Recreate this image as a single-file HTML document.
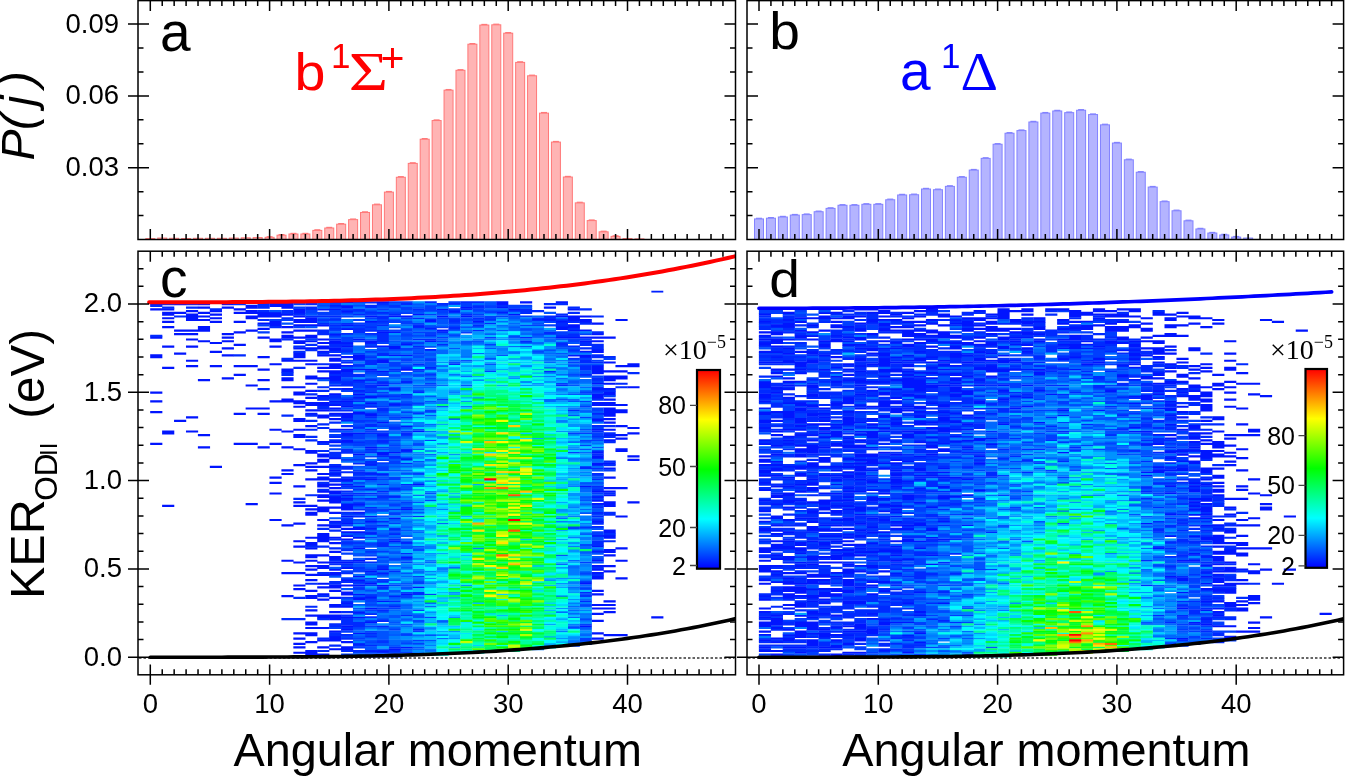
<!DOCTYPE html><html><head><meta charset="utf-8"><style>html,body{margin:0;padding:0;background:#fff;overflow:hidden}svg{display:block}text{font-family:"Liberation Sans",Arial,sans-serif}</style></head><body>
<svg width="1345" height="776" viewBox="0 0 1345 776">
<rect width="1345" height="776" fill="#fff"/>
<g fill="#ffb4b4" stroke="#ff7878" stroke-width="1">
<rect x="145.8" y="238.54" width="9" height="0.96"/>
<rect x="157.73" y="238.06" width="9" height="1.44"/>
<rect x="169.66" y="238.3" width="9" height="1.2"/>
<rect x="181.59" y="238.54" width="9" height="0.96"/>
<rect x="193.52" y="238.3" width="9" height="1.2"/>
<rect x="205.45" y="238.3" width="9" height="1.2"/>
<rect x="217.38" y="238.3" width="9" height="1.2"/>
<rect x="229.31" y="238.06" width="9" height="1.44"/>
<rect x="241.24" y="237.82" width="9" height="1.68"/>
<rect x="253.17" y="237.59" width="9" height="1.91"/>
<rect x="265.1" y="237.35" width="9" height="2.15"/>
<rect x="277.03" y="235.19" width="9" height="4.31"/>
<rect x="288.96" y="234" width="9" height="5.5"/>
<rect x="300.89" y="234" width="9" height="5.5"/>
<rect x="312.82" y="230.41" width="9" height="9.09"/>
<rect x="324.75" y="228.01" width="9" height="11.49"/>
<rect x="336.68" y="224.18" width="9" height="15.32"/>
<rect x="348.61" y="219.64" width="9" height="19.86"/>
<rect x="360.54" y="212.46" width="9" height="27.04"/>
<rect x="372.47" y="204.8" width="9" height="34.7"/>
<rect x="384.4" y="192.11" width="9" height="47.39"/>
<rect x="396.33" y="177.27" width="9" height="62.23"/>
<rect x="408.26" y="163.39" width="9" height="76.11"/>
<rect x="420.19" y="139.22" width="9" height="100.28"/>
<rect x="432.12" y="120.55" width="9" height="118.95"/>
<rect x="444.05" y="90.16" width="9" height="149.34"/>
<rect x="455.98" y="70.29" width="9" height="169.21"/>
<rect x="467.91" y="44.21" width="9" height="195.29"/>
<rect x="479.84" y="25.06" width="9" height="214.44"/>
<rect x="491.77" y="24.82" width="9" height="214.68"/>
<rect x="503.7" y="33.2" width="9" height="206.3"/>
<rect x="515.63" y="62.4" width="9" height="177.1"/>
<rect x="527.56" y="75.8" width="9" height="163.7"/>
<rect x="539.49" y="113.13" width="9" height="126.37"/>
<rect x="551.42" y="142.09" width="9" height="97.41"/>
<rect x="563.35" y="177.03" width="9" height="62.47"/>
<rect x="575.28" y="202.88" width="9" height="36.62"/>
<rect x="587.21" y="220.59" width="9" height="18.91"/>
<rect x="599.14" y="231.84" width="9" height="7.66"/>
<rect x="611.07" y="236.39" width="9" height="3.11"/>
<rect x="623" y="238.54" width="9" height="0.96"/>
<rect x="634.93" y="238.9" width="9" height="0.6"/>
</g>
<g stroke="#ff7878" stroke-width="1.2">
<line x1="266.6" x2="272.6" y1="236.75" y2="236.75"/>
<line x1="278.53" x2="284.53" y1="234.59" y2="234.59"/>
<line x1="290.46" x2="296.46" y1="233.4" y2="233.4"/>
<line x1="302.39" x2="308.39" y1="233.4" y2="233.4"/>
<line x1="314.32" x2="320.32" y1="229.81" y2="229.81"/>
<line x1="326.25" x2="332.25" y1="227.41" y2="227.41"/>
<line x1="338.18" x2="344.18" y1="223.58" y2="223.58"/>
<line x1="350.11" x2="356.11" y1="219.04" y2="219.04"/>
<line x1="362.04" x2="368.04" y1="211.86" y2="211.86"/>
<line x1="373.97" x2="379.97" y1="204.2" y2="204.2"/>
<line x1="385.9" x2="391.9" y1="191.51" y2="191.51"/>
<line x1="397.83" x2="403.83" y1="176.67" y2="176.67"/>
<line x1="409.76" x2="415.76" y1="162.79" y2="162.79"/>
<line x1="421.69" x2="427.69" y1="138.62" y2="138.62"/>
<line x1="433.62" x2="439.62" y1="119.95" y2="119.95"/>
<line x1="445.55" x2="451.55" y1="89.56" y2="89.56"/>
<line x1="457.48" x2="463.48" y1="69.69" y2="69.69"/>
<line x1="469.41" x2="475.41" y1="43.61" y2="43.61"/>
<line x1="481.34" x2="487.34" y1="24.46" y2="24.46"/>
<line x1="493.27" x2="499.27" y1="24.22" y2="24.22"/>
<line x1="505.2" x2="511.2" y1="32.6" y2="32.6"/>
<line x1="517.13" x2="523.13" y1="61.8" y2="61.8"/>
<line x1="529.06" x2="535.06" y1="75.2" y2="75.2"/>
<line x1="540.99" x2="546.99" y1="112.53" y2="112.53"/>
<line x1="552.92" x2="558.92" y1="141.49" y2="141.49"/>
<line x1="564.85" x2="570.85" y1="176.43" y2="176.43"/>
<line x1="576.78" x2="582.78" y1="202.28" y2="202.28"/>
<line x1="588.71" x2="594.71" y1="219.99" y2="219.99"/>
<line x1="600.64" x2="606.64" y1="231.24" y2="231.24"/>
<line x1="612.57" x2="618.57" y1="235.79" y2="235.79"/>
</g>
<g fill="#b4b4ff" stroke="#8282ff" stroke-width="1">
<rect x="754.5" y="218.92" width="9" height="20.58"/>
<rect x="766.43" y="218.2" width="9" height="21.3"/>
<rect x="778.36" y="217" width="9" height="22.5"/>
<rect x="790.29" y="215.09" width="9" height="24.41"/>
<rect x="802.22" y="214.61" width="9" height="24.89"/>
<rect x="814.15" y="211.74" width="9" height="27.76"/>
<rect x="826.08" y="208.39" width="9" height="31.11"/>
<rect x="838.01" y="205.28" width="9" height="34.22"/>
<rect x="849.94" y="205.28" width="9" height="34.22"/>
<rect x="861.87" y="204.32" width="9" height="35.18"/>
<rect x="873.8" y="204.32" width="9" height="35.18"/>
<rect x="885.73" y="199.77" width="9" height="39.73"/>
<rect x="897.66" y="194.98" width="9" height="44.52"/>
<rect x="909.59" y="194.75" width="9" height="44.75"/>
<rect x="921.52" y="189" width="9" height="50.5"/>
<rect x="933.45" y="189.72" width="9" height="49.78"/>
<rect x="945.38" y="186.37" width="9" height="53.13"/>
<rect x="957.31" y="177.27" width="9" height="62.23"/>
<rect x="969.24" y="170.09" width="9" height="69.41"/>
<rect x="981.17" y="158.37" width="9" height="81.13"/>
<rect x="993.1" y="144.25" width="9" height="95.25"/>
<rect x="1005.03" y="133.24" width="9" height="106.26"/>
<rect x="1016.96" y="130.6" width="9" height="108.9"/>
<rect x="1028.89" y="121.99" width="9" height="117.51"/>
<rect x="1040.82" y="113.13" width="9" height="126.37"/>
<rect x="1052.75" y="110.98" width="9" height="128.52"/>
<rect x="1064.68" y="112.66" width="9" height="126.84"/>
<rect x="1076.61" y="110.26" width="9" height="129.24"/>
<rect x="1088.54" y="114.57" width="9" height="124.93"/>
<rect x="1100.47" y="124.86" width="9" height="114.64"/>
<rect x="1112.4" y="143.05" width="9" height="96.45"/>
<rect x="1124.33" y="159.8" width="9" height="79.7"/>
<rect x="1136.26" y="172.25" width="9" height="67.25"/>
<rect x="1148.19" y="187.09" width="9" height="52.41"/>
<rect x="1160.12" y="201.69" width="9" height="37.81"/>
<rect x="1172.05" y="210.78" width="9" height="28.72"/>
<rect x="1183.98" y="220.83" width="9" height="18.67"/>
<rect x="1195.91" y="228.97" width="9" height="10.53"/>
<rect x="1207.84" y="233.04" width="9" height="6.46"/>
<rect x="1219.77" y="234.95" width="9" height="4.55"/>
<rect x="1231.7" y="237.11" width="9" height="2.39"/>
<rect x="1243.63" y="238.06" width="9" height="1.44"/>
</g>
<g stroke="#8282ff" stroke-width="1.2">
<line x1="756" x2="762" y1="218.32" y2="218.32"/>
<line x1="767.93" x2="773.93" y1="217.6" y2="217.6"/>
<line x1="779.86" x2="785.86" y1="216.4" y2="216.4"/>
<line x1="791.79" x2="797.79" y1="214.49" y2="214.49"/>
<line x1="803.72" x2="809.72" y1="214.01" y2="214.01"/>
<line x1="815.65" x2="821.65" y1="211.14" y2="211.14"/>
<line x1="827.58" x2="833.58" y1="207.79" y2="207.79"/>
<line x1="839.51" x2="845.51" y1="204.68" y2="204.68"/>
<line x1="851.44" x2="857.44" y1="204.68" y2="204.68"/>
<line x1="863.37" x2="869.37" y1="203.72" y2="203.72"/>
<line x1="875.3" x2="881.3" y1="203.72" y2="203.72"/>
<line x1="887.23" x2="893.23" y1="199.17" y2="199.17"/>
<line x1="899.16" x2="905.16" y1="194.38" y2="194.38"/>
<line x1="911.09" x2="917.09" y1="194.15" y2="194.15"/>
<line x1="923.02" x2="929.02" y1="188.4" y2="188.4"/>
<line x1="934.95" x2="940.95" y1="189.12" y2="189.12"/>
<line x1="946.88" x2="952.88" y1="185.77" y2="185.77"/>
<line x1="958.81" x2="964.81" y1="176.67" y2="176.67"/>
<line x1="970.74" x2="976.74" y1="169.49" y2="169.49"/>
<line x1="982.67" x2="988.67" y1="157.77" y2="157.77"/>
<line x1="994.6" x2="1000.6" y1="143.65" y2="143.65"/>
<line x1="1006.53" x2="1012.53" y1="132.64" y2="132.64"/>
<line x1="1018.46" x2="1024.46" y1="130" y2="130"/>
<line x1="1030.39" x2="1036.39" y1="121.39" y2="121.39"/>
<line x1="1042.32" x2="1048.32" y1="112.53" y2="112.53"/>
<line x1="1054.25" x2="1060.25" y1="110.38" y2="110.38"/>
<line x1="1066.18" x2="1072.18" y1="112.06" y2="112.06"/>
<line x1="1078.11" x2="1084.11" y1="109.66" y2="109.66"/>
<line x1="1090.04" x2="1096.04" y1="113.97" y2="113.97"/>
<line x1="1101.97" x2="1107.97" y1="124.26" y2="124.26"/>
<line x1="1113.9" x2="1119.9" y1="142.45" y2="142.45"/>
<line x1="1125.83" x2="1131.83" y1="159.2" y2="159.2"/>
<line x1="1137.76" x2="1143.76" y1="171.65" y2="171.65"/>
<line x1="1149.69" x2="1155.69" y1="186.49" y2="186.49"/>
<line x1="1161.62" x2="1167.62" y1="201.09" y2="201.09"/>
<line x1="1173.55" x2="1179.55" y1="210.18" y2="210.18"/>
<line x1="1185.48" x2="1191.48" y1="220.23" y2="220.23"/>
<line x1="1197.41" x2="1203.41" y1="228.37" y2="228.37"/>
<line x1="1209.34" x2="1215.34" y1="232.44" y2="232.44"/>
<line x1="1221.27" x2="1227.27" y1="234.35" y2="234.35"/>
<line x1="1233.2" x2="1239.2" y1="236.51" y2="236.51"/>
</g>
<g transform="translate(150.3,657.2) scale(11.93,-1.77)" fill="none" stroke-width="1.02">
<path stroke="#0015ff" d="M0.5 119.88v1.24M0.5 137.88v1.24M0.5 143.88v1.24M0.5 148.88v1.24M0.5 168.88v2.24M0.5 179.88v1.24M0.5 195.88v1.24M0.5 198.88v1.24M1.5 84.88v1.24M1.5 125.88v2.24M1.5 162.88v1.24M1.5 174.88v1.24M1.5 185.88v1.24M1.5 188.88v1.24M1.5 190.88v1.24M1.5 192.88v2.24M1.5 195.88v1.24M2.5 132.88v1.24M2.5 170.88v1.24M2.5 181.88v1.24M2.5 183.88v1.24M2.5 193.88v1.24M2.5 198.88v1.24M3.5 126.88v1.24M3.5 134.88v1.24M3.5 163.88v1.24M3.5 166.88v1.24M3.5 174.88v1.24M3.5 178.88v1.24M3.5 181.88v1.24M3.5 183.88v1.24M3.5 189.88v4.24M3.5 194.88v1.24M4.5 117.88v1.24M4.5 124.88v1.24M4.5 155.88v1.24M4.5 177.88v1.24M4.5 183.88v3.24M4.5 189.88v1.24M4.5 191.88v1.24M4.5 193.88v1.24M4.5 196.88v1.24M4.5 198.88v1.24M5.5 106.88v1.24M5.5 163.88v1.24M5.5 171.88v1.24M5.5 176.88v1.24M5.5 188.88v1.24M5.5 190.88v1.24M5.5 192.88v1.24M5.5 194.88v1.24M6.5 156.88v1.24M6.5 169.88v1.24M6.5 173.88v1.24M6.5 177.88v1.24M6.5 179.88v1.24M6.5 181.88v1.24M6.5 196.88v1.24M6.5 198.88v1.24M7.5 119.88v1.24M7.5 136.88v1.24M7.5 158.88v1.24M7.5 163.88v1.24M7.5 175.88v1.24M7.5 182.88v1.24M7.5 188.88v1.24M7.5 193.88v1.24M7.5 195.88v1.24M8.5 85.88v1.24M8.5 119.88v1.24M8.5 139.88v1.24M8.5 152.88v1.24M8.5 163.88v1.24M8.5 183.88v1.24M8.5 190.88v2.24M8.5 193.88v2.24M8.5 196.88v2.24M9.5 117.88v1.24M9.5 136.88v1.24M9.5 139.88v1.24M9.5 155.88v1.24M9.5 161.88v1.24M9.5 168.88v1.24M9.5 179.88v1.24M9.5 184.88v1.24M9.5 187.88v1.24M9.5 191.88v3.24M10.5 76.88v1.24M10.5 91.88v1.24M10.5 97.88v1.24M10.5 100.88v1.24M10.5 119.88v1.24M10.5 127.88v1.24M10.5 143.88v1.24M10.5 164.88v1.24M10.5 174.88v1.24M10.5 177.88v2.24M10.5 186.88v3.24M10.5 191.88v3.24M10.5 197.88v2.24M11.5 33.88v1.24M11.5 46.88v1.24M11.5 53.88v1.24M11.5 73.88v1.24M11.5 102.88v1.24M11.5 104.88v1.24M11.5 117.88v1.24M11.5 126.88v1.24M11.5 143.88v2.24M11.5 151.88v1.24M11.5 155.88v2.24M11.5 160.88v2.24M11.5 166.88v1.24M11.5 179.88v2.24M11.5 182.88v1.24M11.5 185.88v1.24M11.5 192.88v1.24M11.5 196.88v3.24M12.5 1.88v1.24M12.5 4.88v1.24M12.5 6.88v1.24M12.5 9.88v1.24M12.5 12.88v1.24M12.5 37.88v1.24M12.5 39.88v1.24M12.5 46.88v1.24M12.5 52.88v1.24M12.5 61.88v1.24M12.5 64.88v1.24M12.5 74.88v1.24M12.5 84.88v1.24M12.5 86.88v1.24M12.5 95.88v1.24M12.5 107.88v1.24M12.5 116.88v1.24M12.5 123.88v2.24M12.5 127.88v1.24M12.5 132.88v2.24M12.5 140.88v1.24M12.5 142.88v2.24M12.5 147.88v2.24M12.5 151.88v1.24M12.5 166.88v1.24M12.5 168.88v3.24M12.5 173.88v1.24M12.5 176.88v2.24M12.5 179.88v1.24M12.5 183.88v1.24M12.5 186.88v1.24M12.5 188.88v2.24M12.5 191.88v1.24M12.5 193.88v3.24M13.5 0.88v3.24M13.5 7.88v1.24M13.5 11.88v2.24M13.5 15.88v1.24M13.5 17.88v2.24M13.5 22.88v1.24M13.5 25.88v1.24M13.5 32.88v2.24M13.5 36.88v1.24M13.5 42.88v1.24M13.5 45.88v1.24M13.5 48.88v1.24M13.5 50.88v1.24M13.5 53.88v1.24M13.5 55.88v2.24M13.5 60.88v1.24M13.5 62.88v2.24M13.5 66.88v1.24M13.5 79.88v2.24M13.5 82.88v1.24M13.5 84.88v1.24M13.5 99.88v1.24M13.5 104.88v1.24M13.5 106.88v1.24M13.5 108.88v1.24M13.5 114.88v2.24M13.5 129.88v1.24M13.5 136.88v1.24M13.5 138.88v1.24M13.5 141.88v2.24M13.5 145.88v1.24M13.5 149.88v1.24M13.5 153.88v1.24M13.5 156.88v2.24M13.5 164.88v1.24M13.5 166.88v1.24M13.5 173.88v1.24M13.5 177.88v1.24M13.5 179.88v2.24M13.5 183.88v1.24M13.5 186.88v1.24M13.5 188.88v3.24M14.5 -0.12v2.24M14.5 4.88v1.24M14.5 8.88v1.24M14.5 15.88v1.24M14.5 21.88v2.24M14.5 31.88v1.24M14.5 34.88v1.24M14.5 38.88v1.24M14.5 40.88v1.24M14.5 45.88v1.24M14.5 49.88v2.24M14.5 52.88v1.24M14.5 56.88v1.24M14.5 64.88v5.24M14.5 73.88v1.24M14.5 76.88v1.24M14.5 81.88v3.24M14.5 87.88v1.24M14.5 89.88v2.24M14.5 92.88v1.24M14.5 95.88v2.24M14.5 99.88v2.24M14.5 102.88v1.24M14.5 106.88v1.24M14.5 109.88v2.24M14.5 112.88v2.24M14.5 120.88v1.24M14.5 134.88v2.24M14.5 138.88v1.24M14.5 141.88v2.24M14.5 146.88v1.24M14.5 156.88v1.24M14.5 160.88v1.24M14.5 162.88v1.24M14.5 169.88v1.24M14.5 171.88v1.24M14.5 173.88v2.24M14.5 176.88v1.24M14.5 178.88v1.24M14.5 186.88v1.24M14.5 195.88v1.24M15.5 -0.12v1.24M15.5 3.88v1.24M15.5 8.88v3.24M15.5 13.88v1.24M15.5 20.88v3.24M15.5 24.88v1.24M15.5 27.88v2.24M15.5 32.88v1.24M15.5 36.88v1.24M15.5 38.88v2.24M15.5 45.88v2.24M15.5 48.88v1.24M15.5 52.88v1.24M15.5 54.88v2.24M15.5 58.88v1.24M15.5 63.88v1.24M15.5 66.88v1.24M15.5 72.88v2.24M15.5 75.88v1.24M15.5 80.88v1.24M15.5 83.88v1.24M15.5 86.88v4.24M15.5 91.88v2.24M15.5 94.88v1.24M15.5 96.88v1.24M15.5 99.88v1.24M15.5 102.88v1.24M15.5 104.88v1.24M15.5 106.88v1.24M15.5 111.88v1.24M15.5 120.88v1.24M15.5 127.88v1.24M15.5 133.88v1.24M15.5 136.88v1.24M15.5 139.88v1.24M15.5 141.88v1.24M15.5 143.88v1.24M15.5 147.88v1.24M15.5 155.88v3.24M15.5 159.88v2.24M15.5 162.88v3.24M15.5 166.88v2.24M15.5 169.88v1.24M15.5 172.88v2.24M15.5 176.88v2.24M15.5 181.88v1.24M15.5 195.88v1.24M15.5 197.88v1.24M15.5 199.88v1.24M16.5 3.88v2.24M16.5 7.88v1.24M16.5 14.88v1.24M16.5 16.88v1.24M16.5 21.88v1.24M16.5 27.88v1.24M16.5 29.88v1.24M16.5 34.88v2.24M16.5 39.88v1.24M16.5 42.88v1.24M16.5 49.88v1.24M16.5 52.88v1.24M16.5 65.88v1.24M16.5 67.88v1.24M16.5 69.88v1.24M16.5 71.88v1.24M16.5 74.88v1.24M16.5 78.88v1.24M16.5 82.88v4.24M16.5 88.88v1.24M16.5 90.88v1.24M16.5 96.88v1.24M16.5 98.88v2.24M16.5 120.88v2.24M16.5 124.88v2.24M16.5 127.88v1.24M16.5 132.88v1.24M16.5 134.88v3.24M16.5 140.88v1.24M16.5 143.88v1.24M16.5 150.88v1.24M16.5 160.88v2.24M16.5 163.88v1.24M16.5 168.88v1.24M16.5 174.88v1.24M16.5 176.88v1.24M16.5 184.88v1.24M16.5 186.88v1.24M16.5 194.88v1.24M16.5 196.88v2.24M16.5 199.88v1.24M17.5 6.88v1.24M17.5 12.88v1.24M17.5 21.88v1.24M17.5 24.88v1.24M17.5 31.88v2.24M17.5 34.88v1.24M17.5 39.88v1.24M17.5 42.88v1.24M17.5 44.88v1.24M17.5 53.88v1.24M17.5 60.88v1.24M17.5 66.88v1.24M17.5 69.88v1.24M17.5 71.88v2.24M17.5 80.88v1.24M17.5 85.88v1.24M17.5 95.88v1.24M17.5 113.88v1.24M17.5 125.88v1.24M17.5 136.88v2.24M17.5 145.88v1.24M17.5 147.88v1.24M17.5 149.88v1.24M17.5 155.88v1.24M17.5 161.88v1.24M17.5 167.88v3.24M17.5 178.88v1.24M18.5 -0.12v1.24M18.5 2.88v1.24M18.5 18.88v1.24M18.5 26.88v1.24M18.5 32.88v1.24M18.5 40.88v1.24M18.5 47.88v1.24M18.5 68.88v1.24M18.5 71.88v1.24M18.5 75.88v1.24M18.5 78.88v1.24M18.5 93.88v1.24M18.5 99.88v1.24M18.5 102.88v1.24M18.5 107.88v1.24M18.5 117.88v1.24M18.5 135.88v2.24M18.5 142.88v1.24M18.5 145.88v2.24M18.5 155.88v1.24M18.5 161.88v1.24M18.5 176.88v2.24M18.5 188.88v1.24M18.5 191.88v1.24M19.5 2.88v1.24M19.5 30.88v1.24M19.5 39.88v1.24M19.5 46.88v1.24M19.5 48.88v1.24M19.5 102.88v1.24M19.5 113.88v2.24M19.5 124.88v1.24M19.5 131.88v1.24M19.5 146.88v1.24M19.5 152.88v1.24M19.5 160.88v1.24M19.5 165.88v2.24M19.5 174.88v1.24M19.5 182.88v1.24M19.5 193.88v1.24M19.5 199.88v1.24M20.5 0.88v1.24M20.5 3.88v1.24M20.5 33.88v1.24M20.5 64.88v1.24M20.5 68.88v1.24M20.5 71.88v1.24M20.5 77.88v1.24M20.5 89.88v1.24M20.5 114.88v1.24M20.5 141.88v1.24M20.5 150.88v1.24M20.5 169.88v1.24M20.5 173.88v2.24M20.5 182.88v1.24M20.5 191.88v1.24M21.5 4.88v1.24M21.5 34.88v1.24M21.5 55.88v1.24M21.5 63.88v1.24M21.5 82.88v1.24M21.5 110.88v1.24M21.5 115.88v1.24M21.5 129.88v1.24M21.5 154.88v1.24M21.5 161.88v1.24M21.5 169.88v1.24M21.5 175.88v1.24M21.5 191.88v1.24M21.5 198.88v1.24M22.5 38.88v1.24M22.5 96.88v1.24M22.5 126.88v1.24M22.5 185.88v1.24M22.5 192.88v1.24M23.5 162.88v1.24M23.5 172.88v1.24M23.5 177.88v1.24M23.5 184.88v1.24M23.5 188.88v2.24M24.5 183.88v1.24M24.5 191.88v1.24M24.5 195.88v1.24M25.5 194.88v1.24M25.5 198.88v1.24M26.5 191.88v1.24M26.5 196.88v1.24M27.5 188.88v1.24M29.5 193.88v1.24M29.5 196.88v1.24M29.5 198.88v2.24M30.5 192.88v1.24M30.5 195.88v1.24M31.5 199.88v1.24M32.5 189.88v1.24M33.5 189.88v1.24M33.5 196.88v1.24M34.5 179.88v1.24M34.5 184.88v2.24M34.5 188.88v1.24M34.5 191.88v1.24M34.5 199.88v1.24M35.5 169.88v1.24M35.5 179.88v1.24M35.5 183.88v1.24M35.5 185.88v2.24M35.5 189.88v3.24M35.5 195.88v1.24M36.5 16.88v1.24M36.5 33.88v1.24M36.5 40.88v1.24M36.5 95.88v1.24M36.5 158.88v1.24M36.5 168.88v2.24M36.5 171.88v1.24M36.5 177.88v1.24M36.5 179.88v1.24M36.5 183.88v1.24M36.5 188.88v2.24M36.5 191.88v1.24M37.5 9.88v1.24M37.5 12.88v1.24M37.5 19.88v1.24M37.5 23.88v1.24M37.5 26.88v1.24M37.5 28.88v1.24M37.5 34.88v1.24M37.5 36.88v1.24M37.5 43.88v2.24M37.5 46.88v1.24M37.5 48.88v1.24M37.5 50.88v1.24M37.5 53.88v1.24M37.5 58.88v1.24M37.5 61.88v1.24M37.5 67.88v1.24M37.5 75.88v1.24M37.5 80.88v1.24M37.5 85.88v1.24M37.5 87.88v1.24M37.5 89.88v1.24M37.5 92.88v1.24M37.5 107.88v2.24M37.5 111.88v2.24M37.5 114.88v1.24M37.5 127.88v1.24M37.5 132.88v2.24M37.5 136.88v1.24M37.5 141.88v2.24M37.5 145.88v3.24M37.5 150.88v1.24M37.5 153.88v1.24M37.5 159.88v5.24M37.5 171.88v2.24M37.5 177.88v1.24M37.5 179.88v1.24M37.5 181.88v1.24M37.5 187.88v1.24M38.5 11.88v1.24M38.5 24.88v1.24M38.5 26.88v1.24M38.5 28.88v1.24M38.5 30.88v1.24M38.5 47.88v1.24M38.5 50.88v1.24M38.5 56.88v1.24M38.5 58.88v2.24M38.5 66.88v2.24M38.5 69.88v2.24M38.5 84.88v3.24M38.5 90.88v1.24M38.5 92.88v1.24M38.5 94.88v1.24M38.5 100.88v1.24M38.5 105.88v1.24M38.5 108.88v1.24M38.5 121.88v1.24M38.5 124.88v1.24M38.5 127.88v1.24M38.5 131.88v1.24M38.5 133.88v1.24M38.5 135.88v5.24M38.5 141.88v2.24M38.5 144.88v1.24M38.5 147.88v2.24M38.5 150.88v1.24M38.5 153.88v1.24M38.5 155.88v3.24M38.5 160.88v1.24M38.5 165.88v1.24M38.5 179.88v1.24M39.5 11.88v1.24M39.5 43.88v1.24M39.5 53.88v1.24M39.5 60.88v1.24M39.5 78.88v1.24M39.5 94.88v1.24M39.5 115.88v2.24M39.5 122.88v1.24M39.5 124.88v1.24M39.5 129.88v1.24M39.5 137.88v2.24M39.5 141.88v1.24M39.5 156.88v2.24M39.5 160.88v1.24M39.5 163.88v1.24M39.5 189.88v1.24M40.5 86.88v1.24M40.5 110.88v1.24M40.5 112.88v1.24M40.5 125.88v1.24M40.5 128.88v1.24M40.5 151.88v1.24M40.5 163.88v2.24M42.5 21.88v1.24"/>
<path stroke="#002aff" d="M0.5 180.88v1.24M0.5 197.88v1.24M1.5 196.88v1.24M1.5 198.88v1.24M2.5 191.88v1.24M3.5 196.88v1.24M3.5 198.88v1.24M5.5 195.88v1.24M7.5 169.88v1.24M7.5 198.88v1.24M9.5 150.88v1.24M9.5 189.88v1.24M9.5 194.88v1.24M9.5 196.88v3.24M10.5 185.88v1.24M11.5 20.88v1.24M11.5 135.88v1.24M11.5 158.88v2.24M11.5 167.88v1.24M11.5 178.88v1.24M11.5 190.88v1.24M11.5 193.88v2.24M12.5 20.88v1.24M12.5 32.88v1.24M12.5 88.88v1.24M12.5 162.88v1.24M12.5 171.88v1.24M12.5 174.88v1.24M12.5 192.88v1.24M13.5 27.88v1.24M13.5 40.88v1.24M13.5 61.88v1.24M13.5 90.88v1.24M13.5 121.88v1.24M13.5 123.88v1.24M13.5 127.88v1.24M13.5 132.88v1.24M13.5 135.88v1.24M13.5 147.88v1.24M13.5 172.88v1.24M13.5 175.88v1.24M13.5 191.88v1.24M13.5 195.88v2.24M13.5 198.88v1.24M14.5 2.88v1.24M14.5 9.88v1.24M14.5 20.88v1.24M14.5 33.88v1.24M14.5 46.88v1.24M14.5 61.88v1.24M14.5 71.88v1.24M14.5 93.88v1.24M14.5 97.88v1.24M14.5 115.88v1.24M14.5 119.88v1.24M14.5 128.88v1.24M14.5 130.88v1.24M14.5 139.88v2.24M14.5 144.88v2.24M14.5 149.88v1.24M14.5 151.88v1.24M14.5 164.88v1.24M14.5 170.88v1.24M14.5 181.88v3.24M14.5 187.88v1.24M14.5 189.88v1.24M14.5 191.88v1.24M15.5 5.88v1.24M15.5 11.88v2.24M15.5 16.88v2.24M15.5 40.88v2.24M15.5 51.88v1.24M15.5 53.88v1.24M15.5 60.88v1.24M15.5 65.88v1.24M15.5 70.88v1.24M15.5 74.88v1.24M15.5 98.88v1.24M15.5 101.88v1.24M15.5 103.88v1.24M15.5 107.88v1.24M15.5 112.88v3.24M15.5 121.88v1.24M15.5 123.88v1.24M15.5 131.88v1.24M15.5 135.88v1.24M15.5 138.88v1.24M15.5 142.88v1.24M15.5 145.88v2.24M15.5 150.88v1.24M15.5 152.88v1.24M15.5 154.88v1.24M15.5 158.88v1.24M15.5 171.88v1.24M15.5 174.88v2.24M15.5 178.88v1.24M15.5 180.88v1.24M15.5 184.88v1.24M15.5 186.88v1.24M15.5 189.88v1.24M15.5 191.88v1.24M16.5 2.88v1.24M16.5 9.88v1.24M16.5 11.88v1.24M16.5 15.88v1.24M16.5 17.88v4.24M16.5 22.88v1.24M16.5 24.88v1.24M16.5 28.88v1.24M16.5 30.88v1.24M16.5 32.88v1.24M16.5 41.88v1.24M16.5 46.88v1.24M16.5 51.88v1.24M16.5 53.88v1.24M16.5 59.88v1.24M16.5 63.88v1.24M16.5 75.88v2.24M16.5 80.88v1.24M16.5 87.88v1.24M16.5 92.88v1.24M16.5 95.88v1.24M16.5 100.88v1.24M16.5 103.88v1.24M16.5 105.88v2.24M16.5 110.88v1.24M16.5 114.88v3.24M16.5 123.88v1.24M16.5 129.88v1.24M16.5 133.88v1.24M16.5 138.88v1.24M16.5 141.88v2.24M16.5 144.88v1.24M16.5 152.88v3.24M16.5 157.88v3.24M16.5 165.88v1.24M16.5 171.88v2.24M16.5 175.88v1.24M16.5 181.88v1.24M16.5 187.88v1.24M16.5 193.88v1.24M17.5 2.88v1.24M17.5 5.88v1.24M17.5 16.88v3.24M17.5 23.88v1.24M17.5 37.88v1.24M17.5 41.88v1.24M17.5 49.88v1.24M17.5 52.88v1.24M17.5 63.88v1.24M17.5 78.88v1.24M17.5 82.88v1.24M17.5 84.88v1.24M17.5 91.88v1.24M17.5 93.88v1.24M17.5 97.88v1.24M17.5 99.88v2.24M17.5 102.88v2.24M17.5 108.88v1.24M17.5 110.88v1.24M17.5 120.88v1.24M17.5 128.88v1.24M17.5 132.88v1.24M17.5 141.88v1.24M17.5 143.88v1.24M17.5 154.88v1.24M17.5 157.88v2.24M17.5 163.88v1.24M17.5 182.88v3.24M17.5 186.88v1.24M17.5 192.88v1.24M17.5 194.88v2.24M18.5 5.88v1.24M18.5 10.88v1.24M18.5 12.88v1.24M18.5 19.88v1.24M18.5 21.88v1.24M18.5 23.88v1.24M18.5 33.88v1.24M18.5 45.88v1.24M18.5 52.88v1.24M18.5 54.88v1.24M18.5 58.88v1.24M18.5 69.88v1.24M18.5 83.88v1.24M18.5 88.88v1.24M18.5 91.88v1.24M18.5 100.88v1.24M18.5 108.88v2.24M18.5 114.88v1.24M18.5 116.88v1.24M18.5 125.88v1.24M18.5 127.88v1.24M18.5 129.88v2.24M18.5 132.88v1.24M18.5 134.88v1.24M18.5 140.88v1.24M18.5 148.88v1.24M18.5 151.88v2.24M18.5 160.88v1.24M18.5 164.88v3.24M18.5 168.88v1.24M18.5 171.88v1.24M18.5 174.88v1.24M18.5 181.88v1.24M18.5 183.88v1.24M18.5 185.88v1.24M18.5 193.88v1.24M18.5 196.88v2.24M18.5 199.88v1.24M19.5 1.88v1.24M19.5 7.88v1.24M19.5 16.88v1.24M19.5 19.88v1.24M19.5 25.88v1.24M19.5 37.88v2.24M19.5 41.88v1.24M19.5 49.88v2.24M19.5 55.88v1.24M19.5 58.88v1.24M19.5 61.88v3.24M19.5 73.88v1.24M19.5 75.88v1.24M19.5 89.88v1.24M19.5 92.88v1.24M19.5 96.88v1.24M19.5 112.88v1.24M19.5 120.88v2.24M19.5 123.88v1.24M19.5 125.88v1.24M19.5 138.88v2.24M19.5 150.88v1.24M19.5 153.88v2.24M19.5 167.88v1.24M19.5 169.88v2.24M19.5 177.88v5.24M19.5 183.88v1.24M19.5 186.88v1.24M19.5 188.88v1.24M19.5 190.88v2.24M19.5 198.88v1.24M20.5 -0.12v1.24M20.5 2.88v1.24M20.5 4.88v1.24M20.5 27.88v1.24M20.5 30.88v1.24M20.5 47.88v1.24M20.5 65.88v1.24M20.5 82.88v1.24M20.5 93.88v2.24M20.5 111.88v2.24M20.5 128.88v1.24M20.5 142.88v1.24M20.5 146.88v1.24M20.5 161.88v1.24M20.5 192.88v1.24M20.5 197.88v1.24M21.5 11.88v1.24M21.5 22.88v1.24M21.5 54.88v1.24M21.5 57.88v1.24M21.5 83.88v1.24M21.5 96.88v1.24M21.5 108.88v1.24M21.5 111.88v1.24M21.5 116.88v1.24M21.5 124.88v2.24M21.5 134.88v1.24M21.5 137.88v1.24M21.5 141.88v1.24M21.5 147.88v1.24M21.5 162.88v1.24M21.5 176.88v1.24M22.5 6.88v1.24M22.5 14.88v1.24M22.5 19.88v1.24M22.5 34.88v2.24M22.5 59.88v1.24M22.5 78.88v1.24M22.5 102.88v1.24M22.5 136.88v1.24M22.5 148.88v1.24M22.5 161.88v1.24M22.5 164.88v1.24M22.5 174.88v1.24M22.5 176.88v1.24M22.5 178.88v1.24M22.5 186.88v1.24M22.5 190.88v1.24M22.5 195.88v1.24M23.5 11.88v1.24M23.5 158.88v1.24M23.5 178.88v1.24M23.5 180.88v1.24M23.5 199.88v1.24M24.5 175.88v1.24M24.5 182.88v1.24M24.5 198.88v1.24M25.5 164.88v1.24M25.5 184.88v2.24M25.5 188.88v2.24M25.5 193.88v1.24M26.5 192.88v1.24M26.5 195.88v1.24M26.5 199.88v1.24M27.5 183.88v1.24M27.5 186.88v1.24M27.5 190.88v1.24M27.5 196.88v2.24M27.5 199.88v1.24M28.5 187.88v1.24M28.5 189.88v1.24M29.5 197.88v1.24M30.5 194.88v1.24M31.5 177.88v1.24M31.5 179.88v1.24M31.5 193.88v3.24M32.5 190.88v1.24M32.5 194.88v1.24M33.5 160.88v1.24M33.5 181.88v2.24M33.5 190.88v2.24M33.5 198.88v1.24M34.5 152.88v1.24M34.5 175.88v2.24M34.5 180.88v1.24M34.5 186.88v2.24M34.5 189.88v1.24M34.5 192.88v1.24M34.5 198.88v1.24M35.5 138.88v1.24M35.5 167.88v1.24M35.5 172.88v1.24M35.5 174.88v1.24M35.5 180.88v2.24M35.5 184.88v1.24M35.5 188.88v1.24M35.5 193.88v1.24M35.5 196.88v1.24M36.5 30.88v1.24M36.5 35.88v1.24M36.5 37.88v1.24M36.5 41.88v1.24M36.5 62.88v1.24M36.5 72.88v1.24M36.5 105.88v2.24M36.5 161.88v3.24M36.5 165.88v2.24M36.5 173.88v1.24M36.5 175.88v2.24M36.5 187.88v1.24M36.5 195.88v1.24M37.5 45.88v1.24M37.5 49.88v1.24M37.5 62.88v3.24M37.5 72.88v1.24M37.5 74.88v1.24M37.5 76.88v1.24M37.5 78.88v1.24M37.5 83.88v1.24M37.5 93.88v1.24M37.5 95.88v1.24M37.5 99.88v1.24M37.5 102.88v1.24M37.5 105.88v1.24M37.5 113.88v1.24M37.5 115.88v1.24M37.5 123.88v1.24M37.5 126.88v1.24M37.5 129.88v1.24M37.5 144.88v1.24M37.5 149.88v1.24M37.5 151.88v1.24M37.5 155.88v2.24M37.5 165.88v1.24M37.5 168.88v2.24M37.5 173.88v3.24M37.5 182.88v1.24M37.5 191.88v1.24M38.5 64.88v1.24M38.5 68.88v1.24M38.5 79.88v2.24M38.5 91.88v1.24M38.5 107.88v1.24M38.5 109.88v1.24M38.5 120.88v1.24M38.5 123.88v1.24M38.5 125.88v1.24M38.5 129.88v1.24M38.5 149.88v1.24M38.5 168.88v1.24M39.5 151.88v1.24M39.5 153.88v1.24M40.5 159.88v1.24"/>
<path stroke="#003eff" d="M9.5 182.88v1.24M9.5 186.88v1.24M10.5 189.88v1.24M11.5 189.88v1.24M12.5 185.88v1.24M12.5 196.88v1.24M12.5 198.88v1.24M13.5 178.88v1.24M13.5 193.88v2.24M14.5 192.88v2.24M14.5 197.88v1.24M15.5 15.88v1.24M15.5 90.88v1.24M15.5 105.88v1.24M15.5 116.88v1.24M15.5 118.88v1.24M15.5 124.88v1.24M15.5 126.88v1.24M15.5 144.88v1.24M15.5 153.88v1.24M15.5 183.88v1.24M15.5 185.88v1.24M15.5 187.88v1.24M15.5 190.88v1.24M15.5 192.88v3.24M15.5 196.88v1.24M15.5 198.88v1.24M16.5 0.88v1.24M16.5 10.88v1.24M16.5 13.88v1.24M16.5 43.88v1.24M16.5 47.88v1.24M16.5 50.88v1.24M16.5 57.88v1.24M16.5 60.88v1.24M16.5 62.88v1.24M16.5 64.88v1.24M16.5 73.88v1.24M16.5 77.88v1.24M16.5 79.88v1.24M16.5 89.88v1.24M16.5 91.88v1.24M16.5 94.88v1.24M16.5 119.88v1.24M16.5 122.88v1.24M16.5 145.88v1.24M16.5 149.88v1.24M16.5 155.88v1.24M16.5 166.88v1.24M16.5 173.88v1.24M16.5 177.88v3.24M16.5 191.88v1.24M16.5 195.88v1.24M17.5 1.88v1.24M17.5 4.88v1.24M17.5 9.88v1.24M17.5 15.88v1.24M17.5 38.88v1.24M17.5 40.88v1.24M17.5 47.88v2.24M17.5 61.88v1.24M17.5 68.88v1.24M17.5 74.88v1.24M17.5 79.88v1.24M17.5 86.88v1.24M17.5 88.88v1.24M17.5 90.88v1.24M17.5 101.88v1.24M17.5 104.88v1.24M17.5 114.88v1.24M17.5 118.88v2.24M17.5 122.88v3.24M17.5 129.88v1.24M17.5 131.88v1.24M17.5 139.88v2.24M17.5 144.88v1.24M17.5 146.88v1.24M17.5 148.88v1.24M17.5 151.88v3.24M17.5 164.88v1.24M17.5 166.88v1.24M17.5 170.88v1.24M17.5 177.88v1.24M17.5 185.88v1.24M17.5 187.88v1.24M17.5 189.88v1.24M17.5 197.88v1.24M17.5 199.88v1.24M18.5 1.88v1.24M18.5 7.88v1.24M18.5 11.88v1.24M18.5 13.88v1.24M18.5 16.88v1.24M18.5 25.88v1.24M18.5 28.88v1.24M18.5 30.88v2.24M18.5 34.88v1.24M18.5 36.88v1.24M18.5 39.88v1.24M18.5 41.88v1.24M18.5 43.88v1.24M18.5 46.88v1.24M18.5 48.88v1.24M18.5 56.88v1.24M18.5 62.88v2.24M18.5 66.88v1.24M18.5 72.88v2.24M18.5 76.88v1.24M18.5 81.88v2.24M18.5 103.88v1.24M18.5 112.88v1.24M18.5 115.88v1.24M18.5 119.88v3.24M18.5 126.88v1.24M18.5 141.88v1.24M18.5 149.88v2.24M18.5 153.88v1.24M18.5 159.88v1.24M18.5 175.88v1.24M18.5 184.88v1.24M18.5 186.88v2.24M18.5 190.88v1.24M18.5 192.88v1.24M18.5 194.88v1.24M19.5 -0.12v1.24M19.5 8.88v1.24M19.5 20.88v1.24M19.5 24.88v1.24M19.5 26.88v1.24M19.5 28.88v1.24M19.5 42.88v1.24M19.5 45.88v1.24M19.5 67.88v1.24M19.5 81.88v2.24M19.5 88.88v1.24M19.5 90.88v1.24M19.5 99.88v1.24M19.5 101.88v1.24M19.5 104.88v3.24M19.5 108.88v1.24M19.5 110.88v1.24M19.5 117.88v1.24M19.5 119.88v1.24M19.5 122.88v1.24M19.5 126.88v1.24M19.5 129.88v1.24M19.5 135.88v1.24M19.5 137.88v1.24M19.5 140.88v1.24M19.5 148.88v1.24M19.5 158.88v2.24M19.5 172.88v1.24M19.5 176.88v1.24M19.5 187.88v1.24M19.5 189.88v1.24M19.5 195.88v1.24M19.5 197.88v1.24M20.5 1.88v1.24M20.5 14.88v1.24M20.5 26.88v1.24M20.5 28.88v1.24M20.5 36.88v1.24M20.5 39.88v1.24M20.5 54.88v1.24M20.5 61.88v1.24M20.5 70.88v1.24M20.5 74.88v1.24M20.5 79.88v2.24M20.5 84.88v2.24M20.5 99.88v2.24M20.5 108.88v2.24M20.5 118.88v1.24M20.5 121.88v1.24M20.5 123.88v1.24M20.5 127.88v1.24M20.5 129.88v1.24M20.5 134.88v1.24M20.5 144.88v1.24M20.5 149.88v1.24M20.5 151.88v1.24M20.5 153.88v1.24M20.5 158.88v1.24M20.5 160.88v1.24M20.5 163.88v3.24M20.5 167.88v1.24M20.5 172.88v1.24M20.5 183.88v1.24M20.5 188.88v2.24M20.5 193.88v1.24M20.5 196.88v1.24M20.5 199.88v1.24M21.5 1.88v1.24M21.5 6.88v1.24M21.5 32.88v2.24M21.5 35.88v1.24M21.5 46.88v1.24M21.5 52.88v1.24M21.5 86.88v1.24M21.5 93.88v1.24M21.5 102.88v1.24M21.5 126.88v1.24M21.5 142.88v1.24M21.5 145.88v2.24M21.5 163.88v1.24M21.5 166.88v2.24M21.5 172.88v2.24M21.5 180.88v2.24M21.5 183.88v2.24M21.5 187.88v2.24M21.5 190.88v1.24M21.5 193.88v1.24M21.5 195.88v2.24M21.5 199.88v1.24M22.5 8.88v1.24M22.5 13.88v1.24M22.5 25.88v1.24M22.5 40.88v2.24M22.5 44.88v1.24M22.5 80.88v1.24M22.5 119.88v1.24M22.5 142.88v1.24M22.5 149.88v1.24M22.5 158.88v1.24M22.5 160.88v1.24M22.5 168.88v1.24M22.5 170.88v1.24M22.5 173.88v1.24M22.5 180.88v1.24M22.5 182.88v1.24M22.5 187.88v1.24M22.5 194.88v1.24M23.5 21.88v1.24M23.5 34.88v1.24M23.5 87.88v1.24M23.5 110.88v1.24M23.5 121.88v1.24M23.5 137.88v2.24M23.5 146.88v1.24M23.5 153.88v1.24M23.5 156.88v1.24M23.5 166.88v2.24M23.5 181.88v2.24M23.5 185.88v1.24M23.5 192.88v1.24M23.5 194.88v4.24M24.5 19.88v1.24M24.5 144.88v1.24M24.5 177.88v1.24M24.5 179.88v1.24M24.5 185.88v1.24M24.5 190.88v1.24M24.5 193.88v2.24M24.5 197.88v1.24M25.5 133.88v1.24M25.5 180.88v1.24M25.5 187.88v1.24M25.5 190.88v1.24M25.5 195.88v1.24M25.5 199.88v1.24M26.5 182.88v1.24M26.5 185.88v1.24M26.5 189.88v1.24M26.5 197.88v2.24M27.5 185.88v1.24M27.5 189.88v1.24M27.5 192.88v1.24M27.5 194.88v2.24M28.5 160.88v1.24M28.5 167.88v1.24M28.5 175.88v1.24M28.5 179.88v1.24M28.5 181.88v1.24M28.5 190.88v2.24M28.5 193.88v2.24M28.5 196.88v2.24M29.5 191.88v1.24M29.5 194.88v1.24M30.5 180.88v1.24M30.5 196.88v2.24M31.5 176.88v1.24M31.5 184.88v1.24M31.5 186.88v1.24M31.5 191.88v1.24M31.5 197.88v1.24M32.5 171.88v1.24M32.5 181.88v1.24M32.5 186.88v1.24M33.5 172.88v1.24M33.5 186.88v1.24M33.5 188.88v1.24M34.5 24.88v1.24M34.5 153.88v1.24M34.5 174.88v1.24M34.5 181.88v2.24M35.5 5.88v1.24M35.5 15.88v1.24M35.5 71.88v2.24M35.5 114.88v1.24M35.5 120.88v1.24M35.5 125.88v1.24M35.5 158.88v1.24M35.5 163.88v1.24M35.5 165.88v1.24M35.5 171.88v1.24M35.5 177.88v2.24M36.5 6.88v1.24M36.5 8.88v2.24M36.5 17.88v1.24M36.5 20.88v1.24M36.5 28.88v1.24M36.5 46.88v1.24M36.5 52.88v1.24M36.5 68.88v1.24M36.5 97.88v1.24M36.5 118.88v1.24M36.5 121.88v1.24M36.5 125.88v1.24M36.5 134.88v1.24M36.5 140.88v1.24M36.5 143.88v1.24M36.5 148.88v1.24M36.5 167.88v1.24M36.5 178.88v1.24M36.5 181.88v1.24M37.5 54.88v1.24M37.5 59.88v1.24M37.5 68.88v2.24M37.5 79.88v1.24M37.5 84.88v1.24M37.5 88.88v1.24M37.5 91.88v1.24M37.5 94.88v1.24M37.5 97.88v1.24M37.5 101.88v1.24M37.5 121.88v1.24M37.5 124.88v2.24M37.5 128.88v1.24M37.5 138.88v2.24M37.5 148.88v1.24M37.5 154.88v1.24M37.5 157.88v1.24M37.5 166.88v1.24M38.5 104.88v1.24M38.5 146.88v1.24M38.5 167.88v1.24"/>
<path stroke="#0053ff" d="M10.5 194.88v1.24M11.5 187.88v1.24M13.5 185.88v1.24M13.5 192.88v1.24M14.5 155.88v1.24M14.5 188.88v1.24M14.5 190.88v1.24M14.5 198.88v1.24M15.5 44.88v1.24M15.5 49.88v1.24M15.5 77.88v1.24M15.5 179.88v1.24M16.5 31.88v1.24M16.5 37.88v1.24M16.5 68.88v1.24M16.5 118.88v1.24M16.5 126.88v1.24M16.5 139.88v1.24M16.5 156.88v1.24M16.5 162.88v1.24M16.5 170.88v1.24M16.5 185.88v1.24M16.5 192.88v1.24M17.5 8.88v1.24M17.5 10.88v1.24M17.5 14.88v1.24M17.5 20.88v1.24M17.5 26.88v1.24M17.5 28.88v1.24M17.5 33.88v1.24M17.5 50.88v2.24M17.5 54.88v1.24M17.5 56.88v2.24M17.5 62.88v1.24M17.5 64.88v1.24M17.5 67.88v1.24M17.5 76.88v1.24M17.5 94.88v1.24M17.5 106.88v1.24M17.5 111.88v2.24M17.5 115.88v1.24M17.5 121.88v1.24M17.5 130.88v1.24M17.5 133.88v3.24M17.5 150.88v1.24M17.5 179.88v1.24M17.5 181.88v1.24M17.5 193.88v1.24M18.5 0.88v1.24M18.5 3.88v2.24M18.5 6.88v1.24M18.5 8.88v1.24M18.5 29.88v1.24M18.5 49.88v1.24M18.5 57.88v1.24M18.5 59.88v1.24M18.5 61.88v1.24M18.5 70.88v1.24M18.5 74.88v1.24M18.5 80.88v1.24M18.5 85.88v1.24M18.5 87.88v1.24M18.5 90.88v1.24M18.5 94.88v1.24M18.5 98.88v1.24M18.5 101.88v1.24M18.5 105.88v1.24M18.5 118.88v1.24M18.5 123.88v2.24M18.5 131.88v1.24M18.5 133.88v1.24M18.5 137.88v1.24M18.5 143.88v1.24M18.5 156.88v1.24M18.5 158.88v1.24M18.5 167.88v1.24M18.5 169.88v1.24M18.5 178.88v1.24M18.5 180.88v1.24M19.5 3.88v1.24M19.5 5.88v2.24M19.5 9.88v5.24M19.5 15.88v1.24M19.5 27.88v1.24M19.5 33.88v3.24M19.5 52.88v2.24M19.5 64.88v2.24M19.5 68.88v1.24M19.5 72.88v1.24M19.5 78.88v1.24M19.5 85.88v1.24M19.5 87.88v1.24M19.5 91.88v1.24M19.5 94.88v1.24M19.5 100.88v1.24M19.5 107.88v1.24M19.5 116.88v1.24M19.5 130.88v1.24M19.5 132.88v1.24M19.5 136.88v1.24M19.5 141.88v3.24M19.5 145.88v1.24M19.5 147.88v1.24M19.5 162.88v1.24M19.5 171.88v1.24M19.5 173.88v1.24M19.5 192.88v1.24M19.5 196.88v1.24M20.5 5.88v1.24M20.5 11.88v1.24M20.5 15.88v1.24M20.5 18.88v1.24M20.5 21.88v2.24M20.5 32.88v1.24M20.5 42.88v1.24M20.5 53.88v1.24M20.5 57.88v2.24M20.5 63.88v1.24M20.5 66.88v1.24M20.5 69.88v1.24M20.5 76.88v1.24M20.5 87.88v1.24M20.5 90.88v1.24M20.5 104.88v1.24M20.5 106.88v1.24M20.5 110.88v1.24M20.5 115.88v3.24M20.5 119.88v1.24M20.5 122.88v1.24M20.5 130.88v1.24M20.5 133.88v1.24M20.5 135.88v1.24M20.5 140.88v1.24M20.5 145.88v1.24M20.5 147.88v1.24M20.5 157.88v1.24M20.5 170.88v1.24M20.5 175.88v1.24M20.5 177.88v1.24M20.5 180.88v1.24M20.5 185.88v1.24M20.5 194.88v1.24M20.5 198.88v1.24M21.5 3.88v1.24M21.5 7.88v1.24M21.5 12.88v1.24M21.5 17.88v1.24M21.5 20.88v1.24M21.5 28.88v1.24M21.5 37.88v2.24M21.5 40.88v1.24M21.5 49.88v1.24M21.5 60.88v2.24M21.5 64.88v1.24M21.5 67.88v1.24M21.5 70.88v1.24M21.5 72.88v1.24M21.5 78.88v1.24M21.5 80.88v1.24M21.5 85.88v1.24M21.5 94.88v2.24M21.5 106.88v1.24M21.5 114.88v1.24M21.5 123.88v1.24M21.5 128.88v1.24M21.5 143.88v1.24M21.5 153.88v1.24M21.5 155.88v2.24M21.5 158.88v2.24M21.5 165.88v1.24M21.5 178.88v2.24M21.5 182.88v1.24M21.5 194.88v1.24M22.5 0.88v1.24M22.5 4.88v1.24M22.5 11.88v1.24M22.5 21.88v2.24M22.5 32.88v1.24M22.5 61.88v1.24M22.5 82.88v1.24M22.5 86.88v1.24M22.5 97.88v1.24M22.5 109.88v1.24M22.5 116.88v1.24M22.5 118.88v1.24M22.5 127.88v1.24M22.5 137.88v1.24M22.5 141.88v1.24M22.5 152.88v1.24M22.5 157.88v1.24M22.5 163.88v1.24M22.5 166.88v1.24M22.5 169.88v1.24M22.5 171.88v2.24M22.5 184.88v1.24M22.5 193.88v1.24M22.5 196.88v1.24M22.5 198.88v1.24M23.5 8.88v1.24M23.5 91.88v1.24M23.5 135.88v1.24M23.5 143.88v1.24M23.5 152.88v1.24M23.5 155.88v1.24M23.5 159.88v1.24M23.5 161.88v1.24M23.5 163.88v3.24M23.5 169.88v2.24M23.5 174.88v1.24M23.5 186.88v1.24M24.5 11.88v1.24M24.5 140.88v1.24M24.5 163.88v1.24M24.5 181.88v1.24M24.5 187.88v3.24M24.5 192.88v1.24M25.5 49.88v1.24M25.5 158.88v1.24M25.5 165.88v1.24M25.5 173.88v1.24M25.5 181.88v1.24M25.5 183.88v1.24M25.5 186.88v1.24M26.5 152.88v1.24M26.5 166.88v1.24M26.5 176.88v2.24M26.5 187.88v1.24M26.5 190.88v1.24M26.5 193.88v1.24M27.5 177.88v1.24M27.5 187.88v1.24M27.5 191.88v1.24M28.5 164.88v1.24M28.5 173.88v1.24M28.5 184.88v1.24M28.5 198.88v2.24M29.5 169.88v1.24M29.5 183.88v1.24M30.5 179.88v1.24M30.5 185.88v1.24M30.5 190.88v2.24M31.5 174.88v1.24M31.5 181.88v1.24M31.5 183.88v1.24M31.5 188.88v2.24M31.5 196.88v1.24M32.5 176.88v1.24M32.5 180.88v1.24M32.5 184.88v1.24M32.5 187.88v1.24M33.5 162.88v1.24M33.5 179.88v1.24M33.5 193.88v1.24M34.5 56.88v1.24M34.5 111.88v1.24M34.5 144.88v1.24M34.5 158.88v1.24M34.5 168.88v1.24M34.5 170.88v1.24M34.5 173.88v1.24M34.5 178.88v1.24M35.5 23.88v1.24M35.5 135.88v1.24M35.5 143.88v1.24M35.5 147.88v1.24M35.5 152.88v1.24M35.5 154.88v1.24M35.5 173.88v1.24M35.5 176.88v1.24M35.5 182.88v1.24M36.5 7.88v1.24M36.5 11.88v1.24M36.5 15.88v1.24M36.5 27.88v1.24M36.5 34.88v1.24M36.5 38.88v1.24M36.5 45.88v1.24M36.5 58.88v1.24M36.5 71.88v1.24M36.5 80.88v1.24M36.5 85.88v1.24M36.5 87.88v1.24M36.5 89.88v1.24M36.5 94.88v1.24M36.5 116.88v1.24M36.5 120.88v1.24M36.5 127.88v1.24M36.5 137.88v1.24M36.5 147.88v1.24M36.5 149.88v1.24M36.5 157.88v1.24M36.5 159.88v2.24M36.5 164.88v1.24M37.5 52.88v1.24M37.5 55.88v1.24M37.5 57.88v1.24M37.5 65.88v2.24M37.5 71.88v1.24M37.5 77.88v1.24M37.5 81.88v2.24M37.5 90.88v1.24M37.5 100.88v1.24M37.5 104.88v1.24M37.5 117.88v1.24M37.5 122.88v1.24M37.5 134.88v2.24M37.5 137.88v1.24M37.5 164.88v1.24"/>
<path stroke="#0068ff" d="M14.5 196.88v1.24M15.5 182.88v1.24M15.5 188.88v1.24M16.5 61.88v1.24M16.5 86.88v1.24M16.5 97.88v1.24M16.5 109.88v1.24M16.5 111.88v1.24M16.5 146.88v1.24M16.5 180.88v1.24M17.5 0.88v1.24M17.5 11.88v1.24M17.5 13.88v1.24M17.5 19.88v1.24M17.5 25.88v1.24M17.5 36.88v1.24M17.5 43.88v1.24M17.5 45.88v1.24M17.5 59.88v1.24M17.5 75.88v1.24M17.5 83.88v1.24M17.5 87.88v1.24M17.5 96.88v1.24M17.5 105.88v1.24M17.5 109.88v1.24M17.5 117.88v1.24M17.5 126.88v2.24M17.5 162.88v1.24M17.5 172.88v3.24M17.5 180.88v1.24M17.5 191.88v1.24M17.5 198.88v1.24M18.5 9.88v1.24M18.5 15.88v1.24M18.5 17.88v1.24M18.5 24.88v1.24M18.5 27.88v1.24M18.5 37.88v1.24M18.5 42.88v1.24M18.5 50.88v2.24M18.5 77.88v1.24M18.5 97.88v1.24M18.5 106.88v1.24M18.5 110.88v1.24M18.5 122.88v1.24M18.5 154.88v1.24M18.5 157.88v1.24M18.5 170.88v1.24M18.5 172.88v1.24M18.5 189.88v1.24M18.5 195.88v1.24M19.5 0.88v1.24M19.5 21.88v2.24M19.5 31.88v1.24M19.5 44.88v1.24M19.5 47.88v1.24M19.5 51.88v1.24M19.5 54.88v1.24M19.5 59.88v1.24M19.5 66.88v1.24M19.5 69.88v2.24M19.5 77.88v1.24M19.5 83.88v1.24M19.5 86.88v1.24M19.5 93.88v1.24M19.5 97.88v2.24M19.5 111.88v1.24M19.5 128.88v1.24M19.5 134.88v1.24M19.5 151.88v1.24M19.5 155.88v2.24M19.5 163.88v2.24M19.5 184.88v2.24M19.5 194.88v1.24M20.5 6.88v3.24M20.5 12.88v2.24M20.5 17.88v1.24M20.5 19.88v1.24M20.5 25.88v1.24M20.5 31.88v1.24M20.5 35.88v1.24M20.5 40.88v1.24M20.5 46.88v1.24M20.5 48.88v1.24M20.5 50.88v1.24M20.5 55.88v1.24M20.5 60.88v1.24M20.5 67.88v1.24M20.5 75.88v1.24M20.5 86.88v1.24M20.5 92.88v1.24M20.5 95.88v2.24M20.5 107.88v1.24M20.5 113.88v1.24M20.5 120.88v1.24M20.5 125.88v2.24M20.5 131.88v1.24M20.5 136.88v1.24M20.5 138.88v2.24M20.5 154.88v1.24M20.5 156.88v1.24M20.5 162.88v1.24M20.5 171.88v1.24M20.5 176.88v1.24M20.5 178.88v2.24M20.5 195.88v1.24M21.5 2.88v1.24M21.5 8.88v1.24M21.5 16.88v1.24M21.5 19.88v1.24M21.5 23.88v2.24M21.5 26.88v2.24M21.5 39.88v1.24M21.5 44.88v1.24M21.5 53.88v1.24M21.5 62.88v1.24M21.5 65.88v1.24M21.5 75.88v1.24M21.5 81.88v1.24M21.5 84.88v1.24M21.5 87.88v1.24M21.5 89.88v1.24M21.5 100.88v1.24M21.5 104.88v1.24M21.5 118.88v1.24M21.5 122.88v1.24M21.5 131.88v1.24M21.5 133.88v1.24M21.5 135.88v1.24M21.5 139.88v2.24M21.5 144.88v1.24M21.5 164.88v1.24M21.5 170.88v1.24M21.5 177.88v1.24M21.5 186.88v1.24M21.5 189.88v1.24M21.5 197.88v1.24M22.5 3.88v1.24M22.5 15.88v1.24M22.5 18.88v1.24M22.5 23.88v1.24M22.5 42.88v1.24M22.5 46.88v2.24M22.5 54.88v1.24M22.5 60.88v1.24M22.5 69.88v1.24M22.5 90.88v1.24M22.5 95.88v1.24M22.5 106.88v2.24M22.5 129.88v1.24M22.5 145.88v2.24M22.5 151.88v1.24M22.5 155.88v1.24M22.5 165.88v1.24M22.5 167.88v1.24M22.5 175.88v1.24M22.5 179.88v1.24M22.5 181.88v1.24M22.5 183.88v1.24M22.5 197.88v1.24M23.5 2.88v1.24M23.5 27.88v1.24M23.5 29.88v1.24M23.5 52.88v1.24M23.5 89.88v1.24M23.5 98.88v1.24M23.5 107.88v1.24M23.5 113.88v1.24M23.5 115.88v1.24M23.5 126.88v1.24M23.5 130.88v1.24M23.5 151.88v1.24M23.5 157.88v1.24M23.5 168.88v1.24M23.5 171.88v1.24M23.5 179.88v1.24M23.5 183.88v1.24M23.5 190.88v1.24M24.5 9.88v1.24M24.5 74.88v1.24M24.5 119.88v1.24M24.5 152.88v1.24M24.5 155.88v1.24M24.5 170.88v3.24M24.5 178.88v1.24M24.5 186.88v1.24M25.5 176.88v1.24M26.5 157.88v1.24M26.5 168.88v1.24M26.5 175.88v1.24M26.5 183.88v1.24M26.5 188.88v1.24M27.5 155.88v1.24M27.5 170.88v1.24M27.5 176.88v1.24M27.5 193.88v1.24M27.5 198.88v1.24M28.5 195.88v1.24M29.5 186.88v1.24M29.5 188.88v1.24M29.5 192.88v1.24M29.5 195.88v1.24M30.5 171.88v1.24M30.5 174.88v1.24M30.5 183.88v2.24M30.5 187.88v1.24M30.5 189.88v1.24M31.5 154.88v1.24M31.5 163.88v1.24M32.5 170.88v1.24M32.5 172.88v1.24M32.5 179.88v1.24M32.5 182.88v2.24M32.5 188.88v1.24M32.5 191.88v1.24M33.5 143.88v2.24M33.5 159.88v1.24M33.5 165.88v1.24M33.5 167.88v1.24M33.5 170.88v1.24M33.5 177.88v2.24M33.5 183.88v1.24M34.5 33.88v1.24M34.5 51.88v1.24M34.5 77.88v1.24M34.5 132.88v1.24M34.5 150.88v1.24M34.5 156.88v1.24M34.5 162.88v1.24M34.5 190.88v1.24M35.5 7.88v1.24M35.5 16.88v1.24M35.5 21.88v1.24M35.5 25.88v1.24M35.5 27.88v1.24M35.5 38.88v1.24M35.5 49.88v2.24M35.5 53.88v1.24M35.5 144.88v1.24M35.5 153.88v1.24M35.5 155.88v1.24M35.5 157.88v1.24M35.5 159.88v1.24M35.5 164.88v1.24M35.5 166.88v1.24M36.5 14.88v1.24M36.5 19.88v1.24M36.5 23.88v1.24M36.5 31.88v1.24M36.5 39.88v1.24M36.5 42.88v1.24M36.5 47.88v1.24M36.5 57.88v1.24M36.5 60.88v2.24M36.5 76.88v1.24M36.5 82.88v1.24M36.5 88.88v1.24M36.5 92.88v2.24M36.5 96.88v1.24M36.5 110.88v1.24M36.5 114.88v1.24M36.5 123.88v1.24M36.5 138.88v1.24M36.5 141.88v1.24M36.5 151.88v1.24M36.5 154.88v2.24M37.5 96.88v1.24M37.5 106.88v1.24M37.5 109.88v2.24M37.5 119.88v1.24M37.5 131.88v1.24M37.5 152.88v1.24"/>
<path stroke="#007dff" d="M16.5 117.88v1.24M16.5 188.88v2.24M16.5 198.88v1.24M17.5 7.88v1.24M17.5 30.88v1.24M17.5 35.88v1.24M17.5 58.88v1.24M17.5 89.88v1.24M17.5 92.88v1.24M17.5 116.88v1.24M17.5 160.88v1.24M17.5 165.88v1.24M17.5 171.88v1.24M17.5 196.88v1.24M18.5 20.88v1.24M18.5 35.88v1.24M18.5 65.88v1.24M18.5 86.88v1.24M18.5 96.88v1.24M18.5 138.88v1.24M18.5 147.88v1.24M18.5 162.88v1.24M18.5 179.88v1.24M19.5 14.88v1.24M19.5 23.88v1.24M19.5 56.88v1.24M19.5 60.88v1.24M19.5 74.88v1.24M19.5 76.88v1.24M19.5 115.88v1.24M19.5 133.88v1.24M19.5 161.88v1.24M20.5 9.88v2.24M20.5 16.88v1.24M20.5 20.88v1.24M20.5 23.88v2.24M20.5 29.88v1.24M20.5 34.88v1.24M20.5 43.88v1.24M20.5 45.88v1.24M20.5 52.88v1.24M20.5 56.88v1.24M20.5 59.88v1.24M20.5 72.88v1.24M20.5 81.88v1.24M20.5 83.88v1.24M20.5 88.88v1.24M20.5 97.88v1.24M20.5 102.88v1.24M20.5 105.88v1.24M20.5 166.88v1.24M21.5 0.88v1.24M21.5 25.88v1.24M21.5 41.88v1.24M21.5 50.88v1.24M21.5 56.88v1.24M21.5 68.88v2.24M21.5 71.88v1.24M21.5 73.88v2.24M21.5 76.88v1.24M21.5 91.88v1.24M21.5 103.88v1.24M21.5 107.88v1.24M21.5 112.88v1.24M21.5 117.88v1.24M21.5 121.88v1.24M21.5 127.88v1.24M21.5 136.88v1.24M21.5 151.88v1.24M21.5 157.88v1.24M21.5 168.88v1.24M21.5 171.88v1.24M22.5 1.88v1.24M22.5 7.88v1.24M22.5 43.88v1.24M22.5 48.88v1.24M22.5 51.88v1.24M22.5 65.88v2.24M22.5 70.88v1.24M22.5 73.88v1.24M22.5 76.88v1.24M22.5 84.88v1.24M22.5 103.88v1.24M22.5 108.88v1.24M22.5 111.88v1.24M22.5 113.88v1.24M22.5 120.88v2.24M22.5 130.88v2.24M22.5 134.88v1.24M22.5 143.88v2.24M22.5 150.88v1.24M22.5 154.88v1.24M22.5 159.88v1.24M22.5 177.88v1.24M22.5 188.88v1.24M23.5 3.88v1.24M23.5 5.88v1.24M23.5 15.88v1.24M23.5 24.88v1.24M23.5 40.88v1.24M23.5 45.88v1.24M23.5 47.88v1.24M23.5 53.88v1.24M23.5 60.88v2.24M23.5 92.88v1.24M23.5 124.88v1.24M23.5 142.88v1.24M23.5 154.88v1.24M23.5 176.88v1.24M23.5 198.88v1.24M24.5 18.88v1.24M24.5 48.88v2.24M24.5 82.88v1.24M24.5 85.88v1.24M24.5 123.88v1.24M24.5 142.88v2.24M24.5 160.88v2.24M24.5 174.88v1.24M24.5 176.88v1.24M24.5 180.88v1.24M24.5 196.88v1.24M25.5 148.88v1.24M25.5 166.88v1.24M25.5 179.88v1.24M25.5 191.88v1.24M26.5 140.88v1.24M26.5 169.88v4.24M27.5 60.88v1.24M27.5 163.88v1.24M27.5 175.88v1.24M27.5 178.88v1.24M28.5 178.88v1.24M29.5 172.88v2.24M29.5 185.88v1.24M29.5 190.88v1.24M30.5 170.88v1.24M30.5 176.88v1.24M30.5 178.88v1.24M30.5 186.88v1.24M30.5 193.88v1.24M31.5 178.88v1.24M31.5 182.88v1.24M31.5 190.88v1.24M32.5 3.88v1.24M33.5 154.88v1.24M33.5 157.88v1.24M33.5 166.88v1.24M33.5 169.88v1.24M33.5 171.88v1.24M34.5 13.88v1.24M34.5 49.88v1.24M34.5 75.88v1.24M34.5 147.88v1.24M34.5 149.88v1.24M34.5 161.88v1.24M34.5 166.88v1.24M34.5 169.88v1.24M34.5 172.88v1.24M35.5 8.88v1.24M35.5 17.88v1.24M35.5 29.88v1.24M35.5 37.88v1.24M35.5 40.88v2.24M35.5 45.88v4.24M35.5 61.88v1.24M35.5 63.88v1.24M35.5 66.88v1.24M35.5 78.88v1.24M35.5 83.88v1.24M35.5 95.88v1.24M35.5 110.88v2.24M35.5 116.88v1.24M35.5 124.88v1.24M35.5 133.88v1.24M35.5 137.88v1.24M35.5 139.88v1.24M35.5 148.88v1.24M35.5 160.88v2.24M35.5 170.88v1.24M36.5 12.88v1.24M36.5 21.88v2.24M36.5 25.88v1.24M36.5 29.88v1.24M36.5 50.88v2.24M36.5 56.88v1.24M36.5 65.88v2.24M36.5 74.88v1.24M36.5 77.88v2.24M36.5 84.88v1.24M36.5 101.88v1.24M36.5 103.88v1.24M36.5 111.88v1.24M36.5 126.88v1.24M36.5 129.88v1.24M36.5 139.88v1.24M36.5 145.88v1.24M36.5 153.88v1.24M36.5 170.88v1.24M36.5 182.88v1.24M37.5 60.88v1.24M37.5 98.88v1.24M37.5 120.88v1.24"/>
<path stroke="#0092ff" d="M16.5 131.88v1.24M17.5 22.88v1.24M17.5 98.88v1.24M17.5 138.88v1.24M17.5 142.88v1.24M17.5 156.88v1.24M18.5 67.88v1.24M18.5 84.88v1.24M18.5 89.88v1.24M18.5 92.88v1.24M18.5 104.88v1.24M18.5 113.88v1.24M18.5 128.88v1.24M18.5 163.88v1.24M19.5 17.88v1.24M19.5 29.88v1.24M19.5 32.88v1.24M19.5 57.88v1.24M19.5 80.88v1.24M19.5 84.88v1.24M19.5 95.88v1.24M19.5 149.88v1.24M20.5 38.88v1.24M20.5 44.88v1.24M20.5 62.88v1.24M20.5 78.88v1.24M20.5 98.88v1.24M20.5 101.88v1.24M20.5 103.88v1.24M20.5 152.88v1.24M20.5 155.88v1.24M20.5 159.88v1.24M20.5 168.88v1.24M20.5 181.88v1.24M20.5 186.88v1.24M20.5 190.88v1.24M21.5 5.88v1.24M21.5 9.88v2.24M21.5 15.88v1.24M21.5 21.88v1.24M21.5 29.88v1.24M21.5 31.88v1.24M21.5 43.88v1.24M21.5 45.88v1.24M21.5 48.88v1.24M21.5 51.88v1.24M21.5 79.88v1.24M21.5 88.88v1.24M21.5 98.88v1.24M21.5 113.88v1.24M21.5 119.88v1.24M21.5 138.88v1.24M21.5 149.88v2.24M21.5 152.88v1.24M21.5 174.88v1.24M21.5 185.88v1.24M22.5 2.88v1.24M22.5 5.88v1.24M22.5 10.88v1.24M22.5 17.88v1.24M22.5 28.88v1.24M22.5 30.88v1.24M22.5 63.88v1.24M22.5 74.88v1.24M22.5 81.88v1.24M22.5 83.88v1.24M22.5 93.88v1.24M22.5 112.88v1.24M22.5 114.88v1.24M22.5 124.88v1.24M22.5 153.88v1.24M22.5 189.88v1.24M22.5 191.88v1.24M22.5 199.88v1.24M23.5 7.88v1.24M23.5 41.88v1.24M23.5 43.88v1.24M23.5 57.88v1.24M23.5 62.88v1.24M23.5 72.88v1.24M23.5 95.88v1.24M23.5 123.88v1.24M23.5 129.88v1.24M23.5 140.88v1.24M23.5 145.88v1.24M23.5 149.88v2.24M23.5 175.88v1.24M23.5 191.88v1.24M23.5 193.88v1.24M24.5 41.88v1.24M24.5 47.88v1.24M24.5 67.88v1.24M24.5 145.88v1.24M24.5 165.88v1.24M25.5 9.88v1.24M25.5 13.88v1.24M25.5 21.88v1.24M25.5 35.88v1.24M25.5 113.88v1.24M25.5 149.88v1.24M25.5 155.88v1.24M25.5 171.88v1.24M25.5 177.88v1.24M25.5 192.88v1.24M26.5 39.88v1.24M26.5 143.88v1.24M26.5 154.88v1.24M26.5 163.88v1.24M26.5 165.88v1.24M26.5 179.88v1.24M26.5 184.88v1.24M26.5 194.88v1.24M27.5 145.88v1.24M27.5 181.88v2.24M28.5 161.88v1.24M28.5 168.88v1.24M28.5 170.88v1.24M28.5 174.88v1.24M28.5 176.88v1.24M28.5 183.88v1.24M28.5 188.88v1.24M29.5 170.88v2.24M29.5 174.88v1.24M29.5 178.88v1.24M29.5 181.88v1.24M30.5 156.88v1.24M30.5 167.88v1.24M30.5 177.88v1.24M30.5 188.88v1.24M31.5 152.88v1.24M31.5 167.88v2.24M31.5 185.88v1.24M32.5 153.88v1.24M32.5 157.88v1.24M32.5 175.88v1.24M32.5 185.88v1.24M33.5 42.88v1.24M33.5 168.88v1.24M33.5 173.88v2.24M33.5 180.88v1.24M34.5 7.88v1.24M34.5 9.88v1.24M34.5 20.88v1.24M34.5 26.88v1.24M34.5 40.88v1.24M34.5 43.88v1.24M34.5 81.88v2.24M34.5 126.88v1.24M34.5 131.88v1.24M34.5 140.88v1.24M34.5 143.88v1.24M34.5 145.88v1.24M34.5 155.88v1.24M34.5 164.88v1.24M34.5 177.88v1.24M35.5 6.88v1.24M35.5 9.88v2.24M35.5 26.88v1.24M35.5 31.88v1.24M35.5 35.88v1.24M35.5 43.88v1.24M35.5 58.88v2.24M35.5 75.88v1.24M35.5 81.88v1.24M35.5 84.88v1.24M35.5 90.88v2.24M35.5 96.88v1.24M35.5 105.88v1.24M35.5 117.88v1.24M35.5 126.88v1.24M35.5 129.88v2.24M35.5 136.88v1.24M35.5 140.88v1.24M36.5 10.88v1.24M36.5 13.88v1.24M36.5 18.88v1.24M36.5 32.88v1.24M36.5 43.88v1.24M36.5 48.88v2.24M36.5 53.88v2.24M36.5 69.88v1.24M36.5 73.88v1.24M36.5 86.88v1.24M36.5 90.88v2.24M36.5 109.88v1.24M36.5 119.88v1.24M36.5 128.88v1.24M36.5 130.88v1.24M36.5 133.88v1.24M36.5 142.88v1.24"/>
<path stroke="#00a6ff" d="M17.5 -0.12v1.24M17.5 27.88v1.24M17.5 73.88v1.24M18.5 14.88v1.24M18.5 38.88v1.24M18.5 79.88v1.24M18.5 144.88v1.24M19.5 4.88v1.24M19.5 36.88v1.24M19.5 103.88v1.24M19.5 118.88v1.24M19.5 144.88v1.24M19.5 168.88v1.24M20.5 37.88v1.24M20.5 49.88v1.24M20.5 91.88v1.24M20.5 143.88v1.24M20.5 148.88v1.24M21.5 13.88v2.24M21.5 42.88v1.24M21.5 92.88v1.24M21.5 99.88v1.24M21.5 105.88v1.24M21.5 120.88v1.24M22.5 16.88v1.24M22.5 20.88v1.24M22.5 26.88v1.24M22.5 33.88v1.24M22.5 52.88v1.24M22.5 57.88v2.24M22.5 67.88v2.24M22.5 72.88v1.24M22.5 87.88v1.24M22.5 98.88v1.24M22.5 100.88v2.24M22.5 117.88v1.24M22.5 156.88v1.24M23.5 1.88v1.24M23.5 6.88v1.24M23.5 14.88v1.24M23.5 18.88v1.24M23.5 50.88v1.24M23.5 56.88v1.24M23.5 68.88v1.24M23.5 71.88v1.24M23.5 73.88v1.24M23.5 83.88v1.24M23.5 88.88v1.24M23.5 90.88v1.24M23.5 100.88v1.24M23.5 109.88v1.24M23.5 112.88v1.24M23.5 117.88v1.24M23.5 133.88v2.24M23.5 139.88v1.24M23.5 187.88v1.24M24.5 13.88v1.24M24.5 57.88v1.24M24.5 63.88v1.24M24.5 76.88v1.24M24.5 92.88v1.24M24.5 114.88v1.24M24.5 122.88v1.24M24.5 130.88v1.24M24.5 153.88v2.24M24.5 156.88v1.24M24.5 173.88v1.24M25.5 32.88v1.24M25.5 34.88v1.24M25.5 89.88v1.24M25.5 147.88v1.24M25.5 161.88v2.24M25.5 168.88v1.24M25.5 170.88v1.24M25.5 172.88v1.24M25.5 174.88v2.24M25.5 178.88v1.24M25.5 197.88v1.24M26.5 145.88v1.24M26.5 149.88v1.24M26.5 153.88v1.24M26.5 158.88v1.24M26.5 160.88v1.24M26.5 173.88v2.24M26.5 180.88v1.24M26.5 186.88v1.24M27.5 96.88v1.24M27.5 157.88v1.24M27.5 166.88v1.24M27.5 184.88v1.24M28.5 162.88v2.24M28.5 165.88v1.24M28.5 169.88v1.24M28.5 182.88v1.24M28.5 186.88v1.24M28.5 192.88v1.24M29.5 152.88v1.24M29.5 161.88v1.24M29.5 179.88v1.24M29.5 184.88v1.24M30.5 157.88v1.24M30.5 162.88v1.24M31.5 171.88v1.24M31.5 180.88v1.24M31.5 187.88v1.24M32.5 122.88v1.24M32.5 144.88v1.24M32.5 152.88v1.24M32.5 159.88v1.24M32.5 161.88v1.24M32.5 166.88v1.24M32.5 177.88v2.24M33.5 5.88v2.24M33.5 10.88v1.24M33.5 17.88v1.24M33.5 148.88v1.24M33.5 176.88v1.24M33.5 184.88v1.24M34.5 38.88v1.24M34.5 65.88v1.24M34.5 70.88v1.24M34.5 72.88v1.24M34.5 78.88v1.24M34.5 86.88v1.24M34.5 99.88v1.24M34.5 102.88v1.24M34.5 120.88v1.24M34.5 148.88v1.24M34.5 154.88v1.24M34.5 159.88v2.24M34.5 171.88v1.24M35.5 19.88v1.24M35.5 24.88v1.24M35.5 28.88v1.24M35.5 36.88v1.24M35.5 39.88v1.24M35.5 52.88v1.24M35.5 79.88v1.24M35.5 85.88v1.24M35.5 88.88v1.24M35.5 97.88v2.24M35.5 100.88v1.24M35.5 102.88v2.24M35.5 109.88v1.24M35.5 118.88v1.24M35.5 122.88v1.24M35.5 149.88v1.24M35.5 156.88v1.24M35.5 162.88v1.24M36.5 26.88v1.24M36.5 44.88v1.24M36.5 55.88v1.24M36.5 63.88v2.24M36.5 81.88v1.24M36.5 102.88v1.24M36.5 104.88v1.24M36.5 113.88v1.24M36.5 122.88v1.24M36.5 124.88v1.24M36.5 150.88v1.24M36.5 152.88v1.24M37.5 116.88v1.24"/>
<path stroke="#00d0ff" d="M18.5 44.88v1.24M20.5 41.88v1.24M21.5 36.88v1.24M21.5 47.88v1.24M21.5 101.88v1.24M21.5 130.88v1.24M22.5 45.88v1.24M22.5 62.88v1.24M22.5 79.88v1.24M22.5 85.88v1.24M22.5 110.88v1.24M22.5 128.88v1.24M22.5 133.88v1.24M22.5 135.88v1.24M22.5 138.88v1.24M23.5 12.88v2.24M23.5 22.88v1.24M23.5 28.88v1.24M23.5 31.88v1.24M23.5 54.88v1.24M23.5 59.88v1.24M23.5 67.88v1.24M23.5 70.88v1.24M23.5 80.88v2.24M23.5 96.88v1.24M23.5 103.88v2.24M23.5 108.88v1.24M23.5 128.88v1.24M23.5 141.88v1.24M24.5 6.88v1.24M24.5 16.88v1.24M24.5 31.88v1.24M24.5 38.88v1.24M24.5 42.88v1.24M24.5 44.88v1.24M24.5 65.88v1.24M24.5 78.88v1.24M24.5 83.88v1.24M24.5 97.88v1.24M24.5 104.88v1.24M24.5 117.88v1.24M24.5 132.88v1.24M24.5 139.88v1.24M24.5 150.88v1.24M24.5 157.88v2.24M24.5 166.88v2.24M25.5 16.88v1.24M25.5 22.88v1.24M25.5 40.88v1.24M25.5 55.88v1.24M25.5 74.88v1.24M25.5 85.88v1.24M25.5 125.88v1.24M25.5 152.88v1.24M25.5 154.88v1.24M25.5 157.88v1.24M25.5 159.88v1.24M26.5 114.88v1.24M26.5 139.88v1.24M26.5 148.88v1.24M26.5 155.88v1.24M26.5 161.88v2.24M26.5 167.88v1.24M27.5 5.88v1.24M27.5 76.88v1.24M27.5 142.88v1.24M27.5 159.88v1.24M27.5 162.88v1.24M28.5 23.88v1.24M28.5 156.88v1.24M28.5 177.88v1.24M29.5 13.88v1.24M29.5 34.88v1.24M29.5 164.88v1.24M29.5 166.88v1.24M29.5 182.88v1.24M29.5 187.88v1.24M30.5 160.88v1.24M31.5 125.88v1.24M31.5 162.88v1.24M31.5 165.88v1.24M31.5 175.88v1.24M32.5 36.88v1.24M32.5 164.88v1.24M32.5 169.88v1.24M33.5 23.88v1.24M33.5 27.88v1.24M33.5 29.88v1.24M33.5 61.88v1.24M33.5 95.88v1.24M33.5 123.88v1.24M33.5 151.88v2.24M33.5 155.88v2.24M33.5 158.88v1.24M33.5 164.88v1.24M34.5 10.88v2.24M34.5 28.88v1.24M34.5 39.88v1.24M34.5 42.88v1.24M34.5 46.88v1.24M34.5 54.88v2.24M34.5 63.88v1.24M34.5 95.88v2.24M34.5 98.88v1.24M34.5 112.88v1.24M34.5 116.88v1.24M34.5 119.88v1.24M34.5 133.88v1.24M34.5 139.88v1.24M34.5 163.88v1.24M35.5 11.88v1.24M35.5 30.88v1.24M35.5 33.88v1.24M35.5 44.88v1.24M35.5 55.88v2.24M35.5 62.88v1.24M35.5 74.88v1.24M35.5 80.88v1.24M35.5 87.88v1.24M35.5 106.88v1.24M35.5 113.88v1.24M35.5 115.88v1.24M35.5 123.88v1.24M35.5 127.88v1.24M35.5 132.88v1.24M35.5 142.88v1.24M35.5 145.88v1.24M36.5 70.88v1.24M36.5 75.88v1.24M36.5 98.88v2.24M36.5 117.88v1.24M36.5 131.88v1.24M36.5 136.88v1.24M36.5 144.88v1.24"/>
<path stroke="#00bbff" d="M18.5 64.88v1.24M18.5 95.88v1.24M19.5 40.88v1.24M19.5 71.88v1.24M20.5 73.88v1.24M20.5 124.88v1.24M20.5 137.88v1.24M21.5 30.88v1.24M21.5 58.88v2.24M21.5 77.88v1.24M21.5 90.88v1.24M21.5 109.88v1.24M21.5 132.88v1.24M21.5 148.88v1.24M22.5 9.88v1.24M22.5 27.88v1.24M22.5 29.88v1.24M22.5 31.88v1.24M22.5 36.88v2.24M22.5 39.88v1.24M22.5 55.88v2.24M22.5 75.88v1.24M22.5 88.88v1.24M22.5 105.88v1.24M22.5 125.88v1.24M22.5 139.88v1.24M23.5 4.88v1.24M23.5 9.88v2.24M23.5 19.88v2.24M23.5 23.88v1.24M23.5 38.88v2.24M23.5 46.88v1.24M23.5 51.88v1.24M23.5 55.88v1.24M23.5 75.88v1.24M23.5 82.88v1.24M23.5 105.88v1.24M23.5 118.88v1.24M23.5 125.88v1.24M23.5 136.88v1.24M23.5 144.88v1.24M23.5 148.88v1.24M23.5 160.88v1.24M24.5 1.88v1.24M24.5 17.88v1.24M24.5 28.88v1.24M24.5 30.88v1.24M24.5 32.88v1.24M24.5 35.88v1.24M24.5 46.88v1.24M24.5 93.88v1.24M24.5 125.88v2.24M24.5 138.88v1.24M24.5 146.88v4.24M24.5 159.88v1.24M24.5 162.88v1.24M24.5 168.88v1.24M25.5 4.88v1.24M25.5 10.88v2.24M25.5 50.88v1.24M25.5 81.88v1.24M25.5 91.88v1.24M25.5 111.88v1.24M25.5 123.88v1.24M25.5 142.88v1.24M25.5 150.88v1.24M25.5 167.88v1.24M25.5 182.88v1.24M26.5 56.88v1.24M26.5 78.88v1.24M26.5 84.88v1.24M26.5 147.88v1.24M26.5 151.88v1.24M26.5 178.88v1.24M27.5 2.88v1.24M27.5 29.88v1.24M27.5 173.88v1.24M27.5 179.88v2.24M28.5 154.88v1.24M28.5 171.88v2.24M28.5 180.88v1.24M28.5 185.88v1.24M29.5 22.88v1.24M29.5 158.88v1.24M29.5 189.88v1.24M30.5 161.88v1.24M30.5 165.88v1.24M31.5 65.88v1.24M31.5 158.88v1.24M31.5 173.88v1.24M32.5 50.88v1.24M32.5 155.88v1.24M33.5 25.88v1.24M33.5 39.88v1.24M33.5 43.88v1.24M33.5 98.88v1.24M33.5 140.88v1.24M33.5 142.88v1.24M33.5 147.88v1.24M33.5 163.88v1.24M34.5 14.88v1.24M34.5 52.88v1.24M34.5 80.88v1.24M34.5 94.88v1.24M34.5 100.88v1.24M34.5 107.88v1.24M34.5 122.88v1.24M34.5 134.88v1.24M34.5 136.88v1.24M34.5 138.88v1.24M34.5 142.88v1.24M34.5 151.88v1.24M34.5 165.88v1.24M35.5 22.88v1.24M35.5 67.88v1.24M35.5 82.88v1.24M35.5 89.88v1.24M35.5 101.88v1.24M35.5 104.88v1.24M35.5 107.88v1.24M35.5 121.88v1.24M35.5 131.88v1.24M35.5 150.88v2.24M36.5 24.88v1.24M36.5 36.88v1.24M36.5 67.88v1.24M36.5 83.88v1.24M36.5 100.88v1.24M36.5 107.88v2.24M36.5 112.88v1.24M36.5 115.88v1.24M36.5 135.88v1.24M37.5 118.88v1.24"/>
<path stroke="#00e5ff" d="M21.5 18.88v1.24M21.5 97.88v1.24M22.5 12.88v1.24M22.5 49.88v2.24M22.5 53.88v1.24M22.5 122.88v1.24M22.5 147.88v1.24M23.5 0.88v1.24M23.5 16.88v1.24M23.5 36.88v1.24M23.5 64.88v1.24M23.5 66.88v1.24M23.5 74.88v1.24M23.5 79.88v1.24M23.5 86.88v1.24M23.5 94.88v1.24M23.5 111.88v1.24M23.5 119.88v1.24M23.5 122.88v1.24M23.5 147.88v1.24M24.5 7.88v2.24M24.5 12.88v1.24M24.5 15.88v1.24M24.5 34.88v1.24M24.5 40.88v1.24M24.5 45.88v1.24M24.5 51.88v1.24M24.5 79.88v1.24M24.5 81.88v1.24M24.5 84.88v1.24M24.5 87.88v1.24M24.5 99.88v1.24M24.5 107.88v1.24M24.5 113.88v1.24M24.5 133.88v1.24M24.5 135.88v1.24M24.5 151.88v1.24M24.5 164.88v1.24M24.5 169.88v1.24M25.5 12.88v1.24M25.5 15.88v1.24M25.5 38.88v1.24M25.5 64.88v1.24M25.5 83.88v1.24M25.5 97.88v1.24M25.5 108.88v1.24M25.5 140.88v2.24M25.5 151.88v1.24M25.5 169.88v1.24M26.5 12.88v1.24M26.5 18.88v1.24M26.5 54.88v1.24M26.5 136.88v1.24M26.5 164.88v1.24M27.5 14.88v1.24M27.5 167.88v1.24M28.5 114.88v1.24M28.5 159.88v1.24M28.5 166.88v1.24M29.5 155.88v1.24M29.5 159.88v1.24M29.5 162.88v1.24M29.5 167.88v1.24M30.5 37.88v1.24M30.5 144.88v1.24M30.5 150.88v1.24M30.5 163.88v1.24M30.5 169.88v1.24M30.5 172.88v2.24M30.5 175.88v1.24M30.5 181.88v1.24M31.5 122.88v1.24M31.5 153.88v1.24M31.5 164.88v1.24M31.5 166.88v1.24M31.5 170.88v1.24M32.5 41.88v1.24M32.5 80.88v1.24M32.5 163.88v1.24M32.5 167.88v1.24M33.5 4.88v1.24M33.5 20.88v1.24M33.5 45.88v2.24M33.5 58.88v1.24M33.5 64.88v1.24M33.5 74.88v1.24M33.5 125.88v1.24M33.5 149.88v1.24M33.5 153.88v1.24M34.5 8.88v1.24M34.5 15.88v1.24M34.5 19.88v1.24M34.5 21.88v1.24M34.5 85.88v1.24M34.5 101.88v1.24M34.5 105.88v1.24M34.5 113.88v2.24M34.5 121.88v1.24M34.5 127.88v2.24M34.5 137.88v1.24M34.5 157.88v1.24M34.5 167.88v1.24M35.5 18.88v1.24M35.5 32.88v1.24M35.5 51.88v1.24M35.5 54.88v1.24M35.5 57.88v1.24M35.5 70.88v1.24M35.5 92.88v1.24M35.5 141.88v1.24M36.5 132.88v1.24M36.5 146.88v1.24"/>
<path stroke="#00ffef" d="M22.5 24.88v1.24M22.5 89.88v1.24M22.5 94.88v1.24M22.5 140.88v1.24M23.5 32.88v1.24M23.5 35.88v1.24M23.5 44.88v1.24M23.5 58.88v1.24M23.5 63.88v1.24M23.5 106.88v1.24M23.5 116.88v1.24M23.5 132.88v1.24M24.5 5.88v1.24M24.5 21.88v1.24M24.5 23.88v1.24M24.5 26.88v1.24M24.5 39.88v1.24M24.5 58.88v1.24M24.5 61.88v1.24M24.5 71.88v1.24M24.5 80.88v1.24M24.5 89.88v1.24M24.5 94.88v2.24M24.5 103.88v1.24M24.5 105.88v1.24M24.5 128.88v1.24M24.5 137.88v1.24M25.5 8.88v1.24M25.5 24.88v1.24M25.5 30.88v1.24M25.5 51.88v1.24M25.5 63.88v1.24M25.5 75.88v1.24M25.5 102.88v1.24M25.5 115.88v1.24M25.5 132.88v1.24M25.5 138.88v1.24M25.5 156.88v1.24M26.5 2.88v1.24M26.5 92.88v1.24M26.5 117.88v1.24M26.5 126.88v1.24M26.5 144.88v1.24M26.5 159.88v1.24M27.5 1.88v1.24M27.5 15.88v1.24M27.5 39.88v1.24M27.5 107.88v1.24M27.5 129.88v1.24M27.5 152.88v1.24M27.5 154.88v1.24M27.5 156.88v1.24M27.5 169.88v1.24M27.5 172.88v1.24M27.5 174.88v1.24M28.5 153.88v1.24M28.5 157.88v1.24M29.5 5.88v1.24M29.5 168.88v1.24M29.5 176.88v1.24M30.5 33.88v1.24M30.5 122.88v1.24M30.5 154.88v1.24M31.5 132.88v1.24M31.5 159.88v1.24M31.5 161.88v1.24M32.5 20.88v1.24M32.5 38.88v1.24M32.5 55.88v1.24M32.5 58.88v1.24M32.5 83.88v1.24M32.5 86.88v1.24M32.5 111.88v1.24M32.5 143.88v1.24M32.5 145.88v1.24M32.5 148.88v1.24M32.5 150.88v2.24M32.5 154.88v1.24M33.5 15.88v1.24M33.5 62.88v1.24M33.5 79.88v1.24M33.5 83.88v1.24M33.5 92.88v1.24M33.5 105.88v1.24M33.5 129.88v1.24M33.5 139.88v1.24M33.5 145.88v1.24M33.5 150.88v1.24M34.5 12.88v1.24M34.5 34.88v4.24M34.5 41.88v1.24M34.5 47.88v1.24M34.5 50.88v1.24M34.5 66.88v1.24M34.5 87.88v1.24M34.5 90.88v1.24M34.5 103.88v1.24M35.5 20.88v1.24M35.5 65.88v1.24M35.5 68.88v1.24M35.5 86.88v1.24M35.5 119.88v1.24"/>
<path stroke="#00faff" d="M22.5 64.88v1.24M22.5 71.88v1.24M22.5 99.88v1.24M22.5 104.88v1.24M22.5 123.88v1.24M22.5 132.88v1.24M22.5 162.88v1.24M23.5 25.88v1.24M23.5 37.88v1.24M23.5 42.88v1.24M23.5 48.88v2.24M23.5 76.88v2.24M23.5 93.88v1.24M23.5 97.88v1.24M23.5 102.88v1.24M23.5 120.88v1.24M23.5 131.88v1.24M24.5 2.88v2.24M24.5 10.88v1.24M24.5 14.88v1.24M24.5 20.88v1.24M24.5 22.88v1.24M24.5 36.88v1.24M24.5 50.88v1.24M24.5 55.88v1.24M24.5 60.88v1.24M24.5 109.88v2.24M24.5 115.88v1.24M24.5 120.88v2.24M24.5 136.88v1.24M25.5 7.88v1.24M25.5 23.88v1.24M25.5 27.88v1.24M25.5 41.88v2.24M25.5 101.88v1.24M25.5 118.88v2.24M25.5 127.88v1.24M25.5 129.88v1.24M25.5 131.88v1.24M25.5 135.88v2.24M25.5 139.88v1.24M25.5 145.88v1.24M25.5 153.88v1.24M25.5 163.88v1.24M26.5 57.88v1.24M26.5 64.88v1.24M26.5 156.88v1.24M27.5 19.88v1.24M27.5 80.88v1.24M27.5 150.88v1.24M27.5 153.88v1.24M27.5 164.88v2.24M27.5 171.88v1.24M28.5 98.88v1.24M29.5 157.88v1.24M29.5 163.88v1.24M29.5 177.88v1.24M29.5 180.88v1.24M30.5 123.88v1.24M30.5 149.88v1.24M30.5 151.88v1.24M30.5 166.88v1.24M30.5 182.88v1.24M31.5 147.88v1.24M31.5 151.88v1.24M31.5 156.88v1.24M31.5 169.88v1.24M31.5 172.88v1.24M32.5 9.88v1.24M32.5 14.88v1.24M32.5 45.88v1.24M32.5 118.88v1.24M32.5 141.88v1.24M32.5 168.88v1.24M32.5 173.88v2.24M33.5 7.88v2.24M33.5 18.88v1.24M33.5 21.88v1.24M33.5 52.88v2.24M33.5 57.88v1.24M33.5 71.88v1.24M33.5 84.88v1.24M33.5 136.88v1.24M33.5 141.88v1.24M33.5 146.88v1.24M34.5 5.88v2.24M34.5 23.88v1.24M34.5 25.88v1.24M34.5 29.88v1.24M34.5 48.88v1.24M34.5 58.88v3.24M34.5 68.88v1.24M34.5 88.88v1.24M34.5 104.88v1.24M34.5 106.88v1.24M34.5 118.88v1.24M34.5 141.88v1.24M34.5 146.88v1.24M35.5 12.88v1.24M35.5 14.88v1.24M35.5 69.88v1.24M35.5 76.88v1.24M35.5 112.88v1.24M35.5 128.88v1.24M35.5 146.88v1.24"/>
<path stroke="#00ffc6" d="M22.5 77.88v1.24M23.5 127.88v1.24M24.5 37.88v1.24M24.5 56.88v1.24M24.5 75.88v1.24M24.5 100.88v1.24M24.5 129.88v1.24M24.5 134.88v1.24M25.5 1.88v2.24M25.5 5.88v1.24M25.5 62.88v1.24M25.5 73.88v1.24M25.5 82.88v1.24M25.5 84.88v1.24M25.5 99.88v1.24M25.5 116.88v1.24M25.5 130.88v1.24M26.5 9.88v1.24M26.5 15.88v1.24M26.5 20.88v1.24M26.5 22.88v1.24M26.5 32.88v1.24M26.5 40.88v1.24M26.5 46.88v1.24M26.5 55.88v1.24M26.5 62.88v1.24M26.5 70.88v1.24M26.5 91.88v1.24M26.5 106.88v1.24M26.5 115.88v1.24M26.5 130.88v2.24M27.5 6.88v1.24M27.5 75.88v1.24M27.5 86.88v1.24M27.5 119.88v1.24M27.5 160.88v1.24M28.5 9.88v1.24M28.5 15.88v1.24M28.5 42.88v1.24M28.5 49.88v1.24M28.5 129.88v1.24M28.5 142.88v1.24M28.5 151.88v1.24M29.5 26.88v1.24M29.5 151.88v1.24M29.5 160.88v1.24M29.5 175.88v1.24M30.5 9.88v1.24M30.5 134.88v1.24M30.5 158.88v1.24M30.5 168.88v1.24M31.5 21.88v1.24M31.5 55.88v1.24M31.5 113.88v1.24M31.5 130.88v1.24M31.5 160.88v1.24M32.5 4.88v1.24M32.5 27.88v1.24M32.5 69.88v1.24M32.5 89.88v1.24M32.5 131.88v1.24M32.5 139.88v1.24M32.5 160.88v1.24M32.5 165.88v1.24M33.5 77.88v1.24M33.5 85.88v1.24M33.5 87.88v1.24M33.5 108.88v1.24M33.5 121.88v1.24M33.5 132.88v1.24M34.5 18.88v1.24M34.5 69.88v1.24M34.5 76.88v1.24M34.5 83.88v1.24M34.5 89.88v1.24M34.5 123.88v1.24M34.5 129.88v1.24M35.5 42.88v1.24M35.5 93.88v2.24M35.5 134.88v1.24"/>
<path stroke="#00ffdb" d="M22.5 91.88v2.24M22.5 115.88v1.24M23.5 26.88v1.24M23.5 69.88v1.24M23.5 85.88v1.24M23.5 99.88v1.24M23.5 114.88v1.24M24.5 0.88v1.24M24.5 24.88v2.24M24.5 27.88v1.24M24.5 43.88v1.24M24.5 54.88v1.24M24.5 64.88v1.24M24.5 66.88v1.24M24.5 69.88v1.24M24.5 73.88v1.24M24.5 77.88v1.24M24.5 86.88v1.24M24.5 91.88v1.24M24.5 116.88v1.24M24.5 118.88v1.24M25.5 56.88v2.24M25.5 67.88v1.24M25.5 72.88v1.24M25.5 95.88v1.24M25.5 110.88v1.24M25.5 112.88v1.24M25.5 143.88v1.24M25.5 146.88v1.24M25.5 160.88v1.24M26.5 10.88v2.24M26.5 16.88v2.24M26.5 24.88v1.24M26.5 47.88v1.24M26.5 66.88v1.24M26.5 77.88v1.24M26.5 119.88v1.24M26.5 123.88v1.24M26.5 141.88v1.24M27.5 17.88v1.24M27.5 47.88v1.24M27.5 108.88v1.24M27.5 151.88v1.24M28.5 11.88v1.24M28.5 145.88v1.24M28.5 158.88v1.24M29.5 31.88v1.24M29.5 37.88v1.24M29.5 41.88v1.24M29.5 136.88v1.24M29.5 140.88v1.24M29.5 150.88v1.24M29.5 153.88v1.24M29.5 165.88v1.24M30.5 23.88v1.24M30.5 59.88v1.24M30.5 117.88v1.24M30.5 146.88v1.24M30.5 155.88v1.24M31.5 23.88v1.24M31.5 60.88v1.24M31.5 91.88v1.24M31.5 106.88v1.24M31.5 142.88v1.24M31.5 149.88v1.24M31.5 155.88v1.24M32.5 5.88v1.24M32.5 8.88v1.24M32.5 13.88v1.24M32.5 33.88v1.24M32.5 105.88v2.24M32.5 149.88v1.24M32.5 156.88v1.24M32.5 158.88v1.24M32.5 162.88v1.24M33.5 14.88v1.24M33.5 16.88v1.24M33.5 50.88v1.24M33.5 54.88v1.24M33.5 69.88v1.24M33.5 76.88v1.24M33.5 100.88v1.24M33.5 117.88v1.24M33.5 126.88v1.24M33.5 130.88v1.24M33.5 133.88v2.24M33.5 137.88v1.24M33.5 175.88v1.24M34.5 16.88v2.24M34.5 22.88v1.24M34.5 27.88v1.24M34.5 30.88v2.24M34.5 53.88v1.24M34.5 61.88v1.24M34.5 64.88v1.24M34.5 74.88v1.24M34.5 92.88v1.24M34.5 109.88v2.24M34.5 125.88v1.24M34.5 130.88v1.24M35.5 34.88v1.24M35.5 64.88v1.24"/>
<path stroke="#00ff87" d="M23.5 17.88v1.24M23.5 65.88v1.24M23.5 78.88v1.24M24.5 33.88v1.24M24.5 59.88v1.24M24.5 68.88v1.24M24.5 98.88v1.24M24.5 106.88v1.24M24.5 108.88v1.24M24.5 112.88v1.24M24.5 141.88v1.24M25.5 39.88v1.24M25.5 48.88v1.24M25.5 54.88v1.24M25.5 117.88v1.24M25.5 144.88v1.24M26.5 3.88v1.24M26.5 14.88v1.24M26.5 43.88v1.24M26.5 51.88v1.24M26.5 68.88v1.24M26.5 112.88v1.24M26.5 128.88v1.24M26.5 132.88v1.24M26.5 146.88v1.24M27.5 4.88v1.24M27.5 27.88v1.24M27.5 36.88v1.24M27.5 141.88v1.24M27.5 168.88v1.24M28.5 2.88v1.24M28.5 7.88v1.24M28.5 44.88v1.24M28.5 47.88v1.24M28.5 61.88v1.24M28.5 63.88v1.24M28.5 66.88v1.24M28.5 69.88v1.24M28.5 73.88v1.24M28.5 103.88v1.24M28.5 134.88v2.24M28.5 147.88v3.24M29.5 8.88v1.24M29.5 15.88v1.24M29.5 20.88v1.24M29.5 52.88v1.24M29.5 114.88v1.24M29.5 137.88v1.24M29.5 142.88v1.24M29.5 148.88v2.24M30.5 8.88v1.24M30.5 11.88v1.24M30.5 19.88v1.24M30.5 34.88v1.24M30.5 47.88v1.24M30.5 130.88v1.24M30.5 142.88v1.24M31.5 37.88v1.24M31.5 39.88v1.24M31.5 46.88v1.24M31.5 81.88v1.24M31.5 143.88v1.24M32.5 11.88v1.24M32.5 16.88v1.24M32.5 44.88v1.24M32.5 68.88v1.24M32.5 71.88v1.24M32.5 77.88v1.24M32.5 81.88v1.24M32.5 84.88v1.24M32.5 113.88v1.24M32.5 134.88v2.24M32.5 140.88v1.24M32.5 146.88v1.24M33.5 12.88v1.24M33.5 31.88v1.24M33.5 40.88v1.24M33.5 47.88v1.24M33.5 114.88v1.24M33.5 119.88v1.24M33.5 135.88v1.24M34.5 91.88v1.24M34.5 97.88v1.24M34.5 117.88v1.24M35.5 13.88v1.24M35.5 60.88v1.24"/>
<path stroke="#00ff34" d="M23.5 30.88v1.24M24.5 90.88v1.24M24.5 96.88v1.24M25.5 14.88v1.24M25.5 20.88v1.24M25.5 37.88v1.24M25.5 44.88v1.24M25.5 61.88v1.24M25.5 77.88v1.24M25.5 96.88v1.24M25.5 124.88v1.24M25.5 134.88v1.24M26.5 34.88v1.24M26.5 38.88v1.24M26.5 67.88v1.24M26.5 69.88v1.24M26.5 79.88v1.24M26.5 90.88v1.24M26.5 97.88v1.24M26.5 102.88v1.24M26.5 105.88v1.24M26.5 150.88v1.24M27.5 9.88v1.24M27.5 32.88v1.24M27.5 46.88v1.24M27.5 52.88v1.24M27.5 61.88v1.24M27.5 68.88v2.24M27.5 71.88v1.24M27.5 81.88v1.24M27.5 90.88v1.24M27.5 94.88v1.24M27.5 117.88v1.24M27.5 120.88v1.24M27.5 128.88v1.24M27.5 130.88v1.24M27.5 132.88v1.24M28.5 28.88v1.24M28.5 31.88v1.24M28.5 52.88v1.24M28.5 55.88v1.24M28.5 91.88v1.24M28.5 97.88v1.24M28.5 126.88v1.24M29.5 3.88v1.24M29.5 40.88v1.24M29.5 60.88v1.24M29.5 66.88v1.24M29.5 105.88v1.24M29.5 123.88v1.24M29.5 130.88v1.24M29.5 134.88v1.24M29.5 141.88v1.24M29.5 144.88v1.24M30.5 28.88v1.24M30.5 38.88v1.24M30.5 77.88v1.24M30.5 115.88v1.24M30.5 126.88v1.24M30.5 136.88v1.24M30.5 140.88v1.24M31.5 4.88v1.24M31.5 18.88v1.24M31.5 45.88v1.24M31.5 64.88v1.24M31.5 101.88v1.24M31.5 124.88v1.24M32.5 12.88v1.24M32.5 17.88v1.24M32.5 28.88v1.24M32.5 40.88v1.24M32.5 48.88v1.24M32.5 53.88v2.24M32.5 60.88v1.24M32.5 82.88v1.24M32.5 95.88v1.24M32.5 97.88v1.24M32.5 99.88v1.24M32.5 121.88v1.24M32.5 123.88v3.24M33.5 22.88v1.24M33.5 51.88v1.24M33.5 68.88v1.24M33.5 73.88v1.24M33.5 81.88v1.24M33.5 102.88v1.24M33.5 122.88v1.24M34.5 115.88v1.24"/>
<path stroke="#00ffb1" d="M23.5 33.88v1.24M23.5 101.88v1.24M24.5 72.88v1.24M24.5 124.88v1.24M24.5 127.88v1.24M24.5 131.88v1.24M25.5 28.88v1.24M25.5 53.88v1.24M25.5 58.88v2.24M25.5 68.88v1.24M25.5 90.88v1.24M25.5 93.88v1.24M25.5 98.88v1.24M25.5 114.88v1.24M25.5 137.88v1.24M26.5 5.88v2.24M26.5 13.88v1.24M26.5 21.88v1.24M26.5 28.88v1.24M26.5 35.88v1.24M26.5 37.88v1.24M26.5 52.88v1.24M26.5 65.88v1.24M26.5 72.88v1.24M26.5 96.88v1.24M26.5 118.88v1.24M26.5 122.88v1.24M26.5 124.88v1.24M27.5 7.88v1.24M27.5 12.88v1.24M27.5 34.88v1.24M27.5 38.88v1.24M27.5 113.88v1.24M27.5 143.88v1.24M27.5 149.88v1.24M27.5 161.88v1.24M28.5 22.88v1.24M28.5 26.88v1.24M28.5 37.88v1.24M28.5 40.88v1.24M28.5 110.88v1.24M28.5 150.88v1.24M29.5 21.88v1.24M29.5 23.88v1.24M29.5 38.88v1.24M29.5 147.88v1.24M29.5 156.88v1.24M30.5 43.88v1.24M30.5 105.88v1.24M30.5 145.88v1.24M30.5 148.88v1.24M30.5 159.88v1.24M31.5 8.88v1.24M31.5 20.88v1.24M31.5 70.88v1.24M31.5 95.88v1.24M31.5 137.88v1.24M31.5 139.88v1.24M31.5 144.88v2.24M32.5 18.88v1.24M32.5 35.88v1.24M32.5 85.88v1.24M32.5 90.88v1.24M32.5 126.88v1.24M32.5 133.88v1.24M32.5 136.88v1.24M32.5 147.88v1.24M33.5 19.88v1.24M33.5 26.88v1.24M33.5 34.88v2.24M33.5 99.88v1.24M33.5 104.88v1.24M33.5 118.88v1.24M33.5 131.88v1.24M33.5 138.88v1.24M33.5 161.88v1.24M34.5 57.88v1.24M34.5 62.88v1.24M34.5 84.88v1.24M34.5 108.88v1.24M34.5 124.88v1.24"/>
<path stroke="#00ff5e" d="M23.5 84.88v1.24M24.5 52.88v1.24M25.5 3.88v1.24M25.5 17.88v2.24M25.5 26.88v1.24M25.5 33.88v1.24M25.5 66.88v1.24M25.5 70.88v1.24M25.5 86.88v1.24M25.5 94.88v1.24M26.5 49.88v2.24M26.5 58.88v1.24M26.5 89.88v1.24M26.5 133.88v1.24M26.5 135.88v1.24M27.5 8.88v1.24M27.5 26.88v1.24M27.5 31.88v1.24M27.5 33.88v1.24M27.5 35.88v1.24M27.5 58.88v2.24M27.5 77.88v1.24M27.5 115.88v1.24M27.5 118.88v1.24M27.5 158.88v1.24M28.5 3.88v2.24M28.5 13.88v1.24M28.5 25.88v1.24M28.5 32.88v1.24M28.5 45.88v1.24M28.5 57.88v1.24M28.5 71.88v1.24M28.5 93.88v1.24M28.5 121.88v1.24M28.5 136.88v1.24M28.5 152.88v1.24M29.5 11.88v1.24M29.5 72.88v1.24M29.5 96.88v1.24M29.5 121.88v1.24M29.5 126.88v2.24M29.5 145.88v1.24M30.5 15.88v1.24M30.5 42.88v1.24M30.5 55.88v1.24M30.5 62.88v1.24M30.5 89.88v1.24M30.5 96.88v1.24M30.5 98.88v1.24M30.5 110.88v1.24M30.5 152.88v1.24M31.5 32.88v1.24M31.5 49.88v1.24M31.5 63.88v1.24M31.5 75.88v1.24M31.5 110.88v1.24M31.5 128.88v1.24M31.5 140.88v2.24M31.5 148.88v1.24M31.5 150.88v1.24M32.5 15.88v1.24M32.5 46.88v1.24M32.5 72.88v1.24M32.5 74.88v2.24M32.5 91.88v1.24M32.5 120.88v1.24M32.5 132.88v1.24M32.5 137.88v1.24M33.5 9.88v1.24M33.5 33.88v1.24M33.5 49.88v1.24M33.5 55.88v1.24M33.5 66.88v1.24M33.5 86.88v1.24M33.5 101.88v1.24M33.5 103.88v1.24M33.5 120.88v1.24M34.5 32.88v1.24M35.5 73.88v1.24"/>
<path stroke="#00ff9c" d="M24.5 4.88v1.24M24.5 29.88v1.24M24.5 53.88v1.24M24.5 62.88v1.24M24.5 88.88v1.24M25.5 29.88v1.24M25.5 31.88v1.24M25.5 36.88v1.24M25.5 47.88v1.24M25.5 76.88v1.24M25.5 79.88v1.24M25.5 87.88v1.24M25.5 120.88v2.24M26.5 23.88v1.24M26.5 53.88v1.24M26.5 74.88v1.24M26.5 85.88v1.24M26.5 103.88v1.24M26.5 108.88v1.24M26.5 137.88v1.24M26.5 142.88v1.24M27.5 10.88v1.24M27.5 20.88v1.24M27.5 25.88v1.24M27.5 62.88v1.24M27.5 99.88v1.24M27.5 138.88v1.24M27.5 146.88v1.24M28.5 18.88v1.24M28.5 106.88v1.24M28.5 111.88v1.24M28.5 127.88v1.24M28.5 143.88v1.24M28.5 155.88v1.24M29.5 9.88v1.24M29.5 27.88v1.24M29.5 102.88v1.24M30.5 2.88v1.24M30.5 10.88v1.24M30.5 109.88v1.24M30.5 131.88v1.24M30.5 133.88v1.24M30.5 135.88v1.24M30.5 137.88v1.24M30.5 147.88v1.24M31.5 6.88v2.24M31.5 27.88v1.24M31.5 47.88v1.24M32.5 21.88v1.24M32.5 23.88v2.24M32.5 37.88v1.24M32.5 59.88v1.24M32.5 101.88v1.24M32.5 128.88v2.24M32.5 138.88v1.24M33.5 11.88v1.24M33.5 24.88v1.24M33.5 30.88v1.24M33.5 32.88v1.24M33.5 37.88v1.24M33.5 41.88v1.24M33.5 59.88v2.24M33.5 67.88v1.24M33.5 94.88v1.24M33.5 96.88v1.24M34.5 44.88v2.24M34.5 67.88v1.24M34.5 73.88v1.24M35.5 77.88v1.24M35.5 99.88v1.24M35.5 108.88v1.24"/>
<path stroke="#00ff73" d="M24.5 70.88v1.24M25.5 46.88v1.24M25.5 69.88v1.24M25.5 92.88v1.24M25.5 100.88v1.24M25.5 128.88v1.24M26.5 1.88v1.24M26.5 4.88v1.24M26.5 27.88v1.24M26.5 30.88v1.24M26.5 107.88v1.24M26.5 109.88v1.24M26.5 113.88v1.24M26.5 116.88v1.24M27.5 13.88v1.24M27.5 23.88v1.24M27.5 45.88v1.24M27.5 49.88v1.24M27.5 56.88v1.24M27.5 79.88v1.24M27.5 82.88v1.24M27.5 98.88v1.24M27.5 109.88v1.24M27.5 125.88v1.24M27.5 136.88v2.24M27.5 148.88v1.24M28.5 27.88v1.24M28.5 77.88v1.24M28.5 79.88v1.24M28.5 138.88v1.24M28.5 146.88v1.24M29.5 7.88v1.24M29.5 24.88v1.24M29.5 48.88v1.24M29.5 71.88v1.24M29.5 146.88v1.24M29.5 154.88v1.24M30.5 22.88v1.24M30.5 29.88v1.24M30.5 46.88v1.24M30.5 63.88v1.24M30.5 101.88v1.24M30.5 127.88v2.24M30.5 143.88v1.24M30.5 153.88v1.24M30.5 164.88v1.24M31.5 3.88v1.24M31.5 16.88v1.24M31.5 89.88v1.24M31.5 99.88v1.24M31.5 129.88v1.24M31.5 131.88v1.24M32.5 7.88v1.24M32.5 10.88v1.24M32.5 19.88v1.24M32.5 22.88v1.24M32.5 29.88v1.24M32.5 32.88v1.24M32.5 49.88v1.24M32.5 63.88v1.24M32.5 67.88v1.24M32.5 98.88v1.24M32.5 103.88v1.24M32.5 108.88v1.24M32.5 110.88v1.24M32.5 142.88v1.24M33.5 13.88v1.24M33.5 28.88v1.24M33.5 36.88v1.24M33.5 44.88v1.24M33.5 48.88v1.24M33.5 70.88v1.24M33.5 88.88v2.24M33.5 106.88v1.24M33.5 112.88v1.24M33.5 115.88v1.24M33.5 124.88v1.24M33.5 127.88v2.24M34.5 79.88v1.24M34.5 135.88v1.24M36.5 59.88v1.24"/>
<path stroke="#00ff49" d="M24.5 101.88v1.24M25.5 19.88v1.24M25.5 25.88v1.24M25.5 43.88v1.24M25.5 65.88v1.24M25.5 88.88v1.24M25.5 109.88v1.24M26.5 26.88v1.24M26.5 29.88v1.24M26.5 31.88v1.24M26.5 45.88v1.24M26.5 48.88v1.24M26.5 73.88v1.24M26.5 93.88v1.24M26.5 110.88v1.24M26.5 121.88v1.24M26.5 129.88v1.24M27.5 11.88v1.24M27.5 16.88v1.24M27.5 42.88v1.24M27.5 72.88v1.24M27.5 85.88v1.24M27.5 95.88v1.24M27.5 104.88v1.24M27.5 106.88v1.24M27.5 110.88v1.24M27.5 124.88v1.24M28.5 5.88v1.24M28.5 10.88v1.24M28.5 24.88v1.24M28.5 29.88v1.24M28.5 46.88v1.24M28.5 54.88v1.24M28.5 108.88v1.24M28.5 141.88v1.24M29.5 17.88v1.24M29.5 73.88v1.24M29.5 83.88v1.24M29.5 93.88v1.24M29.5 129.88v1.24M29.5 143.88v1.24M30.5 6.88v1.24M30.5 13.88v1.24M30.5 21.88v1.24M30.5 24.88v1.24M30.5 27.88v1.24M30.5 39.88v1.24M30.5 94.88v1.24M30.5 106.88v1.24M30.5 138.88v2.24M30.5 141.88v1.24M31.5 9.88v1.24M31.5 13.88v1.24M31.5 26.88v1.24M31.5 42.88v1.24M31.5 79.88v1.24M31.5 96.88v1.24M31.5 127.88v1.24M32.5 6.88v1.24M32.5 25.88v1.24M32.5 31.88v1.24M32.5 34.88v1.24M32.5 39.88v1.24M32.5 51.88v1.24M32.5 62.88v1.24M32.5 65.88v1.24M32.5 94.88v1.24M32.5 109.88v1.24M32.5 127.88v1.24M33.5 56.88v1.24M33.5 65.88v1.24M33.5 75.88v1.24M33.5 82.88v1.24M33.5 110.88v1.24"/>
<path stroke="#0aff00" d="M24.5 102.88v1.24M24.5 111.88v1.24M25.5 103.88v1.24M26.5 33.88v1.24M26.5 80.88v1.24M26.5 94.88v1.24M26.5 99.88v1.24M26.5 134.88v1.24M27.5 18.88v1.24M27.5 53.88v1.24M27.5 111.88v2.24M28.5 12.88v1.24M28.5 17.88v1.24M28.5 51.88v1.24M28.5 58.88v1.24M28.5 62.88v1.24M28.5 102.88v1.24M28.5 105.88v1.24M28.5 128.88v1.24M28.5 130.88v2.24M28.5 133.88v1.24M28.5 137.88v1.24M29.5 84.88v1.24M29.5 119.88v1.24M29.5 138.88v1.24M30.5 7.88v1.24M30.5 14.88v1.24M30.5 25.88v2.24M30.5 36.88v1.24M30.5 60.88v2.24M30.5 102.88v1.24M30.5 121.88v1.24M31.5 25.88v1.24M31.5 66.88v1.24M31.5 83.88v1.24M31.5 87.88v1.24M31.5 126.88v1.24M31.5 138.88v1.24M31.5 146.88v1.24M32.5 64.88v1.24M32.5 92.88v1.24M32.5 102.88v1.24M32.5 117.88v1.24M33.5 90.88v1.24M33.5 111.88v1.24M34.5 93.88v1.24"/>
<path stroke="#00ff0b" d="M25.5 6.88v1.24M25.5 45.88v1.24M25.5 52.88v1.24M25.5 104.88v1.24M25.5 106.88v1.24M26.5 36.88v1.24M26.5 61.88v1.24M26.5 81.88v3.24M26.5 88.88v1.24M26.5 98.88v1.24M26.5 104.88v1.24M26.5 127.88v1.24M27.5 21.88v1.24M27.5 41.88v1.24M27.5 48.88v1.24M27.5 88.88v1.24M27.5 91.88v1.24M27.5 101.88v1.24M27.5 133.88v1.24M28.5 21.88v1.24M28.5 64.88v1.24M28.5 67.88v1.24M28.5 88.88v2.24M28.5 95.88v1.24M28.5 101.88v1.24M28.5 123.88v1.24M28.5 144.88v1.24M29.5 4.88v1.24M29.5 10.88v1.24M29.5 25.88v1.24M29.5 44.88v1.24M29.5 51.88v1.24M29.5 53.88v1.24M29.5 57.88v1.24M29.5 76.88v2.24M29.5 90.88v1.24M29.5 108.88v1.24M29.5 128.88v1.24M29.5 131.88v1.24M29.5 133.88v1.24M30.5 20.88v1.24M30.5 32.88v1.24M30.5 41.88v1.24M30.5 49.88v1.24M30.5 78.88v1.24M30.5 84.88v1.24M30.5 104.88v1.24M31.5 31.88v1.24M31.5 36.88v1.24M31.5 44.88v1.24M31.5 69.88v1.24M31.5 71.88v1.24M31.5 77.88v1.24M31.5 93.88v1.24M31.5 109.88v1.24M31.5 112.88v1.24M31.5 115.88v1.24M31.5 135.88v1.24M32.5 112.88v1.24M32.5 130.88v1.24M33.5 63.88v1.24M33.5 78.88v1.24M33.5 80.88v1.24M34.5 71.88v1.24"/>
<path stroke="#9cff00" d="M25.5 60.88v1.24M26.5 75.88v1.24M26.5 95.88v1.24M27.5 44.88v1.24M27.5 57.88v1.24M27.5 135.88v1.24M28.5 34.88v1.24M28.5 74.88v1.24M28.5 81.88v1.24M28.5 100.88v1.24M29.5 32.88v1.24M29.5 43.88v1.24M29.5 78.88v1.24M29.5 91.88v1.24M29.5 113.88v1.24M30.5 4.88v1.24M30.5 30.88v1.24M30.5 44.88v1.24M30.5 52.88v1.24M30.5 100.88v1.24M31.5 41.88v1.24M31.5 56.88v1.24M31.5 103.88v1.24M31.5 117.88v1.24"/>
<path stroke="#00ff1f" d="M25.5 71.88v1.24M25.5 78.88v1.24M25.5 80.88v1.24M25.5 105.88v1.24M25.5 122.88v1.24M26.5 25.88v1.24M26.5 41.88v1.24M26.5 44.88v1.24M26.5 60.88v1.24M26.5 71.88v1.24M26.5 100.88v1.24M26.5 111.88v1.24M27.5 22.88v1.24M27.5 24.88v1.24M27.5 30.88v1.24M27.5 37.88v1.24M27.5 63.88v1.24M27.5 93.88v1.24M27.5 123.88v1.24M27.5 140.88v1.24M27.5 144.88v1.24M28.5 14.88v1.24M28.5 35.88v1.24M28.5 68.88v1.24M28.5 70.88v1.24M28.5 84.88v1.24M29.5 12.88v1.24M29.5 42.88v1.24M29.5 61.88v1.24M29.5 86.88v1.24M29.5 110.88v1.24M29.5 118.88v1.24M29.5 124.88v1.24M30.5 12.88v1.24M30.5 53.88v1.24M30.5 66.88v2.24M30.5 80.88v1.24M30.5 113.88v1.24M30.5 119.88v1.24M30.5 132.88v1.24M31.5 5.88v1.24M31.5 10.88v1.24M31.5 12.88v1.24M31.5 53.88v1.24M31.5 86.88v1.24M31.5 94.88v1.24M31.5 119.88v2.24M31.5 134.88v1.24M31.5 157.88v1.24M32.5 26.88v1.24M32.5 76.88v1.24M32.5 87.88v1.24M32.5 107.88v1.24M32.5 119.88v1.24M33.5 72.88v1.24M33.5 91.88v1.24M33.5 107.88v1.24M33.5 113.88v1.24M33.5 116.88v1.24"/>
<path stroke="#1fff00" d="M25.5 107.88v1.24M26.5 8.88v1.24M26.5 19.88v1.24M26.5 59.88v1.24M26.5 76.88v1.24M26.5 138.88v1.24M27.5 55.88v1.24M27.5 103.88v1.24M27.5 147.88v1.24M28.5 8.88v1.24M28.5 30.88v1.24M28.5 38.88v1.24M28.5 60.88v1.24M28.5 80.88v1.24M28.5 90.88v1.24M28.5 117.88v1.24M28.5 124.88v1.24M29.5 6.88v1.24M29.5 14.88v1.24M29.5 18.88v1.24M29.5 59.88v1.24M29.5 70.88v1.24M29.5 85.88v1.24M29.5 89.88v1.24M30.5 3.88v1.24M30.5 40.88v1.24M30.5 48.88v1.24M30.5 50.88v1.24M30.5 69.88v1.24M30.5 73.88v1.24M30.5 75.88v1.24M30.5 86.88v1.24M30.5 91.88v1.24M30.5 112.88v1.24M31.5 22.88v1.24M31.5 29.88v1.24M31.5 59.88v1.24M31.5 68.88v1.24M31.5 73.88v1.24M31.5 90.88v1.24M31.5 100.88v1.24M31.5 108.88v1.24M32.5 52.88v1.24M32.5 70.88v1.24M32.5 78.88v1.24M32.5 104.88v1.24M32.5 114.88v1.24M33.5 38.88v1.24M33.5 93.88v1.24"/>
<path stroke="#87ff00" d="M25.5 126.88v1.24M26.5 87.88v1.24M26.5 125.88v1.24M27.5 67.88v1.24M27.5 102.88v1.24M27.5 105.88v1.24M28.5 83.88v1.24M28.5 85.88v1.24M29.5 33.88v1.24M29.5 58.88v1.24M29.5 106.88v1.24M30.5 17.88v1.24M30.5 35.88v1.24M30.5 93.88v1.24M30.5 124.88v1.24M31.5 43.88v1.24M31.5 52.88v1.24M32.5 30.88v1.24M32.5 56.88v1.24M32.5 73.88v1.24M32.5 115.88v1.24"/>
<path stroke="#c5ff00" d="M26.5 7.88v1.24M27.5 51.88v1.24M29.5 68.88v2.24M29.5 107.88v1.24M29.5 109.88v1.24M29.5 112.88v1.24M30.5 5.88v1.24M30.5 65.88v1.24M30.5 74.88v1.24M30.5 85.88v1.24M30.5 116.88v1.24M31.5 17.88v1.24M31.5 62.88v1.24M31.5 111.88v1.24M31.5 136.88v1.24M32.5 42.88v1.24"/>
<path stroke="#5dff00" d="M26.5 42.88v1.24M26.5 63.88v1.24M27.5 50.88v1.24M27.5 66.88v1.24M27.5 73.88v1.24M27.5 92.88v1.24M27.5 97.88v1.24M27.5 122.88v1.24M27.5 134.88v1.24M28.5 20.88v1.24M28.5 78.88v1.24M28.5 82.88v1.24M28.5 118.88v2.24M29.5 36.88v1.24M29.5 62.88v1.24M29.5 75.88v1.24M29.5 79.88v1.24M29.5 111.88v1.24M29.5 116.88v1.24M30.5 57.88v1.24M30.5 125.88v1.24M31.5 19.88v1.24M31.5 51.88v1.24M31.5 57.88v1.24M31.5 72.88v1.24M31.5 80.88v1.24M31.5 116.88v1.24M31.5 123.88v1.24M32.5 43.88v1.24M32.5 66.88v1.24M32.5 93.88v1.24M32.5 96.88v1.24M32.5 116.88v1.24"/>
<path stroke="#34ff00" d="M26.5 86.88v1.24M27.5 28.88v1.24M27.5 40.88v1.24M27.5 83.88v1.24M27.5 89.88v1.24M27.5 100.88v1.24M27.5 121.88v1.24M27.5 139.88v1.24M28.5 16.88v1.24M28.5 39.88v1.24M28.5 43.88v1.24M28.5 65.88v1.24M28.5 72.88v1.24M28.5 86.88v1.24M28.5 104.88v1.24M28.5 109.88v1.24M28.5 125.88v1.24M28.5 132.88v1.24M28.5 140.88v1.24M29.5 16.88v1.24M29.5 28.88v2.24M29.5 39.88v1.24M29.5 47.88v1.24M29.5 50.88v1.24M29.5 74.88v1.24M29.5 80.88v1.24M29.5 88.88v1.24M29.5 117.88v1.24M29.5 135.88v1.24M30.5 16.88v1.24M30.5 18.88v1.24M30.5 58.88v1.24M30.5 71.88v2.24M30.5 82.88v1.24M30.5 92.88v1.24M31.5 24.88v1.24M31.5 28.88v1.24M31.5 30.88v1.24M31.5 33.88v1.24M31.5 35.88v1.24M31.5 48.88v1.24M31.5 54.88v1.24M31.5 67.88v1.24M31.5 98.88v1.24M31.5 114.88v1.24M32.5 57.88v1.24"/>
<path stroke="#49ff00" d="M26.5 101.88v1.24M27.5 3.88v1.24M27.5 64.88v1.24M27.5 78.88v1.24M27.5 126.88v2.24M27.5 131.88v1.24M28.5 19.88v1.24M28.5 48.88v1.24M28.5 56.88v1.24M28.5 87.88v1.24M28.5 115.88v1.24M29.5 19.88v1.24M29.5 30.88v1.24M29.5 54.88v1.24M29.5 92.88v1.24M29.5 104.88v1.24M29.5 139.88v1.24M31.5 34.88v1.24M31.5 38.88v1.24M31.5 61.88v1.24M31.5 78.88v1.24M31.5 82.88v1.24M31.5 85.88v1.24M31.5 97.88v1.24M31.5 118.88v1.24M32.5 47.88v1.24M32.5 79.88v1.24M33.5 97.88v1.24M33.5 109.88v1.24"/>
<path stroke="#daff00" d="M26.5 120.88v1.24M29.5 2.88v1.24M29.5 35.88v1.24M29.5 45.88v1.24M29.5 64.88v1.24M30.5 54.88v1.24M30.5 95.88v1.24M31.5 14.88v1.24M31.5 40.88v1.24M31.5 50.88v1.24M31.5 105.88v1.24M32.5 88.88v1.24"/>
<path stroke="#b1ff00" d="M27.5 43.88v1.24M27.5 84.88v1.24M28.5 59.88v1.24M28.5 96.88v1.24M29.5 82.88v1.24M29.5 87.88v1.24M29.5 95.88v1.24M29.5 99.88v1.24M29.5 101.88v1.24M30.5 31.88v1.24M30.5 81.88v1.24M30.5 87.88v1.24M30.5 108.88v1.24M30.5 111.88v1.24M30.5 118.88v1.24M31.5 11.88v1.24M32.5 61.88v1.24"/>
<path stroke="#ffe500" d="M27.5 54.88v1.24M27.5 70.88v1.24M28.5 107.88v1.24M29.5 63.88v1.24M29.5 125.88v1.24M30.5 56.88v1.24M30.5 99.88v1.24M30.5 114.88v1.24M31.5 84.88v1.24"/>
<path stroke="#72ff00" d="M27.5 65.88v1.24M27.5 87.88v1.24M27.5 114.88v1.24M28.5 6.88v1.24M28.5 41.88v1.24M28.5 53.88v1.24M28.5 75.88v2.24M28.5 92.88v1.24M28.5 112.88v1.24M28.5 116.88v1.24M28.5 122.88v1.24M28.5 139.88v1.24M29.5 46.88v1.24M29.5 65.88v1.24M29.5 81.88v1.24M29.5 100.88v1.24M29.5 122.88v1.24M30.5 45.88v1.24M30.5 64.88v1.24M30.5 68.88v1.24M30.5 88.88v1.24M30.5 107.88v1.24M30.5 120.88v1.24M31.5 15.88v1.24M31.5 58.88v1.24M31.5 76.88v1.24M31.5 88.88v1.24M31.5 107.88v1.24M31.5 133.88v1.24M32.5 100.88v1.24"/>
<path stroke="#ffa700" d="M27.5 74.88v1.24"/>
<path stroke="#ffd000" d="M27.5 116.88v1.24M28.5 113.88v1.24M29.5 49.88v1.24M29.5 97.88v1.24M29.5 103.88v1.24M30.5 129.88v1.24"/>
<path stroke="#fffa00" d="M28.5 33.88v1.24M28.5 50.88v1.24M29.5 67.88v1.24M29.5 115.88v1.24M29.5 120.88v1.24M30.5 79.88v1.24M30.5 83.88v1.24M30.5 97.88v1.24M31.5 74.88v1.24M31.5 102.88v1.24M31.5 121.88v1.24"/>
<path stroke="#efff00" d="M28.5 36.88v1.24M29.5 55.88v1.24M29.5 98.88v1.24M29.5 132.88v1.24M31.5 104.88v1.24"/>
<path stroke="#ff9200" d="M28.5 94.88v1.24"/>
<path stroke="#ff0000" d="M28.5 99.88v1.24M30.5 76.88v1.24"/>
<path stroke="#ffbc00" d="M28.5 120.88v1.24M30.5 51.88v1.24M30.5 103.88v1.24M31.5 92.88v1.24"/>
<path stroke="#ff6800" d="M29.5 56.88v1.24M29.5 94.88v1.24"/>
<path stroke="#ff5400" d="M30.5 70.88v1.24M30.5 90.88v1.24"/>
</g>
<g transform="translate(759,657.2) scale(11.93,-1.77)" fill="none" stroke-width="1.02">
<path stroke="#003eff" d="M0.5 0.88v1.24M0.5 9.88v1.24M0.5 44.88v1.24M0.5 63.88v1.24M0.5 65.88v1.24M0.5 67.88v1.24M0.5 69.88v1.24M0.5 72.88v1.24M0.5 79.88v1.24M0.5 88.88v1.24M0.5 106.88v1.24M0.5 114.88v2.24M0.5 133.88v3.24M0.5 142.88v1.24M0.5 150.88v1.24M0.5 162.88v1.24M0.5 167.88v1.24M0.5 170.88v1.24M0.5 186.88v1.24M0.5 190.88v1.24M0.5 193.88v2.24M1.5 16.88v1.24M1.5 21.88v1.24M1.5 43.88v1.24M1.5 57.88v1.24M1.5 74.88v1.24M1.5 83.88v2.24M1.5 92.88v2.24M1.5 100.88v1.24M1.5 102.88v1.24M1.5 106.88v1.24M1.5 108.88v1.24M1.5 112.88v1.24M1.5 115.88v1.24M1.5 117.88v1.24M1.5 122.88v1.24M1.5 130.88v1.24M1.5 136.88v1.24M1.5 145.88v1.24M1.5 147.88v1.24M1.5 160.88v1.24M1.5 170.88v1.24M1.5 179.88v1.24M1.5 183.88v1.24M1.5 187.88v1.24M1.5 193.88v2.24M2.5 0.88v1.24M2.5 10.88v1.24M2.5 15.88v1.24M2.5 19.88v1.24M2.5 24.88v1.24M2.5 44.88v1.24M2.5 48.88v1.24M2.5 53.88v1.24M2.5 58.88v2.24M2.5 66.88v1.24M2.5 70.88v1.24M2.5 74.88v2.24M2.5 85.88v1.24M2.5 97.88v2.24M2.5 126.88v1.24M2.5 128.88v1.24M2.5 131.88v2.24M2.5 138.88v3.24M2.5 153.88v1.24M2.5 164.88v1.24M2.5 169.88v1.24M2.5 176.88v1.24M2.5 183.88v1.24M2.5 192.88v1.24M3.5 19.88v2.24M3.5 39.88v1.24M3.5 44.88v1.24M3.5 64.88v1.24M3.5 70.88v1.24M3.5 76.88v1.24M3.5 93.88v1.24M3.5 95.88v1.24M3.5 103.88v1.24M3.5 119.88v1.24M3.5 122.88v1.24M3.5 128.88v1.24M3.5 130.88v1.24M3.5 134.88v3.24M3.5 140.88v1.24M3.5 162.88v1.24M3.5 167.88v1.24M3.5 169.88v1.24M3.5 174.88v2.24M3.5 178.88v1.24M3.5 182.88v1.24M3.5 191.88v2.24M3.5 194.88v1.24M4.5 0.88v2.24M4.5 3.88v1.24M4.5 11.88v1.24M4.5 20.88v1.24M4.5 25.88v1.24M4.5 34.88v3.24M4.5 47.88v1.24M4.5 53.88v1.24M4.5 56.88v1.24M4.5 58.88v1.24M4.5 63.88v1.24M4.5 84.88v2.24M4.5 92.88v1.24M4.5 104.88v1.24M4.5 112.88v1.24M4.5 119.88v1.24M4.5 122.88v1.24M4.5 129.88v1.24M4.5 139.88v1.24M4.5 149.88v1.24M4.5 156.88v1.24M4.5 160.88v1.24M4.5 162.88v3.24M4.5 187.88v1.24M5.5 19.88v1.24M5.5 21.88v1.24M5.5 27.88v1.24M5.5 49.88v1.24M5.5 57.88v1.24M5.5 64.88v1.24M5.5 66.88v1.24M5.5 75.88v2.24M5.5 90.88v1.24M5.5 95.88v1.24M5.5 98.88v3.24M5.5 114.88v1.24M5.5 116.88v1.24M5.5 119.88v1.24M5.5 122.88v1.24M5.5 126.88v1.24M5.5 137.88v1.24M5.5 155.88v1.24M5.5 160.88v1.24M5.5 164.88v2.24M5.5 167.88v2.24M5.5 171.88v1.24M5.5 173.88v1.24M5.5 178.88v3.24M5.5 189.88v1.24M6.5 17.88v1.24M6.5 20.88v2.24M6.5 24.88v1.24M6.5 30.88v1.24M6.5 41.88v2.24M6.5 49.88v1.24M6.5 58.88v1.24M6.5 66.88v1.24M6.5 75.88v1.24M6.5 77.88v1.24M6.5 86.88v1.24M6.5 90.88v1.24M6.5 94.88v1.24M6.5 102.88v1.24M6.5 107.88v2.24M6.5 115.88v1.24M6.5 120.88v1.24M6.5 136.88v1.24M6.5 146.88v1.24M6.5 151.88v1.24M6.5 155.88v2.24M6.5 163.88v1.24M6.5 166.88v1.24M6.5 171.88v1.24M7.5 5.88v1.24M7.5 7.88v2.24M7.5 24.88v1.24M7.5 33.88v1.24M7.5 37.88v2.24M7.5 54.88v2.24M7.5 58.88v1.24M7.5 60.88v1.24M7.5 78.88v2.24M7.5 83.88v1.24M7.5 88.88v1.24M7.5 93.88v1.24M7.5 96.88v3.24M7.5 102.88v1.24M7.5 105.88v1.24M7.5 113.88v1.24M7.5 116.88v1.24M7.5 129.88v1.24M7.5 138.88v1.24M7.5 151.88v2.24M7.5 168.88v1.24M7.5 174.88v1.24M7.5 180.88v1.24M7.5 186.88v3.24M8.5 0.88v1.24M8.5 3.88v2.24M8.5 10.88v1.24M8.5 20.88v1.24M8.5 28.88v1.24M8.5 36.88v1.24M8.5 43.88v1.24M8.5 48.88v1.24M8.5 57.88v1.24M8.5 65.88v1.24M8.5 68.88v1.24M8.5 71.88v1.24M8.5 73.88v1.24M8.5 76.88v1.24M8.5 84.88v1.24M8.5 86.88v1.24M8.5 95.88v1.24M8.5 98.88v1.24M8.5 107.88v1.24M8.5 109.88v1.24M8.5 111.88v1.24M8.5 116.88v1.24M8.5 125.88v1.24M8.5 134.88v3.24M8.5 143.88v1.24M8.5 145.88v1.24M8.5 149.88v1.24M8.5 157.88v1.24M8.5 169.88v1.24M8.5 172.88v1.24M8.5 192.88v1.24M9.5 1.88v1.24M9.5 16.88v1.24M9.5 28.88v1.24M9.5 44.88v1.24M9.5 47.88v1.24M9.5 51.88v2.24M9.5 55.88v1.24M9.5 57.88v1.24M9.5 59.88v1.24M9.5 61.88v2.24M9.5 67.88v2.24M9.5 71.88v1.24M9.5 75.88v1.24M9.5 79.88v1.24M9.5 85.88v1.24M9.5 91.88v1.24M9.5 100.88v1.24M9.5 116.88v1.24M9.5 122.88v1.24M9.5 129.88v1.24M9.5 139.88v1.24M9.5 144.88v1.24M9.5 155.88v1.24M9.5 157.88v2.24M9.5 166.88v2.24M9.5 175.88v1.24M9.5 179.88v2.24M9.5 184.88v3.24M10.5 -0.12v1.24M10.5 13.88v1.24M10.5 15.88v2.24M10.5 28.88v2.24M10.5 35.88v1.24M10.5 40.88v1.24M10.5 42.88v2.24M10.5 49.88v1.24M10.5 56.88v1.24M10.5 61.88v1.24M10.5 64.88v1.24M10.5 71.88v1.24M10.5 74.88v1.24M10.5 99.88v1.24M10.5 106.88v1.24M10.5 109.88v1.24M10.5 113.88v1.24M10.5 117.88v1.24M10.5 123.88v2.24M10.5 127.88v1.24M10.5 144.88v1.24M10.5 156.88v1.24M10.5 158.88v2.24M10.5 171.88v1.24M11.5 -0.12v1.24M11.5 2.88v1.24M11.5 10.88v2.24M11.5 21.88v1.24M11.5 24.88v3.24M11.5 30.88v1.24M11.5 32.88v1.24M11.5 40.88v1.24M11.5 44.88v1.24M11.5 49.88v2.24M11.5 52.88v1.24M11.5 67.88v1.24M11.5 70.88v1.24M11.5 83.88v1.24M11.5 85.88v1.24M11.5 89.88v3.24M11.5 93.88v1.24M11.5 106.88v1.24M11.5 112.88v1.24M11.5 116.88v2.24M11.5 123.88v1.24M11.5 127.88v1.24M11.5 146.88v1.24M11.5 149.88v1.24M11.5 153.88v2.24M11.5 156.88v1.24M11.5 162.88v1.24M11.5 167.88v1.24M11.5 170.88v2.24M11.5 178.88v1.24M12.5 -0.12v1.24M12.5 2.88v2.24M12.5 6.88v1.24M12.5 9.88v1.24M12.5 13.88v1.24M12.5 23.88v1.24M12.5 28.88v1.24M12.5 35.88v2.24M12.5 38.88v1.24M12.5 42.88v1.24M12.5 47.88v1.24M12.5 51.88v1.24M12.5 53.88v1.24M12.5 57.88v3.24M12.5 70.88v1.24M12.5 72.88v1.24M12.5 76.88v1.24M12.5 83.88v1.24M12.5 86.88v2.24M12.5 91.88v1.24M12.5 95.88v2.24M12.5 101.88v1.24M12.5 112.88v1.24M12.5 116.88v1.24M12.5 122.88v1.24M12.5 125.88v1.24M12.5 127.88v1.24M12.5 131.88v1.24M12.5 136.88v1.24M12.5 142.88v1.24M12.5 157.88v1.24M12.5 159.88v1.24M12.5 171.88v2.24M12.5 177.88v1.24M12.5 187.88v1.24M12.5 191.88v1.24M13.5 0.88v1.24M13.5 4.88v1.24M13.5 6.88v1.24M13.5 9.88v2.24M13.5 13.88v1.24M13.5 17.88v2.24M13.5 23.88v1.24M13.5 25.88v4.24M13.5 31.88v2.24M13.5 36.88v2.24M13.5 47.88v1.24M13.5 51.88v4.24M13.5 61.88v2.24M13.5 69.88v2.24M13.5 75.88v1.24M13.5 78.88v2.24M13.5 81.88v3.24M13.5 85.88v1.24M13.5 88.88v1.24M13.5 91.88v2.24M13.5 110.88v1.24M13.5 122.88v2.24M13.5 138.88v1.24M13.5 142.88v1.24M13.5 147.88v1.24M13.5 160.88v1.24M13.5 168.88v1.24M13.5 175.88v1.24M13.5 184.88v1.24M14.5 4.88v1.24M14.5 22.88v1.24M14.5 35.88v1.24M14.5 40.88v2.24M14.5 49.88v1.24M14.5 58.88v1.24M14.5 72.88v2.24M14.5 75.88v1.24M14.5 77.88v1.24M14.5 84.88v1.24M14.5 88.88v2.24M14.5 93.88v1.24M14.5 107.88v1.24M14.5 111.88v1.24M14.5 122.88v1.24M14.5 127.88v1.24M14.5 132.88v1.24M14.5 141.88v1.24M14.5 144.88v1.24M14.5 158.88v1.24M14.5 160.88v1.24M14.5 176.88v1.24M14.5 188.88v1.24M15.5 2.88v1.24M15.5 9.88v1.24M15.5 24.88v1.24M15.5 31.88v1.24M15.5 39.88v1.24M15.5 41.88v1.24M15.5 56.88v1.24M15.5 62.88v1.24M15.5 64.88v1.24M15.5 67.88v2.24M15.5 76.88v1.24M15.5 78.88v1.24M15.5 85.88v2.24M15.5 107.88v2.24M15.5 112.88v1.24M15.5 125.88v1.24M15.5 130.88v1.24M15.5 136.88v1.24M15.5 139.88v1.24M15.5 143.88v1.24M15.5 146.88v1.24M15.5 149.88v3.24M15.5 153.88v1.24M15.5 165.88v1.24M15.5 168.88v1.24M15.5 194.88v1.24M16.5 16.88v1.24M16.5 22.88v1.24M16.5 33.88v1.24M16.5 45.88v1.24M16.5 62.88v1.24M16.5 66.88v2.24M16.5 79.88v1.24M16.5 84.88v1.24M16.5 86.88v2.24M16.5 90.88v1.24M16.5 99.88v1.24M16.5 109.88v1.24M16.5 112.88v1.24M16.5 114.88v1.24M16.5 118.88v1.24M16.5 121.88v1.24M16.5 124.88v1.24M16.5 126.88v1.24M16.5 139.88v1.24M16.5 141.88v1.24M16.5 145.88v1.24M16.5 148.88v1.24M16.5 154.88v1.24M16.5 175.88v1.24M16.5 184.88v1.24M17.5 18.88v1.24M17.5 22.88v1.24M17.5 34.88v1.24M17.5 66.88v1.24M17.5 68.88v1.24M17.5 70.88v1.24M17.5 77.88v1.24M17.5 86.88v1.24M17.5 94.88v1.24M17.5 97.88v1.24M17.5 100.88v1.24M17.5 105.88v1.24M17.5 113.88v1.24M17.5 118.88v1.24M17.5 120.88v1.24M17.5 131.88v1.24M17.5 133.88v1.24M17.5 138.88v1.24M17.5 156.88v1.24M17.5 158.88v1.24M17.5 160.88v2.24M17.5 166.88v3.24M17.5 172.88v1.24M17.5 180.88v1.24M17.5 185.88v1.24M18.5 48.88v1.24M18.5 54.88v1.24M18.5 84.88v1.24M18.5 86.88v1.24M18.5 92.88v1.24M18.5 96.88v1.24M18.5 100.88v1.24M18.5 104.88v1.24M18.5 107.88v1.24M18.5 109.88v1.24M18.5 113.88v1.24M18.5 119.88v1.24M18.5 131.88v1.24M18.5 133.88v1.24M18.5 137.88v1.24M18.5 144.88v1.24M18.5 150.88v1.24M18.5 153.88v1.24M18.5 164.88v1.24M18.5 168.88v1.24M18.5 170.88v1.24M18.5 173.88v1.24M18.5 180.88v2.24M19.5 48.88v1.24M19.5 93.88v1.24M19.5 100.88v1.24M19.5 106.88v1.24M19.5 117.88v2.24M19.5 148.88v1.24M19.5 150.88v1.24M19.5 153.88v2.24M19.5 156.88v1.24M19.5 165.88v1.24M19.5 180.88v1.24M20.5 90.88v1.24M20.5 101.88v1.24M20.5 110.88v1.24M20.5 119.88v1.24M20.5 122.88v4.24M20.5 134.88v1.24M20.5 141.88v2.24M20.5 147.88v1.24M20.5 150.88v1.24M20.5 153.88v1.24M20.5 176.88v1.24M20.5 181.88v1.24M21.5 83.88v1.24M21.5 88.88v1.24M21.5 105.88v1.24M21.5 109.88v1.24M21.5 124.88v1.24M21.5 128.88v1.24M21.5 131.88v3.24M21.5 140.88v1.24M21.5 145.88v1.24M21.5 151.88v3.24M21.5 157.88v1.24M21.5 162.88v1.24M21.5 167.88v1.24M21.5 169.88v1.24M21.5 172.88v1.24M21.5 176.88v1.24M21.5 181.88v1.24M22.5 92.88v1.24M22.5 109.88v1.24M22.5 113.88v1.24M22.5 128.88v1.24M22.5 133.88v2.24M22.5 143.88v1.24M22.5 146.88v1.24M22.5 148.88v1.24M22.5 169.88v1.24M22.5 172.88v1.24M22.5 183.88v1.24M22.5 189.88v1.24M23.5 105.88v1.24M23.5 108.88v1.24M23.5 125.88v1.24M23.5 138.88v1.24M23.5 141.88v1.24M23.5 144.88v1.24M23.5 150.88v2.24M23.5 153.88v1.24M23.5 160.88v1.24M23.5 169.88v1.24M23.5 174.88v1.24M23.5 176.88v1.24M23.5 180.88v1.24M24.5 104.88v1.24M24.5 122.88v3.24M24.5 126.88v1.24M24.5 138.88v1.24M24.5 149.88v1.24M24.5 155.88v1.24M24.5 161.88v1.24M24.5 163.88v1.24M24.5 175.88v1.24M24.5 178.88v1.24M25.5 97.88v1.24M25.5 100.88v1.24M25.5 128.88v1.24M25.5 131.88v1.24M25.5 139.88v1.24M25.5 142.88v2.24M25.5 145.88v1.24M25.5 157.88v1.24M25.5 162.88v1.24M25.5 166.88v1.24M25.5 169.88v1.24M25.5 176.88v1.24M25.5 180.88v1.24M25.5 183.88v1.24M25.5 185.88v1.24M25.5 194.88v1.24M26.5 106.88v1.24M26.5 141.88v1.24M26.5 167.88v1.24M26.5 171.88v1.24M27.5 118.88v1.24M27.5 128.88v1.24M27.5 141.88v1.24M27.5 154.88v1.24M27.5 163.88v1.24M27.5 165.88v1.24M27.5 168.88v2.24M27.5 182.88v1.24M28.5 116.88v1.24M28.5 133.88v1.24M28.5 148.88v1.24M28.5 150.88v1.24M28.5 154.88v2.24M28.5 166.88v1.24M28.5 168.88v5.24M28.5 177.88v1.24M28.5 188.88v1.24M29.5 102.88v1.24M29.5 119.88v1.24M29.5 127.88v1.24M29.5 142.88v2.24M29.5 145.88v1.24M29.5 148.88v1.24M29.5 152.88v1.24M29.5 164.88v1.24M29.5 167.88v1.24M29.5 172.88v3.24M29.5 178.88v1.24M29.5 180.88v3.24M30.5 71.88v1.24M30.5 113.88v1.24M30.5 115.88v1.24M30.5 128.88v1.24M30.5 132.88v1.24M30.5 136.88v1.24M30.5 138.88v1.24M30.5 146.88v1.24M30.5 155.88v2.24M30.5 161.88v1.24M30.5 165.88v1.24M30.5 167.88v1.24M30.5 177.88v1.24M31.5 119.88v2.24M31.5 129.88v2.24M31.5 140.88v1.24M31.5 152.88v1.24M31.5 158.88v1.24M31.5 166.88v1.24M31.5 188.88v1.24M32.5 95.88v1.24M32.5 106.88v1.24M32.5 112.88v1.24M32.5 124.88v2.24M32.5 128.88v1.24M32.5 131.88v1.24M32.5 134.88v1.24M32.5 142.88v1.24M32.5 147.88v1.24M32.5 150.88v2.24M33.5 33.88v1.24M33.5 50.88v1.24M33.5 55.88v1.24M33.5 61.88v1.24M33.5 69.88v1.24M33.5 87.88v1.24M33.5 91.88v1.24M33.5 96.88v1.24M33.5 105.88v1.24M33.5 131.88v1.24M33.5 135.88v1.24M33.5 137.88v1.24M33.5 141.88v1.24M33.5 148.88v1.24M33.5 161.88v1.24M34.5 6.88v1.24M34.5 43.88v1.24M34.5 46.88v1.24M34.5 49.88v1.24M34.5 58.88v1.24M34.5 64.88v1.24M34.5 80.88v1.24M34.5 89.88v1.24M34.5 92.88v1.24M34.5 96.88v1.24M34.5 99.88v1.24M34.5 101.88v1.24M34.5 110.88v1.24M34.5 129.88v1.24M34.5 132.88v1.24M34.5 145.88v1.24M34.5 151.88v1.24M34.5 155.88v1.24M35.5 5.88v1.24M35.5 14.88v1.24M35.5 17.88v1.24M35.5 20.88v2.24M35.5 27.88v1.24M35.5 32.88v2.24M35.5 52.88v1.24M35.5 55.88v1.24M35.5 57.88v2.24M35.5 63.88v1.24M35.5 73.88v1.24M35.5 75.88v1.24M35.5 81.88v1.24M35.5 89.88v1.24M35.5 91.88v1.24M35.5 110.88v2.24M35.5 114.88v1.24M35.5 118.88v2.24M35.5 122.88v2.24M35.5 125.88v2.24M35.5 136.88v1.24M35.5 153.88v1.24M36.5 13.88v1.24M36.5 15.88v1.24M36.5 20.88v1.24M36.5 26.88v2.24M36.5 35.88v2.24M36.5 38.88v2.24M36.5 41.88v3.24M36.5 52.88v1.24M36.5 54.88v1.24M36.5 56.88v1.24M36.5 66.88v1.24M36.5 75.88v1.24M36.5 81.88v1.24M36.5 83.88v1.24M36.5 87.88v1.24M36.5 96.88v1.24M36.5 105.88v2.24M36.5 130.88v1.24M36.5 132.88v1.24M37.5 11.88v1.24M37.5 14.88v1.24M37.5 16.88v1.24M37.5 29.88v1.24M37.5 32.88v1.24M37.5 43.88v1.24M37.5 48.88v1.24M37.5 51.88v1.24M37.5 69.88v1.24M37.5 78.88v1.24M37.5 80.88v1.24M37.5 84.88v1.24M37.5 90.88v1.24M37.5 97.88v1.24M37.5 102.88v1.24M38.5 8.88v2.24M38.5 13.88v1.24M38.5 17.88v2.24M38.5 20.88v1.24M38.5 28.88v1.24M38.5 31.88v1.24M38.5 33.88v1.24M38.5 52.88v1.24M38.5 86.88v1.24M39.5 8.88v1.24M39.5 13.88v1.24M39.5 45.88v1.24"/>
<path stroke="#0015ff" d="M0.5 2.88v1.24M0.5 4.88v1.24M0.5 8.88v1.24M0.5 11.88v1.24M0.5 13.88v1.24M0.5 16.88v3.24M0.5 21.88v1.24M0.5 24.88v1.24M0.5 26.88v1.24M0.5 31.88v1.24M0.5 33.88v1.24M0.5 40.88v1.24M0.5 42.88v1.24M0.5 47.88v4.24M0.5 53.88v1.24M0.5 58.88v3.24M0.5 70.88v2.24M0.5 75.88v1.24M0.5 81.88v1.24M0.5 87.88v1.24M0.5 93.88v1.24M0.5 97.88v1.24M0.5 101.88v1.24M0.5 103.88v2.24M0.5 107.88v1.24M0.5 109.88v2.24M0.5 112.88v1.24M0.5 119.88v1.24M0.5 121.88v1.24M0.5 128.88v1.24M0.5 131.88v2.24M0.5 136.88v2.24M0.5 139.88v1.24M0.5 143.88v1.24M0.5 145.88v3.24M0.5 151.88v4.24M0.5 165.88v1.24M0.5 171.88v1.24M0.5 175.88v2.24M0.5 178.88v1.24M0.5 180.88v1.24M0.5 182.88v1.24M0.5 188.88v1.24M0.5 192.88v1.24M1.5 0.88v1.24M1.5 2.88v1.24M1.5 7.88v1.24M1.5 9.88v1.24M1.5 15.88v1.24M1.5 17.88v4.24M1.5 22.88v1.24M1.5 36.88v1.24M1.5 41.88v1.24M1.5 45.88v1.24M1.5 47.88v1.24M1.5 50.88v1.24M1.5 54.88v1.24M1.5 56.88v1.24M1.5 60.88v3.24M1.5 64.88v1.24M1.5 68.88v1.24M1.5 70.88v1.24M1.5 73.88v1.24M1.5 77.88v2.24M1.5 85.88v1.24M1.5 89.88v2.24M1.5 95.88v1.24M1.5 101.88v1.24M1.5 104.88v2.24M1.5 107.88v1.24M1.5 109.88v1.24M1.5 113.88v1.24M1.5 118.88v1.24M1.5 124.88v1.24M1.5 126.88v1.24M1.5 132.88v1.24M1.5 137.88v1.24M1.5 148.88v1.24M1.5 150.88v2.24M1.5 157.88v1.24M1.5 159.88v1.24M1.5 161.88v1.24M1.5 165.88v1.24M1.5 168.88v1.24M1.5 171.88v1.24M1.5 174.88v1.24M1.5 176.88v3.24M1.5 181.88v2.24M1.5 185.88v2.24M2.5 4.88v1.24M2.5 8.88v2.24M2.5 11.88v1.24M2.5 14.88v1.24M2.5 26.88v1.24M2.5 28.88v1.24M2.5 32.88v3.24M2.5 36.88v3.24M2.5 40.88v2.24M2.5 43.88v1.24M2.5 46.88v1.24M2.5 54.88v2.24M2.5 60.88v2.24M2.5 64.88v1.24M2.5 69.88v1.24M2.5 76.88v1.24M2.5 83.88v1.24M2.5 86.88v2.24M2.5 90.88v2.24M2.5 95.88v1.24M2.5 100.88v1.24M2.5 106.88v1.24M2.5 119.88v1.24M2.5 121.88v1.24M2.5 123.88v1.24M2.5 127.88v1.24M2.5 134.88v4.24M2.5 142.88v1.24M2.5 145.88v1.24M2.5 150.88v1.24M2.5 152.88v1.24M2.5 154.88v1.24M2.5 156.88v1.24M2.5 161.88v1.24M2.5 165.88v2.24M2.5 170.88v1.24M2.5 173.88v1.24M2.5 178.88v1.24M2.5 185.88v3.24M2.5 189.88v1.24M2.5 193.88v1.24M3.5 -0.12v1.24M3.5 1.88v1.24M3.5 4.88v1.24M3.5 10.88v4.24M3.5 16.88v3.24M3.5 22.88v1.24M3.5 27.88v3.24M3.5 33.88v1.24M3.5 35.88v4.24M3.5 40.88v1.24M3.5 46.88v1.24M3.5 50.88v1.24M3.5 52.88v1.24M3.5 55.88v1.24M3.5 57.88v1.24M3.5 59.88v2.24M3.5 62.88v2.24M3.5 77.88v1.24M3.5 85.88v1.24M3.5 87.88v1.24M3.5 92.88v1.24M3.5 96.88v1.24M3.5 101.88v2.24M3.5 105.88v2.24M3.5 112.88v2.24M3.5 115.88v2.24M3.5 118.88v1.24M3.5 124.88v1.24M3.5 127.88v1.24M3.5 129.88v1.24M3.5 131.88v3.24M3.5 138.88v2.24M3.5 141.88v2.24M3.5 154.88v1.24M3.5 159.88v1.24M3.5 161.88v1.24M3.5 163.88v3.24M3.5 171.88v1.24M3.5 179.88v2.24M3.5 183.88v1.24M3.5 188.88v1.24M3.5 190.88v1.24M4.5 5.88v4.24M4.5 12.88v1.24M4.5 14.88v5.24M4.5 21.88v1.24M4.5 23.88v2.24M4.5 30.88v1.24M4.5 32.88v2.24M4.5 37.88v1.24M4.5 40.88v3.24M4.5 44.88v2.24M4.5 51.88v1.24M4.5 54.88v2.24M4.5 64.88v1.24M4.5 70.88v3.24M4.5 75.88v1.24M4.5 77.88v1.24M4.5 80.88v2.24M4.5 86.88v1.24M4.5 93.88v2.24M4.5 96.88v2.24M4.5 99.88v1.24M4.5 106.88v3.24M4.5 114.88v5.24M4.5 121.88v1.24M4.5 124.88v1.24M4.5 130.88v1.24M4.5 135.88v2.24M4.5 140.88v2.24M4.5 146.88v2.24M4.5 151.88v2.24M4.5 165.88v2.24M4.5 170.88v2.24M4.5 178.88v1.24M4.5 180.88v1.24M4.5 182.88v1.24M4.5 186.88v1.24M4.5 190.88v1.24M5.5 -0.12v1.24M5.5 4.88v1.24M5.5 10.88v3.24M5.5 14.88v1.24M5.5 23.88v1.24M5.5 29.88v1.24M5.5 31.88v1.24M5.5 33.88v3.24M5.5 37.88v1.24M5.5 40.88v1.24M5.5 42.88v1.24M5.5 44.88v2.24M5.5 52.88v1.24M5.5 55.88v1.24M5.5 60.88v1.24M5.5 62.88v2.24M5.5 67.88v1.24M5.5 70.88v2.24M5.5 73.88v1.24M5.5 82.88v2.24M5.5 85.88v3.24M5.5 91.88v1.24M5.5 101.88v1.24M5.5 106.88v1.24M5.5 109.88v3.24M5.5 117.88v1.24M5.5 123.88v1.24M5.5 125.88v1.24M5.5 127.88v2.24M5.5 130.88v1.24M5.5 132.88v1.24M5.5 134.88v1.24M5.5 136.88v1.24M5.5 139.88v1.24M5.5 161.88v1.24M5.5 169.88v1.24M5.5 174.88v2.24M5.5 177.88v1.24M5.5 183.88v1.24M5.5 190.88v2.24M5.5 193.88v1.24M6.5 -0.12v2.24M6.5 4.88v2.24M6.5 8.88v1.24M6.5 11.88v1.24M6.5 15.88v1.24M6.5 22.88v1.24M6.5 33.88v2.24M6.5 36.88v2.24M6.5 44.88v1.24M6.5 46.88v1.24M6.5 52.88v1.24M6.5 54.88v3.24M6.5 59.88v1.24M6.5 64.88v1.24M6.5 67.88v1.24M6.5 70.88v1.24M6.5 73.88v1.24M6.5 76.88v1.24M6.5 80.88v2.24M6.5 84.88v1.24M6.5 87.88v1.24M6.5 91.88v1.24M6.5 96.88v1.24M6.5 98.88v2.24M6.5 101.88v1.24M6.5 104.88v1.24M6.5 106.88v1.24M6.5 118.88v2.24M6.5 123.88v4.24M6.5 128.88v1.24M6.5 130.88v1.24M6.5 141.88v2.24M6.5 154.88v1.24M6.5 157.88v1.24M6.5 162.88v1.24M6.5 168.88v1.24M6.5 177.88v2.24M6.5 180.88v1.24M6.5 185.88v2.24M6.5 188.88v1.24M6.5 190.88v1.24M6.5 193.88v1.24M7.5 1.88v1.24M7.5 6.88v1.24M7.5 11.88v1.24M7.5 13.88v1.24M7.5 16.88v1.24M7.5 29.88v2.24M7.5 35.88v2.24M7.5 39.88v4.24M7.5 46.88v3.24M7.5 51.88v1.24M7.5 56.88v2.24M7.5 59.88v1.24M7.5 62.88v1.24M7.5 64.88v1.24M7.5 66.88v1.24M7.5 68.88v1.24M7.5 71.88v1.24M7.5 76.88v2.24M7.5 82.88v1.24M7.5 84.88v1.24M7.5 87.88v1.24M7.5 89.88v1.24M7.5 92.88v1.24M7.5 94.88v1.24M7.5 100.88v2.24M7.5 103.88v1.24M7.5 106.88v1.24M7.5 108.88v1.24M7.5 110.88v2.24M7.5 117.88v2.24M7.5 120.88v1.24M7.5 122.88v1.24M7.5 127.88v1.24M7.5 130.88v5.24M7.5 137.88v1.24M7.5 142.88v4.24M7.5 155.88v1.24M7.5 158.88v1.24M7.5 161.88v1.24M7.5 164.88v1.24M7.5 175.88v1.24M7.5 177.88v1.24M7.5 179.88v1.24M7.5 185.88v1.24M7.5 190.88v2.24M8.5 -0.12v1.24M8.5 1.88v1.24M8.5 8.88v2.24M8.5 13.88v1.24M8.5 15.88v3.24M8.5 29.88v2.24M8.5 38.88v1.24M8.5 47.88v1.24M8.5 50.88v1.24M8.5 56.88v1.24M8.5 58.88v1.24M8.5 60.88v1.24M8.5 62.88v1.24M8.5 67.88v1.24M8.5 70.88v1.24M8.5 74.88v1.24M8.5 79.88v1.24M8.5 81.88v3.24M8.5 92.88v1.24M8.5 99.88v1.24M8.5 102.88v1.24M8.5 104.88v3.24M8.5 108.88v1.24M8.5 110.88v1.24M8.5 112.88v2.24M8.5 117.88v2.24M8.5 121.88v1.24M8.5 124.88v1.24M8.5 126.88v1.24M8.5 131.88v1.24M8.5 139.88v1.24M8.5 141.88v1.24M8.5 147.88v1.24M8.5 152.88v1.24M8.5 154.88v2.24M8.5 160.88v1.24M8.5 163.88v1.24M8.5 166.88v2.24M8.5 173.88v1.24M8.5 175.88v1.24M8.5 178.88v2.24M8.5 183.88v2.24M8.5 187.88v1.24M8.5 191.88v1.24M8.5 195.88v1.24M9.5 12.88v3.24M9.5 20.88v1.24M9.5 23.88v1.24M9.5 34.88v1.24M9.5 39.88v1.24M9.5 41.88v1.24M9.5 49.88v2.24M9.5 58.88v1.24M9.5 63.88v1.24M9.5 69.88v1.24M9.5 72.88v1.24M9.5 77.88v1.24M9.5 87.88v3.24M9.5 93.88v1.24M9.5 97.88v2.24M9.5 104.88v1.24M9.5 108.88v3.24M9.5 112.88v2.24M9.5 117.88v1.24M9.5 119.88v1.24M9.5 123.88v4.24M9.5 128.88v1.24M9.5 130.88v1.24M9.5 133.88v1.24M9.5 140.88v1.24M9.5 146.88v1.24M9.5 149.88v1.24M9.5 154.88v1.24M9.5 164.88v1.24M9.5 170.88v1.24M9.5 172.88v2.24M9.5 181.88v1.24M9.5 188.88v2.24M9.5 193.88v1.24M9.5 195.88v1.24M10.5 2.88v1.24M10.5 17.88v2.24M10.5 20.88v1.24M10.5 36.88v1.24M10.5 41.88v1.24M10.5 47.88v1.24M10.5 58.88v2.24M10.5 67.88v1.24M10.5 69.88v1.24M10.5 76.88v1.24M10.5 81.88v1.24M10.5 84.88v2.24M10.5 88.88v1.24M10.5 91.88v1.24M10.5 93.88v1.24M10.5 97.88v1.24M10.5 105.88v1.24M10.5 108.88v1.24M10.5 114.88v1.24M10.5 126.88v1.24M10.5 128.88v1.24M10.5 134.88v2.24M10.5 140.88v4.24M10.5 147.88v2.24M10.5 150.88v1.24M10.5 154.88v1.24M10.5 157.88v1.24M10.5 160.88v2.24M10.5 163.88v5.24M10.5 169.88v2.24M10.5 173.88v1.24M10.5 177.88v1.24M10.5 183.88v2.24M10.5 186.88v2.24M10.5 189.88v1.24M10.5 191.88v1.24M10.5 193.88v2.24M11.5 6.88v1.24M11.5 18.88v1.24M11.5 46.88v1.24M11.5 53.88v1.24M11.5 56.88v1.24M11.5 58.88v2.24M11.5 61.88v1.24M11.5 64.88v1.24M11.5 71.88v1.24M11.5 73.88v1.24M11.5 75.88v1.24M11.5 78.88v1.24M11.5 80.88v1.24M11.5 82.88v1.24M11.5 84.88v1.24M11.5 95.88v1.24M11.5 97.88v3.24M11.5 101.88v2.24M11.5 104.88v1.24M11.5 108.88v1.24M11.5 110.88v1.24M11.5 113.88v1.24M11.5 120.88v1.24M11.5 130.88v2.24M11.5 133.88v1.24M11.5 137.88v3.24M11.5 142.88v2.24M11.5 145.88v1.24M11.5 150.88v1.24M11.5 155.88v1.24M11.5 160.88v2.24M11.5 165.88v1.24M11.5 168.88v1.24M11.5 173.88v1.24M11.5 176.88v1.24M11.5 183.88v1.24M11.5 185.88v1.24M11.5 189.88v1.24M11.5 192.88v1.24M12.5 1.88v1.24M12.5 11.88v1.24M12.5 18.88v1.24M12.5 29.88v1.24M12.5 54.88v1.24M12.5 64.88v2.24M12.5 71.88v1.24M12.5 73.88v1.24M12.5 88.88v3.24M12.5 93.88v1.24M12.5 98.88v1.24M12.5 109.88v1.24M12.5 123.88v2.24M12.5 126.88v1.24M12.5 138.88v1.24M12.5 140.88v1.24M12.5 146.88v2.24M12.5 151.88v6.24M12.5 158.88v1.24M12.5 160.88v1.24M12.5 163.88v2.24M12.5 166.88v1.24M12.5 169.88v1.24M12.5 174.88v2.24M12.5 178.88v1.24M12.5 180.88v4.24M12.5 185.88v1.24M12.5 188.88v1.24M12.5 190.88v1.24M12.5 193.88v1.24M13.5 7.88v1.24M13.5 12.88v1.24M13.5 22.88v1.24M13.5 24.88v1.24M13.5 35.88v1.24M13.5 60.88v1.24M13.5 64.88v1.24M13.5 73.88v2.24M13.5 86.88v1.24M13.5 94.88v1.24M13.5 99.88v1.24M13.5 101.88v1.24M13.5 104.88v2.24M13.5 112.88v1.24M13.5 120.88v1.24M13.5 125.88v2.24M13.5 130.88v3.24M13.5 134.88v2.24M13.5 137.88v1.24M13.5 139.88v2.24M13.5 145.88v2.24M13.5 149.88v7.24M13.5 157.88v1.24M13.5 159.88v1.24M13.5 166.88v2.24M13.5 171.88v1.24M13.5 176.88v1.24M13.5 178.88v1.24M13.5 180.88v2.24M13.5 183.88v1.24M13.5 186.88v1.24M13.5 188.88v1.24M13.5 191.88v1.24M13.5 194.88v1.24M14.5 20.88v1.24M14.5 51.88v1.24M14.5 56.88v1.24M14.5 66.88v1.24M14.5 70.88v2.24M14.5 83.88v1.24M14.5 101.88v1.24M14.5 103.88v1.24M14.5 113.88v1.24M14.5 117.88v2.24M14.5 120.88v1.24M14.5 123.88v1.24M14.5 128.88v1.24M14.5 131.88v1.24M14.5 142.88v1.24M14.5 151.88v2.24M14.5 156.88v1.24M14.5 159.88v1.24M14.5 162.88v1.24M14.5 165.88v1.24M14.5 168.88v1.24M14.5 174.88v1.24M14.5 177.88v2.24M14.5 180.88v1.24M14.5 182.88v2.24M14.5 187.88v1.24M14.5 189.88v1.24M14.5 194.88v2.24M15.5 19.88v1.24M15.5 29.88v1.24M15.5 65.88v1.24M15.5 75.88v1.24M15.5 88.88v2.24M15.5 94.88v2.24M15.5 100.88v1.24M15.5 103.88v1.24M15.5 105.88v1.24M15.5 115.88v2.24M15.5 119.88v1.24M15.5 126.88v3.24M15.5 132.88v3.24M15.5 137.88v1.24M15.5 140.88v2.24M15.5 152.88v1.24M15.5 158.88v1.24M15.5 161.88v1.24M15.5 163.88v2.24M15.5 166.88v1.24M15.5 176.88v1.24M15.5 179.88v4.24M15.5 186.88v1.24M15.5 191.88v2.24M16.5 89.88v1.24M16.5 93.88v1.24M16.5 100.88v1.24M16.5 120.88v1.24M16.5 123.88v1.24M16.5 127.88v1.24M16.5 131.88v2.24M16.5 136.88v1.24M16.5 146.88v2.24M16.5 149.88v3.24M16.5 153.88v1.24M16.5 155.88v2.24M16.5 158.88v2.24M16.5 163.88v1.24M16.5 168.88v3.24M16.5 173.88v2.24M16.5 176.88v1.24M16.5 179.88v2.24M16.5 187.88v1.24M16.5 189.88v1.24M16.5 191.88v1.24M17.5 73.88v1.24M17.5 90.88v1.24M17.5 99.88v1.24M17.5 117.88v1.24M17.5 121.88v1.24M17.5 123.88v1.24M17.5 127.88v1.24M17.5 130.88v1.24M17.5 135.88v1.24M17.5 147.88v3.24M17.5 154.88v1.24M17.5 157.88v1.24M17.5 165.88v1.24M17.5 169.88v1.24M17.5 175.88v2.24M17.5 183.88v2.24M17.5 186.88v3.24M17.5 190.88v1.24M18.5 93.88v1.24M18.5 108.88v1.24M18.5 112.88v1.24M18.5 121.88v2.24M18.5 134.88v1.24M18.5 142.88v2.24M18.5 146.88v1.24M18.5 152.88v1.24M18.5 155.88v1.24M18.5 161.88v2.24M18.5 166.88v2.24M18.5 171.88v1.24M18.5 175.88v1.24M18.5 177.88v1.24M18.5 179.88v1.24M18.5 184.88v1.24M18.5 186.88v1.24M18.5 189.88v2.24M18.5 194.88v1.24M19.5 119.88v1.24M19.5 122.88v1.24M19.5 136.88v1.24M19.5 157.88v1.24M19.5 160.88v4.24M19.5 166.88v1.24M19.5 170.88v1.24M19.5 175.88v2.24M19.5 181.88v1.24M19.5 183.88v3.24M19.5 187.88v2.24M19.5 190.88v1.24M19.5 192.88v1.24M20.5 130.88v1.24M20.5 144.88v1.24M20.5 149.88v1.24M20.5 152.88v1.24M20.5 160.88v2.24M20.5 165.88v2.24M20.5 169.88v1.24M20.5 173.88v2.24M20.5 178.88v2.24M20.5 183.88v2.24M20.5 190.88v6.24M21.5 137.88v1.24M21.5 139.88v1.24M21.5 146.88v1.24M21.5 161.88v1.24M21.5 166.88v1.24M21.5 175.88v1.24M21.5 177.88v1.24M21.5 179.88v1.24M21.5 182.88v1.24M21.5 184.88v1.24M21.5 188.88v2.24M21.5 194.88v1.24M22.5 140.88v1.24M22.5 145.88v1.24M22.5 152.88v1.24M22.5 161.88v1.24M22.5 171.88v1.24M22.5 173.88v1.24M22.5 175.88v1.24M22.5 179.88v1.24M22.5 181.88v2.24M22.5 187.88v2.24M22.5 192.88v1.24M22.5 194.88v2.24M23.5 111.88v1.24M23.5 131.88v1.24M23.5 149.88v1.24M23.5 158.88v2.24M23.5 161.88v1.24M23.5 163.88v1.24M23.5 177.88v1.24M23.5 181.88v1.24M23.5 184.88v2.24M23.5 188.88v1.24M23.5 190.88v1.24M24.5 147.88v1.24M24.5 195.88v1.24M25.5 114.88v1.24M25.5 120.88v1.24M25.5 135.88v1.24M25.5 138.88v1.24M25.5 167.88v1.24M25.5 173.88v1.24M25.5 175.88v1.24M25.5 178.88v1.24M25.5 184.88v1.24M25.5 187.88v1.24M25.5 189.88v1.24M25.5 195.88v1.24M26.5 161.88v1.24M26.5 168.88v1.24M26.5 173.88v3.24M26.5 178.88v3.24M26.5 184.88v2.24M26.5 188.88v1.24M26.5 191.88v4.24M27.5 158.88v1.24M27.5 164.88v1.24M27.5 173.88v1.24M27.5 175.88v1.24M27.5 177.88v1.24M27.5 184.88v3.24M27.5 188.88v1.24M27.5 192.88v2.24M28.5 138.88v1.24M28.5 165.88v1.24M28.5 167.88v1.24M28.5 174.88v1.24M28.5 186.88v1.24M28.5 190.88v1.24M28.5 192.88v1.24M28.5 194.88v2.24M29.5 124.88v1.24M29.5 149.88v1.24M29.5 176.88v2.24M29.5 183.88v3.24M29.5 187.88v1.24M29.5 191.88v2.24M29.5 194.88v1.24M30.5 157.88v2.24M30.5 163.88v1.24M30.5 172.88v1.24M30.5 176.88v1.24M30.5 178.88v2.24M30.5 183.88v3.24M30.5 188.88v1.24M30.5 191.88v2.24M30.5 195.88v1.24M31.5 115.88v1.24M31.5 126.88v1.24M31.5 128.88v1.24M31.5 142.88v1.24M31.5 146.88v1.24M31.5 155.88v1.24M31.5 162.88v1.24M31.5 164.88v1.24M31.5 167.88v1.24M31.5 169.88v2.24M31.5 172.88v1.24M31.5 174.88v2.24M31.5 177.88v1.24M31.5 185.88v2.24M31.5 191.88v1.24M31.5 194.88v2.24M32.5 74.88v1.24M32.5 101.88v1.24M32.5 103.88v1.24M32.5 119.88v1.24M32.5 126.88v1.24M32.5 144.88v3.24M32.5 156.88v2.24M32.5 169.88v1.24M32.5 173.88v1.24M32.5 177.88v1.24M32.5 179.88v1.24M32.5 183.88v2.24M32.5 187.88v1.24M32.5 190.88v1.24M33.5 60.88v1.24M33.5 103.88v2.24M33.5 106.88v1.24M33.5 119.88v1.24M33.5 124.88v1.24M33.5 128.88v1.24M33.5 139.88v1.24M33.5 147.88v1.24M33.5 149.88v1.24M33.5 153.88v1.24M33.5 156.88v1.24M33.5 158.88v2.24M33.5 165.88v1.24M33.5 168.88v1.24M33.5 170.88v4.24M33.5 176.88v2.24M33.5 180.88v1.24M33.5 192.88v2.24M34.5 44.88v1.24M34.5 67.88v1.24M34.5 79.88v1.24M34.5 91.88v1.24M34.5 95.88v1.24M34.5 104.88v1.24M34.5 111.88v1.24M34.5 114.88v2.24M34.5 122.88v1.24M34.5 124.88v1.24M34.5 130.88v1.24M34.5 135.88v1.24M34.5 138.88v2.24M34.5 141.88v1.24M34.5 143.88v1.24M34.5 153.88v2.24M34.5 160.88v1.24M34.5 162.88v1.24M34.5 164.88v1.24M34.5 170.88v1.24M34.5 174.88v1.24M34.5 180.88v2.24M34.5 185.88v2.24M34.5 189.88v2.24M34.5 192.88v1.24M35.5 9.88v1.24M35.5 26.88v1.24M35.5 35.88v1.24M35.5 42.88v2.24M35.5 53.88v1.24M35.5 85.88v1.24M35.5 104.88v2.24M35.5 109.88v1.24M35.5 113.88v1.24M35.5 115.88v1.24M35.5 127.88v1.24M35.5 134.88v1.24M35.5 137.88v1.24M35.5 140.88v1.24M35.5 146.88v1.24M35.5 148.88v1.24M35.5 150.88v1.24M35.5 154.88v1.24M35.5 157.88v2.24M35.5 165.88v1.24M35.5 167.88v1.24M35.5 180.88v1.24M35.5 186.88v1.24M35.5 191.88v1.24M35.5 193.88v1.24M36.5 18.88v1.24M36.5 53.88v1.24M36.5 57.88v1.24M36.5 67.88v1.24M36.5 77.88v1.24M36.5 79.88v1.24M36.5 82.88v1.24M36.5 84.88v1.24M36.5 86.88v1.24M36.5 88.88v1.24M36.5 92.88v2.24M36.5 95.88v1.24M36.5 97.88v1.24M36.5 108.88v2.24M36.5 112.88v1.24M36.5 115.88v1.24M36.5 117.88v1.24M36.5 120.88v1.24M36.5 122.88v2.24M36.5 125.88v1.24M36.5 128.88v2.24M36.5 144.88v3.24M36.5 149.88v1.24M36.5 151.88v2.24M36.5 156.88v1.24M36.5 161.88v1.24M36.5 163.88v1.24M36.5 172.88v2.24M36.5 187.88v1.24M36.5 190.88v2.24M37.5 17.88v1.24M37.5 20.88v1.24M37.5 25.88v1.24M37.5 30.88v1.24M37.5 37.88v1.24M37.5 40.88v1.24M37.5 44.88v1.24M37.5 46.88v1.24M37.5 50.88v1.24M37.5 55.88v1.24M37.5 65.88v2.24M37.5 73.88v1.24M37.5 77.88v1.24M37.5 79.88v1.24M37.5 81.88v3.24M37.5 85.88v1.24M37.5 87.88v2.24M37.5 96.88v1.24M37.5 99.88v1.24M37.5 103.88v3.24M37.5 111.88v5.24M37.5 119.88v1.24M37.5 121.88v1.24M37.5 125.88v1.24M37.5 132.88v1.24M37.5 138.88v4.24M37.5 143.88v2.24M37.5 146.88v3.24M37.5 151.88v1.24M37.5 160.88v1.24M37.5 162.88v1.24M37.5 164.88v1.24M37.5 185.88v1.24M37.5 190.88v1.24M38.5 16.88v1.24M38.5 22.88v1.24M38.5 24.88v1.24M38.5 26.88v1.24M38.5 30.88v1.24M38.5 36.88v2.24M38.5 39.88v1.24M38.5 41.88v3.24M38.5 45.88v1.24M38.5 47.88v1.24M38.5 51.88v1.24M38.5 53.88v3.24M38.5 57.88v2.24M38.5 61.88v1.24M38.5 63.88v5.24M38.5 71.88v1.24M38.5 73.88v1.24M38.5 76.88v1.24M38.5 90.88v1.24M38.5 92.88v2.24M38.5 95.88v1.24M38.5 97.88v1.24M38.5 100.88v2.24M38.5 105.88v1.24M38.5 112.88v2.24M38.5 115.88v1.24M38.5 117.88v4.24M38.5 126.88v1.24M38.5 133.88v2.24M38.5 150.88v1.24M38.5 152.88v2.24M38.5 158.88v1.24M38.5 187.88v1.24M38.5 189.88v1.24M39.5 9.88v2.24M39.5 16.88v1.24M39.5 27.88v3.24M39.5 35.88v3.24M39.5 39.88v2.24M39.5 47.88v3.24M39.5 52.88v1.24M39.5 57.88v3.24M39.5 63.88v1.24M39.5 69.88v2.24M39.5 79.88v1.24M39.5 83.88v1.24M39.5 88.88v1.24M39.5 107.88v1.24M39.5 109.88v1.24M39.5 112.88v1.24M39.5 114.88v1.24M39.5 118.88v1.24M39.5 122.88v1.24M39.5 124.88v1.24M39.5 140.88v1.24M39.5 144.88v1.24M39.5 148.88v1.24M39.5 151.88v1.24M39.5 154.88v1.24M39.5 161.88v2.24M39.5 166.88v1.24M39.5 170.88v1.24M39.5 177.88v1.24M40.5 13.88v1.24M40.5 25.88v2.24M40.5 28.88v1.24M40.5 30.88v1.24M40.5 40.88v1.24M40.5 42.88v1.24M40.5 48.88v1.24M40.5 56.88v2.24M40.5 60.88v1.24M40.5 62.88v2.24M40.5 67.88v1.24M40.5 73.88v1.24M40.5 76.88v1.24M40.5 88.88v1.24M40.5 93.88v1.24M40.5 95.88v1.24M40.5 104.88v1.24M40.5 111.88v1.24M40.5 116.88v1.24M40.5 124.88v1.24M40.5 130.88v1.24M40.5 139.88v1.24M40.5 153.88v1.24M40.5 159.88v1.24M41.5 13.88v1.24M41.5 15.88v1.24M41.5 18.88v1.24M41.5 29.88v1.24M41.5 31.88v3.24M41.5 46.88v2.24M41.5 51.88v1.24M41.5 60.88v1.24M41.5 73.88v1.24M41.5 77.88v1.24M41.5 91.88v1.24M41.5 99.88v1.24M41.5 124.88v1.24M41.5 126.88v2.24M41.5 147.88v1.24M41.5 153.88v1.24M42.5 21.88v1.24M42.5 48.88v1.24M42.5 60.88v1.24M42.5 82.88v2.24M42.5 85.88v1.24M42.5 90.88v1.24M42.5 146.88v1.24M42.5 189.88v1.24M43.5 40.88v1.24M43.5 188.88v1.24M44.5 48.88v1.24M44.5 78.88v1.24M45.5 183.88v1.24M47.5 23.88v1.24"/>
<path stroke="#002aff" d="M0.5 3.88v1.24M0.5 5.88v1.24M0.5 7.88v1.24M0.5 20.88v1.24M0.5 22.88v2.24M0.5 32.88v1.24M0.5 34.88v1.24M0.5 43.88v1.24M0.5 55.88v2.24M0.5 64.88v1.24M0.5 77.88v1.24M0.5 82.88v2.24M0.5 85.88v2.24M0.5 94.88v1.24M0.5 96.88v1.24M0.5 98.88v2.24M0.5 102.88v1.24M0.5 105.88v1.24M0.5 116.88v1.24M0.5 120.88v1.24M0.5 126.88v2.24M0.5 129.88v2.24M0.5 144.88v1.24M0.5 148.88v2.24M0.5 157.88v1.24M0.5 164.88v1.24M0.5 166.88v1.24M0.5 168.88v2.24M0.5 174.88v1.24M0.5 177.88v1.24M0.5 179.88v1.24M0.5 184.88v2.24M0.5 187.88v1.24M0.5 189.88v1.24M0.5 191.88v1.24M1.5 -0.12v1.24M1.5 5.88v1.24M1.5 8.88v1.24M1.5 14.88v1.24M1.5 23.88v1.24M1.5 27.88v1.24M1.5 32.88v1.24M1.5 34.88v2.24M1.5 37.88v2.24M1.5 44.88v1.24M1.5 46.88v1.24M1.5 49.88v1.24M1.5 55.88v1.24M1.5 59.88v1.24M1.5 67.88v1.24M1.5 71.88v1.24M1.5 86.88v2.24M1.5 91.88v1.24M1.5 96.88v1.24M1.5 99.88v1.24M1.5 114.88v1.24M1.5 119.88v3.24M1.5 127.88v1.24M1.5 129.88v1.24M1.5 134.88v2.24M1.5 140.88v3.24M1.5 144.88v1.24M1.5 146.88v1.24M1.5 149.88v1.24M1.5 152.88v2.24M1.5 164.88v1.24M1.5 166.88v2.24M1.5 169.88v1.24M1.5 172.88v2.24M1.5 188.88v2.24M2.5 -0.12v1.24M2.5 2.88v2.24M2.5 5.88v1.24M2.5 7.88v1.24M2.5 17.88v2.24M2.5 23.88v1.24M2.5 31.88v1.24M2.5 42.88v1.24M2.5 49.88v2.24M2.5 52.88v1.24M2.5 62.88v2.24M2.5 65.88v1.24M2.5 68.88v1.24M2.5 71.88v1.24M2.5 73.88v1.24M2.5 79.88v1.24M2.5 82.88v1.24M2.5 88.88v2.24M2.5 94.88v1.24M2.5 96.88v1.24M2.5 99.88v1.24M2.5 104.88v2.24M2.5 107.88v1.24M2.5 112.88v2.24M2.5 116.88v1.24M2.5 118.88v1.24M2.5 120.88v1.24M2.5 122.88v1.24M2.5 129.88v2.24M2.5 133.88v1.24M2.5 143.88v2.24M2.5 147.88v1.24M2.5 151.88v1.24M2.5 167.88v2.24M2.5 171.88v2.24M2.5 174.88v1.24M2.5 182.88v1.24M2.5 184.88v1.24M2.5 188.88v1.24M2.5 190.88v2.24M3.5 2.88v2.24M3.5 5.88v1.24M3.5 7.88v2.24M3.5 25.88v1.24M3.5 30.88v1.24M3.5 32.88v1.24M3.5 41.88v3.24M3.5 47.88v1.24M3.5 49.88v1.24M3.5 51.88v1.24M3.5 58.88v1.24M3.5 66.88v4.24M3.5 73.88v2.24M3.5 78.88v2.24M3.5 81.88v1.24M3.5 83.88v1.24M3.5 86.88v1.24M3.5 88.88v1.24M3.5 94.88v1.24M3.5 97.88v2.24M3.5 107.88v1.24M3.5 109.88v1.24M3.5 114.88v1.24M3.5 120.88v2.24M3.5 123.88v1.24M3.5 125.88v1.24M3.5 137.88v1.24M3.5 143.88v1.24M3.5 146.88v1.24M3.5 152.88v1.24M3.5 160.88v1.24M3.5 166.88v1.24M3.5 168.88v1.24M3.5 176.88v1.24M3.5 181.88v1.24M3.5 186.88v1.24M4.5 2.88v1.24M4.5 4.88v1.24M4.5 10.88v1.24M4.5 22.88v1.24M4.5 27.88v3.24M4.5 31.88v1.24M4.5 49.88v2.24M4.5 52.88v1.24M4.5 60.88v3.24M4.5 65.88v2.24M4.5 69.88v1.24M4.5 76.88v1.24M4.5 78.88v2.24M4.5 82.88v1.24M4.5 90.88v1.24M4.5 98.88v1.24M4.5 100.88v2.24M4.5 103.88v1.24M4.5 105.88v1.24M4.5 110.88v1.24M4.5 113.88v1.24M4.5 125.88v2.24M4.5 128.88v1.24M4.5 132.88v3.24M4.5 137.88v2.24M4.5 143.88v1.24M4.5 145.88v1.24M4.5 148.88v1.24M4.5 150.88v1.24M4.5 153.88v1.24M4.5 155.88v1.24M4.5 161.88v1.24M4.5 167.88v1.24M4.5 169.88v1.24M4.5 172.88v1.24M4.5 185.88v1.24M5.5 0.88v1.24M5.5 2.88v2.24M5.5 5.88v3.24M5.5 9.88v1.24M5.5 13.88v1.24M5.5 15.88v1.24M5.5 18.88v1.24M5.5 22.88v1.24M5.5 24.88v3.24M5.5 30.88v1.24M5.5 36.88v1.24M5.5 41.88v1.24M5.5 46.88v3.24M5.5 50.88v1.24M5.5 54.88v1.24M5.5 61.88v1.24M5.5 65.88v1.24M5.5 68.88v1.24M5.5 74.88v1.24M5.5 77.88v1.24M5.5 80.88v1.24M5.5 84.88v1.24M5.5 94.88v1.24M5.5 102.88v1.24M5.5 105.88v1.24M5.5 113.88v1.24M5.5 115.88v1.24M5.5 118.88v1.24M5.5 120.88v1.24M5.5 133.88v1.24M5.5 135.88v1.24M5.5 138.88v1.24M5.5 141.88v1.24M5.5 145.88v4.24M5.5 150.88v1.24M5.5 154.88v1.24M5.5 157.88v3.24M5.5 166.88v1.24M5.5 170.88v1.24M5.5 176.88v1.24M5.5 188.88v1.24M6.5 3.88v1.24M6.5 7.88v1.24M6.5 10.88v1.24M6.5 13.88v1.24M6.5 16.88v1.24M6.5 18.88v1.24M6.5 25.88v3.24M6.5 31.88v1.24M6.5 40.88v1.24M6.5 43.88v1.24M6.5 57.88v1.24M6.5 61.88v1.24M6.5 63.88v1.24M6.5 65.88v1.24M6.5 68.88v1.24M6.5 71.88v1.24M6.5 74.88v1.24M6.5 79.88v1.24M6.5 83.88v1.24M6.5 85.88v1.24M6.5 88.88v2.24M6.5 100.88v1.24M6.5 105.88v1.24M6.5 112.88v2.24M6.5 116.88v1.24M6.5 129.88v1.24M6.5 132.88v1.24M6.5 134.88v1.24M6.5 137.88v1.24M6.5 139.88v2.24M6.5 143.88v1.24M6.5 145.88v1.24M6.5 147.88v2.24M6.5 152.88v2.24M6.5 159.88v1.24M6.5 164.88v1.24M6.5 170.88v1.24M6.5 172.88v1.24M6.5 179.88v1.24M6.5 181.88v3.24M6.5 192.88v1.24M7.5 0.88v1.24M7.5 9.88v2.24M7.5 12.88v1.24M7.5 14.88v1.24M7.5 17.88v2.24M7.5 21.88v3.24M7.5 26.88v3.24M7.5 31.88v2.24M7.5 44.88v2.24M7.5 50.88v1.24M7.5 52.88v1.24M7.5 67.88v1.24M7.5 73.88v3.24M7.5 80.88v2.24M7.5 85.88v2.24M7.5 90.88v2.24M7.5 95.88v1.24M7.5 99.88v1.24M7.5 107.88v1.24M7.5 115.88v1.24M7.5 119.88v1.24M7.5 121.88v1.24M7.5 123.88v1.24M7.5 125.88v1.24M7.5 135.88v2.24M7.5 140.88v1.24M7.5 146.88v1.24M7.5 149.88v1.24M7.5 154.88v1.24M7.5 156.88v1.24M7.5 160.88v1.24M7.5 163.88v1.24M7.5 167.88v1.24M7.5 171.88v2.24M7.5 178.88v1.24M7.5 181.88v1.24M7.5 183.88v2.24M7.5 192.88v1.24M7.5 194.88v1.24M8.5 6.88v1.24M8.5 11.88v2.24M8.5 14.88v1.24M8.5 18.88v2.24M8.5 22.88v4.24M8.5 31.88v3.24M8.5 37.88v1.24M8.5 39.88v2.24M8.5 42.88v1.24M8.5 59.88v1.24M8.5 61.88v1.24M8.5 66.88v1.24M8.5 69.88v1.24M8.5 75.88v1.24M8.5 77.88v2.24M8.5 85.88v1.24M8.5 93.88v2.24M8.5 96.88v2.24M8.5 100.88v2.24M8.5 103.88v1.24M8.5 114.88v2.24M8.5 120.88v1.24M8.5 128.88v2.24M8.5 132.88v2.24M8.5 137.88v1.24M8.5 140.88v1.24M8.5 144.88v1.24M8.5 146.88v1.24M8.5 148.88v1.24M8.5 150.88v2.24M8.5 153.88v1.24M8.5 156.88v1.24M8.5 158.88v2.24M8.5 161.88v2.24M8.5 164.88v2.24M8.5 168.88v1.24M8.5 171.88v1.24M8.5 174.88v1.24M8.5 181.88v1.24M8.5 185.88v2.24M8.5 189.88v1.24M8.5 193.88v1.24M9.5 -0.12v1.24M9.5 11.88v1.24M9.5 15.88v1.24M9.5 22.88v1.24M9.5 24.88v2.24M9.5 27.88v1.24M9.5 30.88v4.24M9.5 38.88v1.24M9.5 42.88v1.24M9.5 46.88v1.24M9.5 53.88v1.24M9.5 56.88v1.24M9.5 60.88v1.24M9.5 70.88v1.24M9.5 73.88v2.24M9.5 76.88v1.24M9.5 78.88v1.24M9.5 82.88v2.24M9.5 86.88v1.24M9.5 95.88v1.24M9.5 99.88v1.24M9.5 101.88v1.24M9.5 105.88v1.24M9.5 107.88v1.24M9.5 111.88v1.24M9.5 120.88v2.24M9.5 132.88v1.24M9.5 137.88v1.24M9.5 143.88v1.24M9.5 147.88v2.24M9.5 151.88v1.24M9.5 153.88v1.24M9.5 159.88v2.24M9.5 163.88v1.24M9.5 165.88v1.24M9.5 169.88v1.24M9.5 174.88v1.24M9.5 176.88v2.24M9.5 187.88v1.24M9.5 190.88v3.24M10.5 3.88v1.24M10.5 5.88v2.24M10.5 8.88v1.24M10.5 11.88v1.24M10.5 14.88v1.24M10.5 19.88v1.24M10.5 24.88v4.24M10.5 30.88v1.24M10.5 32.88v1.24M10.5 37.88v1.24M10.5 44.88v1.24M10.5 50.88v1.24M10.5 53.88v3.24M10.5 60.88v1.24M10.5 62.88v1.24M10.5 65.88v1.24M10.5 75.88v1.24M10.5 77.88v2.24M10.5 83.88v1.24M10.5 87.88v1.24M10.5 92.88v1.24M10.5 111.88v2.24M10.5 119.88v1.24M10.5 121.88v2.24M10.5 130.88v1.24M10.5 132.88v1.24M10.5 138.88v2.24M10.5 145.88v1.24M10.5 153.88v1.24M10.5 155.88v1.24M10.5 168.88v1.24M10.5 172.88v1.24M10.5 175.88v1.24M10.5 179.88v1.24M10.5 182.88v1.24M10.5 185.88v1.24M11.5 3.88v1.24M11.5 9.88v1.24M11.5 20.88v1.24M11.5 28.88v2.24M11.5 31.88v1.24M11.5 34.88v2.24M11.5 37.88v1.24M11.5 39.88v1.24M11.5 41.88v1.24M11.5 45.88v1.24M11.5 48.88v1.24M11.5 51.88v1.24M11.5 54.88v1.24M11.5 57.88v1.24M11.5 60.88v1.24M11.5 74.88v1.24M11.5 81.88v1.24M11.5 86.88v1.24M11.5 88.88v1.24M11.5 94.88v1.24M11.5 96.88v1.24M11.5 100.88v1.24M11.5 103.88v1.24M11.5 105.88v1.24M11.5 107.88v1.24M11.5 111.88v1.24M11.5 114.88v1.24M11.5 121.88v1.24M11.5 125.88v2.24M11.5 129.88v1.24M11.5 132.88v1.24M11.5 134.88v1.24M11.5 140.88v1.24M11.5 147.88v2.24M11.5 158.88v1.24M11.5 163.88v2.24M11.5 166.88v1.24M11.5 174.88v1.24M11.5 177.88v1.24M11.5 182.88v1.24M11.5 187.88v2.24M11.5 191.88v1.24M11.5 193.88v1.24M12.5 4.88v2.24M12.5 8.88v1.24M12.5 10.88v1.24M12.5 15.88v1.24M12.5 20.88v1.24M12.5 22.88v1.24M12.5 26.88v1.24M12.5 30.88v2.24M12.5 34.88v1.24M12.5 44.88v1.24M12.5 48.88v1.24M12.5 50.88v1.24M12.5 66.88v2.24M12.5 74.88v2.24M12.5 77.88v1.24M12.5 80.88v1.24M12.5 84.88v1.24M12.5 97.88v1.24M12.5 102.88v2.24M12.5 105.88v2.24M12.5 110.88v2.24M12.5 113.88v1.24M12.5 118.88v1.24M12.5 129.88v1.24M12.5 135.88v1.24M12.5 139.88v1.24M12.5 141.88v1.24M12.5 144.88v1.24M12.5 148.88v2.24M12.5 161.88v1.24M12.5 165.88v1.24M12.5 168.88v1.24M12.5 173.88v1.24M12.5 186.88v1.24M13.5 5.88v1.24M13.5 41.88v1.24M13.5 43.88v4.24M13.5 56.88v3.24M13.5 66.88v2.24M13.5 76.88v1.24M13.5 89.88v2.24M13.5 93.88v1.24M13.5 98.88v1.24M13.5 100.88v1.24M13.5 103.88v1.24M13.5 106.88v3.24M13.5 111.88v1.24M13.5 114.88v3.24M13.5 118.88v1.24M13.5 121.88v1.24M13.5 127.88v1.24M13.5 136.88v1.24M13.5 148.88v1.24M13.5 156.88v1.24M13.5 165.88v1.24M13.5 170.88v1.24M13.5 172.88v3.24M13.5 179.88v1.24M13.5 192.88v1.24M14.5 29.88v1.24M14.5 45.88v2.24M14.5 57.88v1.24M14.5 62.88v1.24M14.5 64.88v2.24M14.5 78.88v2.24M14.5 92.88v1.24M14.5 95.88v4.24M14.5 100.88v1.24M14.5 102.88v1.24M14.5 108.88v1.24M14.5 110.88v1.24M14.5 112.88v1.24M14.5 114.88v2.24M14.5 119.88v1.24M14.5 125.88v2.24M14.5 130.88v1.24M14.5 136.88v2.24M14.5 139.88v1.24M14.5 143.88v1.24M14.5 145.88v2.24M14.5 149.88v2.24M14.5 153.88v1.24M14.5 161.88v1.24M14.5 163.88v1.24M14.5 167.88v1.24M14.5 169.88v4.24M14.5 179.88v1.24M14.5 192.88v2.24M15.5 35.88v2.24M15.5 52.88v1.24M15.5 73.88v1.24M15.5 77.88v1.24M15.5 82.88v1.24M15.5 84.88v1.24M15.5 90.88v1.24M15.5 92.88v1.24M15.5 98.88v2.24M15.5 101.88v1.24M15.5 106.88v1.24M15.5 111.88v1.24M15.5 120.88v4.24M15.5 131.88v1.24M15.5 135.88v1.24M15.5 138.88v1.24M15.5 142.88v1.24M15.5 147.88v2.24M15.5 154.88v1.24M15.5 159.88v1.24M15.5 169.88v3.24M15.5 173.88v1.24M15.5 177.88v1.24M15.5 189.88v1.24M16.5 18.88v1.24M16.5 37.88v1.24M16.5 46.88v1.24M16.5 50.88v1.24M16.5 57.88v1.24M16.5 65.88v1.24M16.5 85.88v1.24M16.5 92.88v1.24M16.5 97.88v1.24M16.5 111.88v1.24M16.5 115.88v1.24M16.5 128.88v2.24M16.5 134.88v1.24M16.5 137.88v1.24M16.5 142.88v1.24M16.5 144.88v1.24M16.5 152.88v1.24M16.5 161.88v1.24M16.5 165.88v3.24M16.5 171.88v1.24M16.5 177.88v1.24M16.5 186.88v1.24M16.5 188.88v1.24M17.5 79.88v1.24M17.5 102.88v1.24M17.5 106.88v1.24M17.5 111.88v1.24M17.5 114.88v1.24M17.5 116.88v1.24M17.5 125.88v1.24M17.5 129.88v1.24M17.5 134.88v1.24M17.5 140.88v1.24M17.5 142.88v4.24M17.5 152.88v1.24M17.5 159.88v1.24M17.5 163.88v2.24M17.5 170.88v1.24M17.5 178.88v2.24M17.5 189.88v1.24M17.5 192.88v2.24M18.5 88.88v1.24M18.5 110.88v1.24M18.5 114.88v1.24M18.5 128.88v3.24M18.5 136.88v1.24M18.5 139.88v1.24M18.5 149.88v1.24M18.5 154.88v1.24M18.5 156.88v1.24M18.5 158.88v1.24M18.5 163.88v1.24M18.5 165.88v1.24M18.5 169.88v1.24M18.5 172.88v1.24M18.5 174.88v1.24M18.5 182.88v1.24M18.5 187.88v1.24M18.5 193.88v1.24M19.5 69.88v1.24M19.5 97.88v1.24M19.5 101.88v3.24M19.5 126.88v1.24M19.5 139.88v1.24M19.5 141.88v2.24M19.5 152.88v1.24M19.5 164.88v1.24M19.5 168.88v1.24M19.5 171.88v2.24M19.5 174.88v1.24M19.5 177.88v1.24M19.5 191.88v1.24M20.5 111.88v1.24M20.5 116.88v1.24M20.5 131.88v1.24M20.5 137.88v3.24M20.5 143.88v1.24M20.5 145.88v1.24M20.5 148.88v1.24M20.5 155.88v2.24M20.5 158.88v1.24M20.5 162.88v1.24M20.5 167.88v1.24M20.5 177.88v1.24M20.5 187.88v1.24M21.5 112.88v1.24M21.5 122.88v1.24M21.5 129.88v1.24M21.5 148.88v1.24M21.5 163.88v1.24M21.5 165.88v1.24M21.5 173.88v1.24M21.5 178.88v1.24M21.5 180.88v1.24M21.5 187.88v1.24M22.5 103.88v1.24M22.5 110.88v1.24M22.5 116.88v1.24M22.5 120.88v1.24M22.5 137.88v1.24M22.5 147.88v1.24M22.5 157.88v1.24M22.5 164.88v2.24M22.5 170.88v1.24M22.5 176.88v1.24M22.5 180.88v1.24M22.5 184.88v1.24M22.5 186.88v1.24M22.5 190.88v1.24M23.5 116.88v1.24M23.5 128.88v1.24M23.5 165.88v1.24M23.5 167.88v2.24M23.5 178.88v1.24M23.5 182.88v1.24M23.5 186.88v2.24M23.5 189.88v1.24M24.5 121.88v1.24M24.5 129.88v1.24M24.5 134.88v1.24M24.5 152.88v1.24M24.5 160.88v1.24M24.5 162.88v1.24M24.5 171.88v4.24M24.5 180.88v4.24M24.5 192.88v1.24M24.5 194.88v1.24M25.5 109.88v1.24M25.5 126.88v1.24M25.5 147.88v1.24M25.5 150.88v1.24M25.5 152.88v1.24M25.5 159.88v1.24M25.5 161.88v1.24M25.5 168.88v1.24M25.5 174.88v1.24M25.5 177.88v1.24M25.5 182.88v1.24M25.5 188.88v1.24M26.5 115.88v1.24M26.5 117.88v1.24M26.5 148.88v1.24M26.5 155.88v1.24M26.5 169.88v2.24M26.5 176.88v2.24M26.5 183.88v1.24M26.5 186.88v1.24M26.5 190.88v1.24M27.5 130.88v1.24M27.5 132.88v1.24M27.5 156.88v1.24M27.5 160.88v1.24M27.5 166.88v1.24M27.5 171.88v1.24M27.5 178.88v3.24M28.5 146.88v1.24M28.5 151.88v2.24M28.5 156.88v2.24M28.5 164.88v1.24M28.5 173.88v1.24M28.5 175.88v2.24M28.5 178.88v1.24M28.5 181.88v1.24M28.5 189.88v1.24M28.5 191.88v1.24M29.5 140.88v1.24M29.5 150.88v1.24M29.5 154.88v1.24M29.5 160.88v1.24M29.5 171.88v1.24M29.5 175.88v1.24M29.5 179.88v1.24M29.5 188.88v2.24M30.5 127.88v1.24M30.5 135.88v1.24M30.5 142.88v1.24M30.5 145.88v1.24M30.5 150.88v1.24M30.5 152.88v2.24M30.5 164.88v1.24M30.5 170.88v1.24M30.5 189.88v1.24M30.5 193.88v1.24M31.5 132.88v1.24M31.5 136.88v1.24M31.5 145.88v1.24M31.5 157.88v1.24M31.5 165.88v1.24M31.5 168.88v1.24M31.5 171.88v1.24M31.5 173.88v1.24M31.5 176.88v1.24M31.5 178.88v1.24M32.5 39.88v1.24M32.5 53.88v1.24M32.5 88.88v1.24M32.5 92.88v1.24M32.5 94.88v1.24M32.5 109.88v1.24M32.5 118.88v1.24M32.5 121.88v1.24M32.5 129.88v2.24M32.5 133.88v1.24M32.5 139.88v1.24M32.5 149.88v1.24M32.5 152.88v2.24M32.5 160.88v4.24M32.5 170.88v2.24M33.5 22.88v1.24M33.5 70.88v2.24M33.5 75.88v1.24M33.5 83.88v1.24M33.5 97.88v1.24M33.5 114.88v1.24M33.5 120.88v3.24M33.5 132.88v1.24M33.5 143.88v1.24M33.5 145.88v1.24M33.5 150.88v3.24M33.5 160.88v1.24M33.5 163.88v2.24M33.5 167.88v1.24M33.5 194.88v1.24M34.5 9.88v1.24M34.5 18.88v1.24M34.5 24.88v1.24M34.5 50.88v1.24M34.5 55.88v1.24M34.5 60.88v1.24M34.5 63.88v1.24M34.5 72.88v2.24M34.5 77.88v1.24M34.5 85.88v1.24M34.5 97.88v1.24M34.5 102.88v1.24M34.5 105.88v2.24M34.5 108.88v1.24M34.5 112.88v1.24M34.5 117.88v1.24M34.5 119.88v1.24M34.5 121.88v1.24M34.5 127.88v2.24M34.5 133.88v2.24M34.5 136.88v1.24M34.5 140.88v1.24M34.5 142.88v1.24M34.5 146.88v1.24M34.5 149.88v1.24M34.5 152.88v1.24M34.5 163.88v1.24M34.5 172.88v1.24M35.5 8.88v1.24M35.5 22.88v1.24M35.5 28.88v1.24M35.5 30.88v1.24M35.5 44.88v1.24M35.5 56.88v1.24M35.5 64.88v2.24M35.5 70.88v1.24M35.5 74.88v1.24M35.5 76.88v1.24M35.5 79.88v1.24M35.5 88.88v1.24M35.5 94.88v1.24M35.5 97.88v1.24M35.5 99.88v1.24M35.5 102.88v1.24M35.5 106.88v2.24M35.5 116.88v1.24M35.5 129.88v1.24M35.5 132.88v1.24M35.5 142.88v1.24M35.5 147.88v1.24M35.5 149.88v1.24M35.5 162.88v2.24M36.5 6.88v1.24M36.5 10.88v1.24M36.5 17.88v1.24M36.5 23.88v3.24M36.5 30.88v1.24M36.5 45.88v1.24M36.5 59.88v1.24M36.5 63.88v2.24M36.5 71.88v1.24M36.5 73.88v1.24M36.5 85.88v1.24M36.5 94.88v1.24M36.5 98.88v2.24M36.5 104.88v1.24M36.5 116.88v1.24M36.5 118.88v2.24M36.5 124.88v1.24M36.5 127.88v1.24M36.5 136.88v2.24M36.5 141.88v2.24M36.5 150.88v1.24M36.5 159.88v1.24M37.5 9.88v1.24M37.5 13.88v1.24M37.5 18.88v2.24M37.5 21.88v1.24M37.5 23.88v1.24M37.5 26.88v1.24M37.5 28.88v1.24M37.5 31.88v1.24M37.5 33.88v1.24M37.5 36.88v1.24M37.5 47.88v1.24M37.5 52.88v1.24M37.5 56.88v1.24M37.5 59.88v1.24M37.5 61.88v1.24M37.5 64.88v1.24M37.5 67.88v1.24M37.5 70.88v1.24M37.5 72.88v1.24M37.5 75.88v1.24M37.5 89.88v1.24M37.5 91.88v3.24M37.5 95.88v1.24M37.5 100.88v1.24M37.5 110.88v1.24M37.5 123.88v1.24M37.5 127.88v1.24M37.5 130.88v1.24M37.5 134.88v1.24M37.5 170.88v1.24M38.5 7.88v1.24M38.5 11.88v2.24M38.5 21.88v1.24M38.5 23.88v1.24M38.5 32.88v1.24M38.5 35.88v1.24M38.5 38.88v1.24M38.5 44.88v1.24M38.5 48.88v2.24M38.5 70.88v1.24M38.5 72.88v1.24M38.5 78.88v1.24M38.5 84.88v2.24M38.5 87.88v3.24M38.5 107.88v1.24M38.5 130.88v1.24M39.5 20.88v2.24M39.5 25.88v2.24M39.5 38.88v1.24M39.5 42.88v3.24M39.5 51.88v1.24M39.5 60.88v2.24M39.5 66.88v1.24M39.5 71.88v1.24M39.5 73.88v2.24M39.5 78.88v1.24M39.5 82.88v1.24M40.5 32.88v1.24M40.5 47.88v1.24M40.5 80.88v1.24M40.5 164.88v1.24M41.5 40.88v1.24"/>
<path stroke="#007dff" d="M0.5 10.88v1.24M0.5 138.88v1.24M1.5 75.88v1.24M1.5 110.88v1.24M2.5 158.88v1.24M3.5 15.88v1.24M5.5 8.88v1.24M6.5 122.88v1.24M6.5 158.88v1.24M8.5 123.88v1.24M8.5 127.88v1.24M8.5 180.88v1.24M9.5 7.88v1.24M9.5 36.88v1.24M9.5 90.88v1.24M9.5 127.88v1.24M11.5 13.88v1.24M11.5 15.88v1.24M11.5 38.88v1.24M11.5 47.88v1.24M11.5 92.88v1.24M11.5 152.88v1.24M11.5 169.88v1.24M12.5 14.88v1.24M12.5 17.88v1.24M12.5 27.88v1.24M12.5 40.88v1.24M12.5 49.88v1.24M12.5 61.88v1.24M12.5 81.88v1.24M12.5 94.88v1.24M12.5 100.88v1.24M12.5 117.88v1.24M12.5 145.88v1.24M13.5 -0.12v1.24M13.5 8.88v1.24M13.5 16.88v1.24M13.5 40.88v1.24M13.5 50.88v1.24M13.5 59.88v1.24M13.5 65.88v1.24M13.5 71.88v1.24M14.5 0.88v1.24M14.5 2.88v1.24M14.5 7.88v1.24M14.5 10.88v2.24M14.5 21.88v1.24M14.5 23.88v1.24M14.5 28.88v1.24M14.5 32.88v1.24M14.5 47.88v1.24M14.5 55.88v1.24M14.5 81.88v1.24M14.5 124.88v1.24M14.5 154.88v1.24M15.5 -0.12v1.24M15.5 8.88v1.24M15.5 16.88v1.24M15.5 22.88v2.24M15.5 28.88v1.24M15.5 33.88v1.24M15.5 40.88v1.24M15.5 44.88v1.24M15.5 48.88v1.24M15.5 54.88v1.24M15.5 63.88v1.24M15.5 72.88v1.24M15.5 83.88v1.24M15.5 118.88v1.24M15.5 175.88v1.24M15.5 178.88v1.24M16.5 23.88v1.24M16.5 32.88v1.24M16.5 35.88v1.24M16.5 52.88v1.24M16.5 55.88v1.24M16.5 59.88v2.24M16.5 80.88v1.24M16.5 88.88v1.24M16.5 104.88v1.24M16.5 107.88v1.24M16.5 110.88v1.24M16.5 122.88v1.24M17.5 6.88v1.24M17.5 23.88v2.24M17.5 36.88v1.24M17.5 43.88v1.24M17.5 51.88v1.24M17.5 56.88v1.24M17.5 64.88v1.24M17.5 69.88v1.24M17.5 103.88v1.24M17.5 112.88v1.24M17.5 124.88v1.24M17.5 153.88v1.24M18.5 17.88v1.24M18.5 25.88v1.24M18.5 29.88v1.24M18.5 53.88v1.24M18.5 62.88v1.24M18.5 69.88v1.24M18.5 78.88v1.24M18.5 82.88v1.24M18.5 94.88v1.24M18.5 103.88v1.24M18.5 116.88v2.24M18.5 148.88v1.24M19.5 41.88v1.24M19.5 55.88v1.24M19.5 61.88v1.24M19.5 63.88v1.24M19.5 86.88v1.24M19.5 120.88v1.24M19.5 140.88v1.24M19.5 143.88v1.24M19.5 149.88v1.24M20.5 25.88v1.24M20.5 63.88v1.24M20.5 87.88v1.24M20.5 93.88v1.24M20.5 95.88v1.24M20.5 97.88v1.24M20.5 100.88v1.24M20.5 109.88v1.24M20.5 113.88v1.24M20.5 126.88v1.24M20.5 135.88v2.24M20.5 140.88v1.24M20.5 146.88v1.24M20.5 154.88v1.24M20.5 163.88v1.24M21.5 57.88v1.24M21.5 62.88v1.24M21.5 70.88v1.24M21.5 81.88v1.24M21.5 91.88v1.24M21.5 107.88v1.24M21.5 111.88v1.24M21.5 115.88v1.24M21.5 119.88v1.24M21.5 123.88v1.24M21.5 134.88v1.24M21.5 150.88v1.24M21.5 154.88v1.24M21.5 174.88v1.24M22.5 81.88v1.24M22.5 93.88v1.24M22.5 102.88v1.24M22.5 108.88v1.24M22.5 111.88v1.24M22.5 115.88v1.24M22.5 124.88v1.24M22.5 129.88v1.24M22.5 139.88v1.24M22.5 149.88v1.24M22.5 154.88v2.24M22.5 178.88v1.24M23.5 71.88v1.24M23.5 73.88v1.24M23.5 80.88v1.24M23.5 94.88v2.24M23.5 117.88v1.24M23.5 126.88v1.24M23.5 133.88v1.24M23.5 136.88v1.24M23.5 139.88v1.24M23.5 164.88v1.24M23.5 173.88v1.24M24.5 78.88v1.24M24.5 96.88v1.24M24.5 107.88v2.24M24.5 115.88v2.24M24.5 118.88v2.24M24.5 125.88v1.24M24.5 130.88v1.24M24.5 133.88v1.24M24.5 135.88v1.24M24.5 137.88v1.24M24.5 139.88v1.24M24.5 142.88v1.24M24.5 144.88v3.24M24.5 150.88v2.24M25.5 88.88v1.24M25.5 101.88v1.24M25.5 116.88v1.24M25.5 136.88v1.24M25.5 149.88v1.24M25.5 151.88v1.24M26.5 82.88v1.24M26.5 95.88v1.24M26.5 105.88v1.24M26.5 112.88v1.24M26.5 127.88v1.24M26.5 132.88v1.24M26.5 135.88v3.24M26.5 140.88v1.24M26.5 150.88v1.24M26.5 153.88v2.24M26.5 156.88v1.24M26.5 160.88v1.24M26.5 164.88v1.24M27.5 96.88v1.24M27.5 105.88v2.24M27.5 112.88v1.24M27.5 116.88v1.24M27.5 121.88v2.24M27.5 126.88v1.24M27.5 129.88v1.24M27.5 133.88v1.24M27.5 136.88v2.24M27.5 139.88v1.24M27.5 142.88v1.24M27.5 144.88v1.24M27.5 150.88v1.24M27.5 187.88v1.24M28.5 90.88v1.24M28.5 118.88v1.24M28.5 120.88v1.24M28.5 128.88v1.24M28.5 139.88v1.24M28.5 147.88v1.24M29.5 57.88v1.24M29.5 123.88v1.24M29.5 132.88v1.24M29.5 156.88v1.24M30.5 80.88v1.24M30.5 101.88v1.24M30.5 130.88v2.24M30.5 143.88v1.24M30.5 147.88v1.24M31.5 42.88v1.24M31.5 70.88v1.24M31.5 92.88v1.24M31.5 97.88v1.24M31.5 100.88v3.24M31.5 104.88v1.24M31.5 111.88v1.24M31.5 114.88v1.24M31.5 122.88v2.24M31.5 148.88v3.24M32.5 17.88v1.24M32.5 47.88v1.24M32.5 57.88v1.24M32.5 62.88v1.24M32.5 73.88v1.24M32.5 77.88v1.24M32.5 82.88v1.24M32.5 87.88v1.24M32.5 89.88v1.24M32.5 98.88v1.24M32.5 105.88v1.24M32.5 107.88v2.24M32.5 110.88v1.24M32.5 116.88v2.24M32.5 123.88v1.24M33.5 11.88v1.24M33.5 13.88v2.24M33.5 17.88v1.24M33.5 19.88v1.24M33.5 21.88v1.24M33.5 24.88v1.24M33.5 38.88v1.24M33.5 44.88v1.24M33.5 56.88v1.24M33.5 59.88v1.24M33.5 66.88v1.24M33.5 77.88v2.24M33.5 81.88v2.24M33.5 85.88v1.24M33.5 101.88v2.24M33.5 116.88v1.24M33.5 130.88v1.24M33.5 142.88v1.24M34.5 22.88v2.24M34.5 27.88v1.24M34.5 31.88v1.24M34.5 33.88v1.24M34.5 39.88v1.24M34.5 47.88v1.24M34.5 57.88v1.24M34.5 68.88v1.24M34.5 71.88v1.24M34.5 74.88v1.24M34.5 82.88v1.24M34.5 107.88v1.24M34.5 137.88v1.24M35.5 11.88v1.24M35.5 19.88v1.24M35.5 23.88v2.24M35.5 34.88v1.24M35.5 46.88v3.24M35.5 51.88v1.24M35.5 60.88v1.24M35.5 82.88v1.24M35.5 95.88v1.24M35.5 108.88v1.24M36.5 11.88v1.24M36.5 21.88v1.24M36.5 37.88v1.24M36.5 61.88v1.24M36.5 68.88v1.24"/>
<path stroke="#0068ff" d="M0.5 15.88v1.24M0.5 155.88v1.24M1.5 42.88v1.24M2.5 114.88v1.24M3.5 53.88v2.24M3.5 56.88v1.24M3.5 80.88v1.24M3.5 108.88v1.24M3.5 153.88v1.24M4.5 67.88v1.24M5.5 104.88v1.24M6.5 95.88v1.24M6.5 97.88v1.24M7.5 139.88v1.24M7.5 169.88v1.24M7.5 182.88v1.24M8.5 27.88v1.24M8.5 34.88v1.24M8.5 49.88v1.24M8.5 89.88v1.24M9.5 18.88v2.24M9.5 37.88v1.24M9.5 43.88v1.24M9.5 64.88v1.24M9.5 102.88v1.24M9.5 145.88v1.24M10.5 0.88v1.24M10.5 9.88v1.24M10.5 22.88v2.24M10.5 57.88v1.24M10.5 86.88v1.24M10.5 89.88v1.24M10.5 98.88v1.24M10.5 107.88v1.24M10.5 116.88v1.24M10.5 125.88v1.24M10.5 129.88v1.24M10.5 133.88v1.24M10.5 151.88v1.24M10.5 162.88v1.24M10.5 174.88v1.24M11.5 4.88v2.24M11.5 7.88v1.24M11.5 16.88v1.24M11.5 22.88v1.24M11.5 43.88v1.24M11.5 76.88v1.24M11.5 79.88v1.24M11.5 87.88v1.24M11.5 119.88v1.24M12.5 0.88v1.24M12.5 7.88v1.24M12.5 16.88v1.24M12.5 21.88v1.24M12.5 46.88v1.24M12.5 62.88v1.24M12.5 78.88v1.24M12.5 85.88v1.24M12.5 92.88v1.24M12.5 104.88v1.24M12.5 114.88v2.24M12.5 170.88v1.24M13.5 11.88v1.24M13.5 29.88v1.24M13.5 33.88v1.24M13.5 39.88v1.24M13.5 55.88v1.24M13.5 84.88v1.24M13.5 95.88v1.24M13.5 128.88v1.24M13.5 144.88v1.24M13.5 169.88v1.24M14.5 8.88v1.24M14.5 15.88v1.24M14.5 17.88v3.24M14.5 30.88v1.24M14.5 36.88v4.24M14.5 43.88v1.24M14.5 48.88v1.24M14.5 59.88v2.24M14.5 69.88v1.24M14.5 76.88v1.24M14.5 80.88v1.24M14.5 86.88v1.24M14.5 90.88v1.24M14.5 121.88v1.24M14.5 133.88v1.24M14.5 135.88v1.24M15.5 5.88v1.24M15.5 14.88v1.24M15.5 30.88v1.24M15.5 42.88v2.24M15.5 46.88v2.24M15.5 49.88v1.24M15.5 55.88v1.24M15.5 58.88v1.24M15.5 69.88v1.24M15.5 74.88v1.24M15.5 79.88v1.24M15.5 81.88v1.24M15.5 102.88v1.24M15.5 104.88v1.24M15.5 109.88v2.24M15.5 162.88v1.24M16.5 -0.12v1.24M16.5 2.88v1.24M16.5 5.88v1.24M16.5 11.88v1.24M16.5 15.88v1.24M16.5 24.88v1.24M16.5 31.88v1.24M16.5 40.88v1.24M16.5 47.88v1.24M16.5 53.88v2.24M16.5 61.88v1.24M16.5 63.88v1.24M16.5 70.88v2.24M16.5 74.88v1.24M16.5 76.88v1.24M16.5 81.88v1.24M16.5 95.88v2.24M16.5 101.88v1.24M16.5 103.88v1.24M16.5 105.88v1.24M16.5 108.88v1.24M16.5 116.88v1.24M16.5 185.88v1.24M17.5 0.88v1.24M17.5 13.88v1.24M17.5 27.88v1.24M17.5 32.88v1.24M17.5 50.88v1.24M17.5 62.88v2.24M17.5 65.88v1.24M17.5 74.88v2.24M17.5 89.88v1.24M17.5 93.88v1.24M17.5 98.88v1.24M17.5 104.88v1.24M17.5 109.88v2.24M17.5 119.88v1.24M17.5 122.88v1.24M17.5 126.88v1.24M17.5 146.88v1.24M17.5 155.88v1.24M18.5 34.88v1.24M18.5 37.88v1.24M18.5 55.88v1.24M18.5 60.88v1.24M18.5 65.88v1.24M18.5 80.88v2.24M18.5 85.88v1.24M18.5 89.88v1.24M18.5 95.88v1.24M18.5 98.88v1.24M18.5 101.88v1.24M18.5 105.88v1.24M18.5 120.88v1.24M18.5 125.88v1.24M18.5 141.88v1.24M18.5 145.88v1.24M18.5 147.88v1.24M18.5 151.88v1.24M18.5 160.88v1.24M19.5 56.88v1.24M19.5 70.88v1.24M19.5 72.88v1.24M19.5 77.88v1.24M19.5 84.88v2.24M19.5 87.88v1.24M19.5 90.88v1.24M19.5 92.88v1.24M19.5 96.88v1.24M19.5 104.88v2.24M19.5 110.88v1.24M19.5 112.88v1.24M19.5 115.88v1.24M19.5 124.88v1.24M19.5 128.88v4.24M19.5 134.88v1.24M19.5 138.88v1.24M19.5 147.88v1.24M19.5 155.88v1.24M20.5 40.88v1.24M20.5 50.88v1.24M20.5 64.88v1.24M20.5 77.88v2.24M20.5 94.88v1.24M20.5 96.88v1.24M20.5 99.88v1.24M20.5 108.88v1.24M20.5 112.88v1.24M20.5 117.88v1.24M20.5 121.88v1.24M20.5 127.88v1.24M20.5 151.88v1.24M20.5 170.88v1.24M20.5 172.88v1.24M20.5 175.88v1.24M20.5 188.88v1.24M21.5 65.88v1.24M21.5 90.88v1.24M21.5 95.88v1.24M21.5 103.88v1.24M21.5 108.88v1.24M21.5 114.88v1.24M21.5 118.88v1.24M21.5 121.88v1.24M21.5 126.88v1.24M21.5 130.88v1.24M21.5 141.88v1.24M21.5 143.88v1.24M21.5 158.88v2.24M22.5 84.88v1.24M22.5 97.88v1.24M22.5 119.88v1.24M22.5 122.88v1.24M22.5 125.88v1.24M22.5 138.88v1.24M22.5 150.88v2.24M22.5 156.88v1.24M22.5 159.88v1.24M22.5 166.88v2.24M23.5 97.88v1.24M23.5 114.88v1.24M23.5 123.88v2.24M23.5 127.88v1.24M23.5 135.88v1.24M23.5 137.88v1.24M23.5 140.88v1.24M23.5 147.88v1.24M23.5 152.88v1.24M23.5 155.88v1.24M23.5 157.88v1.24M23.5 162.88v1.24M23.5 171.88v2.24M23.5 175.88v1.24M24.5 103.88v1.24M24.5 128.88v1.24M24.5 141.88v1.24M24.5 148.88v1.24M24.5 153.88v1.24M24.5 157.88v2.24M24.5 164.88v1.24M24.5 167.88v1.24M25.5 81.88v1.24M25.5 107.88v1.24M25.5 111.88v1.24M25.5 123.88v1.24M25.5 155.88v2.24M25.5 163.88v2.24M26.5 98.88v1.24M26.5 118.88v1.24M26.5 121.88v1.24M26.5 126.88v1.24M26.5 131.88v1.24M26.5 147.88v1.24M26.5 158.88v1.24M26.5 162.88v1.24M27.5 111.88v1.24M27.5 123.88v1.24M27.5 135.88v1.24M27.5 138.88v1.24M27.5 143.88v1.24M27.5 151.88v2.24M27.5 157.88v1.24M27.5 159.88v1.24M27.5 162.88v1.24M27.5 170.88v1.24M27.5 172.88v1.24M28.5 122.88v1.24M28.5 134.88v1.24M28.5 140.88v1.24M28.5 149.88v1.24M28.5 161.88v1.24M29.5 81.88v1.24M29.5 108.88v1.24M29.5 110.88v1.24M29.5 115.88v1.24M29.5 118.88v1.24M29.5 122.88v1.24M29.5 136.88v1.24M29.5 138.88v1.24M29.5 146.88v1.24M29.5 151.88v1.24M29.5 155.88v1.24M29.5 157.88v3.24M29.5 168.88v1.24M29.5 170.88v1.24M30.5 82.88v1.24M30.5 90.88v1.24M30.5 114.88v1.24M30.5 117.88v1.24M30.5 120.88v1.24M30.5 137.88v1.24M30.5 140.88v2.24M30.5 144.88v1.24M30.5 148.88v1.24M30.5 151.88v1.24M30.5 166.88v1.24M31.5 46.88v1.24M31.5 49.88v1.24M31.5 85.88v1.24M31.5 88.88v1.24M31.5 94.88v2.24M31.5 105.88v1.24M31.5 109.88v1.24M31.5 116.88v1.24M31.5 118.88v1.24M31.5 159.88v3.24M32.5 48.88v1.24M32.5 60.88v1.24M32.5 63.88v1.24M32.5 66.88v1.24M32.5 70.88v1.24M32.5 83.88v1.24M32.5 85.88v1.24M32.5 100.88v1.24M32.5 104.88v1.24M32.5 120.88v1.24M32.5 127.88v1.24M32.5 137.88v1.24M32.5 140.88v1.24M32.5 143.88v1.24M33.5 10.88v1.24M33.5 18.88v1.24M33.5 26.88v1.24M33.5 28.88v1.24M33.5 37.88v1.24M33.5 45.88v2.24M33.5 53.88v2.24M33.5 65.88v1.24M33.5 67.88v2.24M33.5 72.88v1.24M33.5 74.88v1.24M33.5 84.88v1.24M33.5 88.88v1.24M33.5 93.88v1.24M33.5 98.88v1.24M33.5 112.88v1.24M33.5 123.88v1.24M33.5 127.88v1.24M33.5 129.88v1.24M33.5 138.88v1.24M34.5 10.88v2.24M34.5 17.88v1.24M34.5 20.88v1.24M34.5 25.88v1.24M34.5 30.88v1.24M34.5 38.88v1.24M34.5 41.88v1.24M34.5 51.88v1.24M34.5 54.88v1.24M34.5 62.88v1.24M34.5 76.88v1.24M34.5 78.88v1.24M34.5 81.88v1.24M34.5 84.88v1.24M34.5 86.88v2.24M34.5 98.88v1.24M34.5 113.88v1.24M35.5 10.88v1.24M35.5 12.88v1.24M35.5 18.88v1.24M35.5 29.88v1.24M35.5 45.88v1.24M35.5 50.88v1.24M35.5 59.88v1.24M35.5 61.88v1.24M35.5 68.88v1.24M35.5 72.88v1.24M35.5 78.88v1.24M35.5 83.88v1.24M35.5 92.88v1.24M35.5 103.88v1.24M36.5 8.88v1.24M36.5 16.88v1.24M36.5 31.88v1.24M36.5 44.88v1.24M36.5 49.88v1.24M36.5 74.88v1.24M36.5 91.88v1.24M37.5 8.88v1.24M37.5 10.88v1.24M37.5 15.88v1.24M37.5 35.88v1.24M37.5 41.88v1.24M37.5 57.88v1.24M37.5 60.88v1.24M37.5 74.88v1.24"/>
<path stroke="#0053ff" d="M0.5 74.88v1.24M0.5 117.88v1.24M0.5 125.88v1.24M0.5 173.88v1.24M1.5 4.88v1.24M1.5 24.88v1.24M1.5 31.88v1.24M1.5 76.88v1.24M1.5 111.88v1.24M1.5 143.88v1.24M1.5 156.88v1.24M1.5 184.88v1.24M1.5 190.88v1.24M2.5 1.88v1.24M2.5 12.88v1.24M2.5 93.88v1.24M2.5 101.88v1.24M2.5 117.88v1.24M2.5 141.88v1.24M2.5 159.88v1.24M2.5 179.88v1.24M3.5 0.88v1.24M3.5 84.88v1.24M3.5 90.88v1.24M3.5 173.88v1.24M3.5 184.88v1.24M3.5 189.88v1.24M3.5 193.88v1.24M4.5 13.88v1.24M4.5 38.88v2.24M4.5 57.88v1.24M4.5 68.88v1.24M4.5 102.88v1.24M4.5 127.88v1.24M4.5 142.88v1.24M4.5 154.88v1.24M4.5 168.88v1.24M4.5 174.88v1.24M4.5 181.88v1.24M4.5 192.88v1.24M5.5 17.88v1.24M5.5 59.88v1.24M5.5 72.88v1.24M5.5 121.88v1.24M5.5 124.88v1.24M5.5 152.88v2.24M5.5 162.88v2.24M5.5 194.88v1.24M6.5 6.88v1.24M6.5 14.88v1.24M6.5 32.88v1.24M6.5 39.88v1.24M6.5 45.88v1.24M6.5 92.88v1.24M6.5 114.88v1.24M6.5 127.88v1.24M6.5 131.88v1.24M6.5 144.88v1.24M6.5 161.88v1.24M6.5 191.88v1.24M7.5 4.88v1.24M7.5 34.88v1.24M7.5 69.88v1.24M7.5 109.88v1.24M7.5 112.88v1.24M7.5 126.88v1.24M7.5 128.88v1.24M7.5 147.88v2.24M7.5 153.88v1.24M7.5 173.88v1.24M7.5 176.88v1.24M8.5 35.88v1.24M8.5 41.88v1.24M8.5 44.88v2.24M8.5 52.88v1.24M8.5 54.88v1.24M8.5 72.88v1.24M8.5 80.88v1.24M8.5 88.88v1.24M8.5 91.88v1.24M8.5 130.88v1.24M8.5 142.88v1.24M8.5 176.88v1.24M9.5 0.88v1.24M9.5 2.88v2.24M9.5 6.88v1.24M9.5 8.88v2.24M9.5 17.88v1.24M9.5 48.88v1.24M9.5 54.88v1.24M9.5 65.88v1.24M9.5 81.88v1.24M9.5 94.88v1.24M9.5 96.88v1.24M9.5 103.88v1.24M9.5 136.88v1.24M10.5 1.88v1.24M10.5 12.88v1.24M10.5 21.88v1.24M10.5 31.88v1.24M10.5 33.88v1.24M10.5 51.88v2.24M10.5 63.88v1.24M10.5 66.88v1.24M10.5 68.88v1.24M10.5 72.88v2.24M10.5 79.88v1.24M10.5 82.88v1.24M10.5 94.88v3.24M10.5 110.88v1.24M10.5 131.88v1.24M10.5 136.88v1.24M10.5 149.88v1.24M10.5 188.88v1.24M11.5 0.88v1.24M11.5 17.88v1.24M11.5 19.88v1.24M11.5 23.88v1.24M11.5 33.88v1.24M11.5 55.88v1.24M11.5 62.88v1.24M11.5 69.88v1.24M11.5 77.88v1.24M11.5 128.88v1.24M11.5 172.88v1.24M11.5 175.88v1.24M12.5 19.88v1.24M12.5 24.88v1.24M12.5 32.88v2.24M12.5 39.88v1.24M12.5 43.88v1.24M12.5 45.88v1.24M12.5 52.88v1.24M12.5 55.88v2.24M12.5 63.88v1.24M12.5 69.88v1.24M12.5 99.88v1.24M12.5 108.88v1.24M12.5 120.88v2.24M12.5 128.88v1.24M12.5 134.88v1.24M12.5 143.88v1.24M12.5 150.88v1.24M12.5 167.88v1.24M13.5 2.88v1.24M13.5 14.88v1.24M13.5 21.88v1.24M13.5 30.88v1.24M13.5 34.88v1.24M13.5 42.88v1.24M13.5 48.88v1.24M13.5 63.88v1.24M13.5 72.88v1.24M13.5 77.88v1.24M13.5 80.88v1.24M13.5 87.88v1.24M13.5 102.88v1.24M13.5 113.88v1.24M13.5 117.88v1.24M13.5 124.88v1.24M13.5 158.88v1.24M13.5 163.88v1.24M14.5 6.88v1.24M14.5 16.88v1.24M14.5 24.88v4.24M14.5 31.88v1.24M14.5 44.88v1.24M14.5 54.88v1.24M14.5 61.88v1.24M14.5 63.88v1.24M14.5 68.88v1.24M14.5 74.88v1.24M14.5 82.88v1.24M14.5 85.88v1.24M14.5 91.88v1.24M14.5 104.88v3.24M14.5 109.88v1.24M14.5 147.88v1.24M14.5 155.88v1.24M14.5 164.88v1.24M15.5 4.88v1.24M15.5 18.88v1.24M15.5 20.88v2.24M15.5 25.88v1.24M15.5 34.88v1.24M15.5 45.88v1.24M15.5 51.88v1.24M15.5 57.88v1.24M15.5 66.88v1.24M15.5 70.88v1.24M15.5 87.88v1.24M15.5 91.88v1.24M15.5 96.88v1.24M15.5 113.88v1.24M15.5 124.88v1.24M15.5 129.88v1.24M15.5 144.88v2.24M15.5 155.88v3.24M15.5 160.88v1.24M15.5 167.88v1.24M16.5 10.88v1.24M16.5 39.88v1.24M16.5 41.88v1.24M16.5 69.88v1.24M16.5 72.88v2.24M16.5 75.88v1.24M16.5 83.88v1.24M16.5 94.88v1.24M16.5 98.88v1.24M16.5 106.88v1.24M16.5 113.88v1.24M16.5 117.88v1.24M16.5 119.88v1.24M16.5 130.88v1.24M16.5 133.88v1.24M16.5 135.88v1.24M16.5 138.88v1.24M16.5 140.88v1.24M16.5 160.88v1.24M16.5 162.88v1.24M16.5 182.88v1.24M16.5 190.88v1.24M17.5 1.88v1.24M17.5 9.88v1.24M17.5 11.88v1.24M17.5 26.88v1.24M17.5 33.88v1.24M17.5 39.88v2.24M17.5 42.88v1.24M17.5 46.88v1.24M17.5 49.88v1.24M17.5 58.88v4.24M17.5 67.88v1.24M17.5 71.88v1.24M17.5 80.88v1.24M17.5 82.88v2.24M17.5 85.88v1.24M17.5 95.88v1.24M17.5 101.88v1.24M17.5 107.88v2.24M17.5 115.88v1.24M17.5 128.88v1.24M17.5 139.88v1.24M17.5 141.88v1.24M17.5 150.88v1.24M17.5 162.88v1.24M17.5 181.88v1.24M18.5 42.88v2.24M18.5 49.88v4.24M18.5 57.88v1.24M18.5 70.88v2.24M18.5 75.88v1.24M18.5 79.88v1.24M18.5 87.88v1.24M18.5 97.88v1.24M18.5 99.88v1.24M18.5 106.88v1.24M18.5 111.88v1.24M18.5 115.88v1.24M18.5 126.88v1.24M18.5 132.88v1.24M18.5 135.88v1.24M18.5 157.88v1.24M18.5 159.88v1.24M19.5 4.88v1.24M19.5 108.88v1.24M19.5 114.88v1.24M19.5 121.88v1.24M19.5 123.88v1.24M19.5 125.88v1.24M19.5 133.88v1.24M19.5 135.88v1.24M19.5 137.88v1.24M19.5 146.88v1.24M19.5 151.88v1.24M19.5 169.88v1.24M19.5 178.88v1.24M20.5 60.88v1.24M20.5 72.88v2.24M20.5 82.88v1.24M20.5 105.88v1.24M20.5 107.88v1.24M20.5 114.88v2.24M20.5 132.88v2.24M20.5 157.88v1.24M20.5 159.88v1.24M20.5 164.88v1.24M20.5 189.88v1.24M21.5 82.88v1.24M21.5 89.88v1.24M21.5 92.88v2.24M21.5 96.88v1.24M21.5 113.88v1.24M21.5 116.88v2.24M21.5 135.88v1.24M21.5 138.88v1.24M21.5 142.88v1.24M21.5 144.88v1.24M21.5 147.88v1.24M21.5 156.88v1.24M21.5 164.88v1.24M22.5 64.88v1.24M22.5 90.88v1.24M22.5 118.88v1.24M22.5 123.88v1.24M22.5 127.88v1.24M22.5 131.88v2.24M22.5 141.88v1.24M22.5 153.88v1.24M22.5 160.88v1.24M22.5 162.88v2.24M22.5 177.88v1.24M23.5 75.88v1.24M23.5 83.88v1.24M23.5 85.88v1.24M23.5 109.88v1.24M23.5 118.88v1.24M23.5 120.88v3.24M23.5 130.88v1.24M23.5 142.88v1.24M23.5 145.88v2.24M23.5 148.88v1.24M23.5 154.88v1.24M23.5 156.88v1.24M23.5 166.88v1.24M23.5 170.88v1.24M24.5 111.88v1.24M24.5 117.88v1.24M24.5 127.88v1.24M24.5 143.88v1.24M24.5 154.88v1.24M24.5 159.88v1.24M24.5 166.88v1.24M24.5 176.88v1.24M24.5 179.88v1.24M25.5 74.88v1.24M25.5 110.88v1.24M25.5 122.88v1.24M25.5 125.88v1.24M25.5 137.88v1.24M25.5 141.88v1.24M25.5 146.88v1.24M25.5 154.88v1.24M25.5 158.88v1.24M25.5 160.88v1.24M25.5 170.88v1.24M25.5 179.88v1.24M26.5 104.88v1.24M26.5 116.88v1.24M26.5 120.88v1.24M26.5 134.88v1.24M26.5 143.88v2.24M26.5 149.88v1.24M26.5 159.88v1.24M26.5 163.88v1.24M26.5 165.88v2.24M26.5 172.88v1.24M26.5 182.88v1.24M27.5 145.88v1.24M27.5 147.88v2.24M27.5 161.88v1.24M27.5 167.88v1.24M27.5 174.88v1.24M28.5 119.88v1.24M28.5 127.88v1.24M28.5 129.88v2.24M28.5 135.88v1.24M28.5 143.88v1.24M28.5 163.88v1.24M29.5 105.88v1.24M29.5 116.88v2.24M29.5 120.88v1.24M29.5 125.88v2.24M29.5 129.88v1.24M29.5 133.88v2.24M29.5 137.88v1.24M29.5 139.88v1.24M29.5 144.88v1.24M29.5 147.88v1.24M29.5 161.88v1.24M29.5 165.88v1.24M30.5 102.88v1.24M30.5 116.88v1.24M30.5 118.88v1.24M30.5 125.88v2.24M30.5 134.88v1.24M30.5 159.88v2.24M30.5 162.88v1.24M30.5 168.88v2.24M30.5 173.88v1.24M31.5 79.88v1.24M31.5 84.88v1.24M31.5 87.88v1.24M31.5 106.88v1.24M31.5 108.88v1.24M31.5 113.88v1.24M31.5 125.88v1.24M31.5 134.88v1.24M31.5 137.88v1.24M31.5 139.88v1.24M31.5 141.88v1.24M31.5 153.88v2.24M32.5 18.88v1.24M32.5 32.88v1.24M32.5 72.88v1.24M32.5 78.88v1.24M32.5 84.88v1.24M32.5 86.88v1.24M32.5 91.88v1.24M32.5 93.88v1.24M32.5 113.88v3.24M32.5 122.88v1.24M32.5 132.88v1.24M32.5 135.88v2.24M32.5 154.88v1.24M32.5 158.88v1.24M32.5 167.88v1.24M33.5 20.88v1.24M33.5 36.88v1.24M33.5 39.88v1.24M33.5 42.88v1.24M33.5 51.88v1.24M33.5 73.88v1.24M33.5 80.88v1.24M33.5 90.88v1.24M33.5 92.88v1.24M33.5 94.88v1.24M33.5 99.88v1.24M33.5 107.88v2.24M33.5 111.88v1.24M33.5 113.88v1.24M33.5 117.88v1.24M33.5 126.88v1.24M33.5 136.88v1.24M33.5 140.88v1.24M33.5 146.88v1.24M34.5 7.88v1.24M34.5 19.88v1.24M34.5 42.88v1.24M34.5 45.88v1.24M34.5 48.88v1.24M34.5 52.88v2.24M34.5 59.88v1.24M34.5 61.88v1.24M34.5 69.88v1.24M34.5 75.88v1.24M34.5 83.88v1.24M34.5 93.88v2.24M34.5 103.88v1.24M34.5 116.88v1.24M34.5 118.88v1.24M34.5 120.88v1.24M34.5 126.88v1.24M34.5 131.88v1.24M34.5 144.88v1.24M35.5 7.88v1.24M35.5 13.88v1.24M35.5 15.88v2.24M35.5 25.88v1.24M35.5 37.88v1.24M35.5 40.88v2.24M35.5 54.88v1.24M35.5 62.88v1.24M35.5 66.88v2.24M35.5 69.88v1.24M35.5 71.88v1.24M35.5 77.88v1.24M35.5 80.88v1.24M35.5 86.88v2.24M35.5 90.88v1.24M35.5 93.88v1.24M35.5 96.88v1.24M35.5 100.88v1.24M35.5 117.88v1.24M35.5 120.88v1.24M35.5 131.88v1.24M36.5 7.88v1.24M36.5 9.88v1.24M36.5 14.88v1.24M36.5 22.88v1.24M36.5 28.88v2.24M36.5 33.88v2.24M36.5 40.88v1.24M36.5 46.88v3.24M36.5 58.88v1.24M36.5 60.88v1.24M36.5 62.88v1.24M36.5 65.88v1.24M36.5 69.88v1.24M36.5 76.88v1.24M36.5 89.88v2.24M36.5 101.88v2.24M36.5 107.88v1.24M36.5 114.88v1.24M37.5 12.88v1.24M37.5 22.88v1.24M37.5 27.88v1.24M37.5 34.88v1.24M37.5 39.88v1.24M37.5 42.88v1.24M37.5 45.88v1.24M37.5 53.88v2.24M37.5 58.88v1.24M37.5 63.88v1.24M37.5 68.88v1.24M37.5 71.88v1.24M37.5 76.88v1.24M37.5 94.88v1.24M38.5 27.88v1.24"/>
<path stroke="#00a6ff" d="M3.5 23.88v1.24M10.5 10.88v1.24M10.5 39.88v1.24M11.5 8.88v1.24M11.5 14.88v1.24M11.5 42.88v1.24M12.5 12.88v1.24M12.5 41.88v1.24M13.5 15.88v1.24M13.5 20.88v1.24M14.5 13.88v1.24M14.5 33.88v1.24M14.5 67.88v1.24M14.5 87.88v1.24M14.5 94.88v1.24M15.5 61.88v1.24M15.5 71.88v1.24M15.5 80.88v1.24M16.5 6.88v1.24M16.5 9.88v1.24M16.5 14.88v1.24M16.5 17.88v1.24M16.5 19.88v1.24M16.5 25.88v1.24M16.5 78.88v1.24M17.5 2.88v1.24M17.5 16.88v1.24M17.5 21.88v1.24M17.5 53.88v1.24M17.5 78.88v1.24M17.5 87.88v1.24M17.5 132.88v1.24M18.5 2.88v2.24M18.5 15.88v1.24M18.5 35.88v1.24M18.5 45.88v1.24M18.5 61.88v1.24M18.5 72.88v1.24M18.5 90.88v1.24M18.5 102.88v1.24M19.5 26.88v1.24M19.5 30.88v1.24M19.5 35.88v1.24M19.5 40.88v1.24M19.5 42.88v1.24M19.5 45.88v2.24M19.5 52.88v1.24M19.5 57.88v1.24M19.5 62.88v1.24M19.5 65.88v2.24M19.5 71.88v1.24M19.5 107.88v1.24M20.5 19.88v1.24M20.5 41.88v1.24M20.5 46.88v1.24M20.5 57.88v2.24M20.5 76.88v1.24M20.5 81.88v1.24M20.5 91.88v1.24M20.5 104.88v1.24M20.5 120.88v1.24M21.5 49.88v1.24M21.5 58.88v1.24M21.5 61.88v1.24M21.5 69.88v1.24M21.5 76.88v1.24M21.5 79.88v1.24M21.5 97.88v1.24M21.5 99.88v1.24M21.5 149.88v1.24M22.5 68.88v1.24M22.5 71.88v1.24M22.5 73.88v1.24M22.5 78.88v1.24M22.5 85.88v1.24M22.5 87.88v1.24M22.5 91.88v1.24M22.5 104.88v1.24M22.5 112.88v1.24M22.5 114.88v1.24M22.5 130.88v1.24M23.5 53.88v1.24M23.5 82.88v1.24M23.5 86.88v1.24M23.5 93.88v1.24M23.5 100.88v1.24M23.5 103.88v1.24M23.5 112.88v1.24M23.5 115.88v1.24M23.5 132.88v1.24M23.5 143.88v1.24M24.5 83.88v1.24M24.5 87.88v1.24M24.5 131.88v2.24M24.5 170.88v1.24M25.5 67.88v1.24M25.5 90.88v1.24M25.5 92.88v1.24M25.5 98.88v1.24M25.5 102.88v1.24M25.5 108.88v1.24M25.5 119.88v1.24M25.5 121.88v1.24M26.5 57.88v1.24M26.5 62.88v1.24M26.5 78.88v1.24M26.5 93.88v1.24M26.5 108.88v2.24M26.5 152.88v1.24M27.5 65.88v1.24M27.5 82.88v1.24M27.5 103.88v1.24M27.5 125.88v1.24M28.5 83.88v2.24M28.5 100.88v1.24M28.5 105.88v1.24M28.5 108.88v1.24M28.5 123.88v1.24M28.5 131.88v1.24M28.5 141.88v1.24M28.5 145.88v1.24M29.5 65.88v1.24M29.5 76.88v1.24M29.5 87.88v1.24M29.5 91.88v1.24M29.5 95.88v1.24M29.5 128.88v1.24M29.5 130.88v1.24M29.5 153.88v1.24M30.5 63.88v1.24M30.5 72.88v1.24M30.5 121.88v2.24M31.5 62.88v1.24M31.5 64.88v1.24M31.5 66.88v1.24M31.5 76.88v1.24M31.5 78.88v1.24M31.5 90.88v1.24M31.5 96.88v1.24M31.5 98.88v1.24M31.5 103.88v1.24M31.5 117.88v1.24M31.5 121.88v1.24M31.5 124.88v1.24M31.5 127.88v1.24M31.5 131.88v1.24M31.5 151.88v1.24M32.5 7.88v1.24M32.5 19.88v1.24M32.5 22.88v1.24M32.5 40.88v1.24M32.5 44.88v2.24M32.5 50.88v1.24M32.5 56.88v1.24M32.5 71.88v1.24M32.5 75.88v2.24M32.5 81.88v1.24M33.5 23.88v1.24M33.5 31.88v1.24M33.5 34.88v1.24M33.5 57.88v1.24M33.5 62.88v1.24M33.5 76.88v1.24M33.5 95.88v1.24M34.5 12.88v1.24M34.5 14.88v2.24M34.5 21.88v1.24M34.5 40.88v1.24M35.5 31.88v1.24M35.5 36.88v1.24M35.5 39.88v1.24M35.5 49.88v1.24M36.5 19.88v1.24"/>
<path stroke="#0092ff" d="M5.5 181.88v1.24M9.5 5.88v1.24M9.5 29.88v1.24M9.5 80.88v1.24M9.5 118.88v1.24M10.5 101.88v1.24M11.5 1.88v1.24M11.5 135.88v1.24M11.5 151.88v1.24M12.5 60.88v1.24M12.5 68.88v1.24M12.5 133.88v1.24M13.5 1.88v1.24M13.5 3.88v1.24M13.5 19.88v1.24M13.5 38.88v1.24M13.5 68.88v1.24M13.5 133.88v1.24M14.5 -0.12v1.24M14.5 9.88v1.24M14.5 12.88v1.24M14.5 34.88v1.24M14.5 42.88v1.24M14.5 53.88v1.24M14.5 99.88v1.24M15.5 0.88v2.24M15.5 10.88v2.24M15.5 13.88v1.24M15.5 26.88v1.24M15.5 50.88v1.24M15.5 59.88v2.24M15.5 93.88v1.24M15.5 97.88v1.24M16.5 1.88v1.24M16.5 30.88v1.24M16.5 34.88v1.24M16.5 38.88v1.24M16.5 48.88v2.24M16.5 51.88v1.24M16.5 58.88v1.24M16.5 77.88v1.24M16.5 91.88v1.24M16.5 102.88v1.24M17.5 7.88v2.24M17.5 10.88v1.24M17.5 19.88v1.24M17.5 35.88v1.24M17.5 41.88v1.24M17.5 52.88v1.24M17.5 54.88v1.24M17.5 76.88v1.24M17.5 81.88v1.24M17.5 84.88v1.24M17.5 92.88v1.24M17.5 96.88v1.24M17.5 171.88v1.24M17.5 174.88v1.24M18.5 9.88v1.24M18.5 12.88v1.24M18.5 20.88v1.24M18.5 33.88v1.24M18.5 36.88v1.24M18.5 38.88v1.24M18.5 40.88v1.24M18.5 46.88v2.24M18.5 58.88v1.24M18.5 63.88v1.24M18.5 66.88v1.24M18.5 68.88v1.24M18.5 73.88v2.24M18.5 76.88v1.24M18.5 118.88v1.24M18.5 123.88v1.24M19.5 37.88v1.24M19.5 50.88v1.24M19.5 78.88v3.24M19.5 94.88v1.24M19.5 98.88v2.24M19.5 109.88v1.24M19.5 113.88v1.24M19.5 127.88v1.24M19.5 145.88v1.24M20.5 27.88v1.24M20.5 83.88v1.24M20.5 98.88v1.24M20.5 106.88v1.24M20.5 118.88v1.24M20.5 128.88v2.24M21.5 29.88v1.24M21.5 48.88v1.24M21.5 56.88v1.24M21.5 59.88v1.24M21.5 66.88v1.24M21.5 73.88v1.24M21.5 78.88v1.24M21.5 84.88v1.24M21.5 87.88v1.24M21.5 104.88v1.24M21.5 106.88v1.24M21.5 110.88v1.24M21.5 125.88v1.24M21.5 127.88v1.24M22.5 80.88v1.24M22.5 88.88v2.24M22.5 94.88v1.24M22.5 96.88v1.24M22.5 101.88v1.24M22.5 107.88v1.24M22.5 117.88v1.24M22.5 135.88v2.24M22.5 142.88v1.24M22.5 144.88v1.24M22.5 158.88v1.24M23.5 69.88v1.24M23.5 74.88v1.24M23.5 81.88v1.24M23.5 90.88v1.24M23.5 98.88v1.24M23.5 104.88v1.24M23.5 106.88v1.24M23.5 113.88v1.24M23.5 119.88v1.24M23.5 129.88v1.24M23.5 134.88v1.24M24.5 81.88v1.24M24.5 84.88v1.24M24.5 97.88v1.24M24.5 101.88v1.24M24.5 110.88v1.24M24.5 112.88v2.24M24.5 140.88v1.24M25.5 99.88v1.24M25.5 103.88v1.24M25.5 106.88v1.24M25.5 112.88v1.24M25.5 127.88v1.24M25.5 129.88v2.24M25.5 140.88v1.24M25.5 144.88v1.24M25.5 153.88v1.24M25.5 172.88v1.24M26.5 86.88v1.24M26.5 89.88v1.24M26.5 100.88v1.24M26.5 107.88v1.24M26.5 110.88v1.24M26.5 113.88v1.24M26.5 122.88v1.24M26.5 133.88v1.24M26.5 139.88v1.24M26.5 142.88v1.24M26.5 145.88v1.24M26.5 151.88v1.24M27.5 90.88v1.24M27.5 93.88v1.24M27.5 119.88v1.24M27.5 127.88v1.24M27.5 149.88v1.24M28.5 45.88v2.24M28.5 70.88v1.24M28.5 95.88v1.24M28.5 102.88v2.24M28.5 106.88v1.24M28.5 112.88v1.24M28.5 115.88v1.24M28.5 121.88v1.24M28.5 125.88v1.24M28.5 132.88v1.24M28.5 137.88v1.24M28.5 144.88v1.24M28.5 158.88v2.24M28.5 162.88v1.24M29.5 47.88v1.24M29.5 67.88v1.24M29.5 74.88v1.24M29.5 79.88v2.24M29.5 86.88v1.24M29.5 111.88v4.24M29.5 121.88v1.24M29.5 131.88v1.24M29.5 141.88v1.24M30.5 66.88v1.24M30.5 87.88v1.24M30.5 92.88v1.24M30.5 95.88v1.24M30.5 99.88v1.24M30.5 105.88v2.24M30.5 111.88v2.24M30.5 123.88v1.24M30.5 129.88v1.24M30.5 139.88v1.24M30.5 149.88v1.24M31.5 35.88v1.24M31.5 40.88v1.24M31.5 69.88v1.24M31.5 71.88v1.24M31.5 74.88v1.24M31.5 81.88v1.24M31.5 89.88v1.24M31.5 110.88v1.24M31.5 112.88v1.24M31.5 133.88v1.24M31.5 135.88v1.24M31.5 143.88v1.24M31.5 147.88v1.24M32.5 27.88v1.24M32.5 35.88v1.24M32.5 41.88v1.24M32.5 46.88v1.24M32.5 54.88v2.24M32.5 68.88v1.24M32.5 80.88v1.24M32.5 96.88v2.24M32.5 99.88v1.24M32.5 102.88v1.24M32.5 111.88v1.24M33.5 15.88v1.24M33.5 29.88v2.24M33.5 49.88v1.24M33.5 86.88v1.24M33.5 134.88v1.24M34.5 5.88v1.24M34.5 13.88v1.24M34.5 16.88v1.24M34.5 26.88v1.24M34.5 28.88v2.24M34.5 32.88v1.24M34.5 34.88v1.24M34.5 36.88v1.24M34.5 65.88v1.24M34.5 70.88v1.24M34.5 88.88v1.24M34.5 90.88v1.24M34.5 100.88v1.24M35.5 84.88v1.24M36.5 12.88v1.24M36.5 51.88v1.24M36.5 55.88v1.24M36.5 80.88v1.24M37.5 7.88v1.24M37.5 24.88v1.24M37.5 49.88v1.24"/>
<path stroke="#00bbff" d="M7.5 170.88v1.24M13.5 96.88v1.24M14.5 5.88v1.24M14.5 14.88v1.24M15.5 3.88v1.24M15.5 6.88v1.24M15.5 15.88v1.24M15.5 17.88v1.24M15.5 27.88v1.24M15.5 32.88v1.24M15.5 37.88v2.24M16.5 4.88v1.24M16.5 7.88v1.24M16.5 28.88v1.24M16.5 44.88v1.24M16.5 68.88v1.24M17.5 -0.12v1.24M17.5 5.88v1.24M17.5 12.88v1.24M17.5 20.88v1.24M17.5 37.88v1.24M17.5 57.88v1.24M18.5 23.88v1.24M18.5 26.88v1.24M18.5 44.88v1.24M18.5 59.88v1.24M18.5 83.88v1.24M18.5 91.88v1.24M19.5 19.88v1.24M19.5 25.88v1.24M19.5 27.88v2.24M19.5 53.88v1.24M19.5 60.88v1.24M19.5 67.88v2.24M19.5 73.88v1.24M19.5 75.88v1.24M19.5 81.88v1.24M19.5 83.88v1.24M19.5 95.88v1.24M20.5 14.88v1.24M20.5 21.88v1.24M20.5 26.88v1.24M20.5 51.88v1.24M20.5 53.88v1.24M20.5 55.88v1.24M20.5 61.88v1.24M20.5 68.88v1.24M20.5 70.88v2.24M20.5 74.88v1.24M20.5 86.88v1.24M20.5 88.88v1.24M20.5 92.88v1.24M20.5 102.88v1.24M21.5 2.88v1.24M21.5 43.88v1.24M21.5 63.88v1.24M21.5 68.88v1.24M21.5 85.88v1.24M21.5 100.88v1.24M21.5 120.88v1.24M21.5 136.88v1.24M21.5 171.88v1.24M22.5 44.88v1.24M22.5 58.88v1.24M22.5 63.88v1.24M22.5 66.88v1.24M22.5 70.88v1.24M22.5 77.88v1.24M22.5 82.88v1.24M22.5 121.88v1.24M23.5 15.88v1.24M23.5 62.88v1.24M23.5 72.88v1.24M23.5 89.88v1.24M24.5 55.88v1.24M24.5 77.88v1.24M24.5 85.88v1.24M24.5 90.88v1.24M24.5 93.88v1.24M24.5 98.88v1.24M24.5 102.88v1.24M24.5 136.88v1.24M24.5 156.88v1.24M25.5 59.88v1.24M25.5 73.88v1.24M25.5 89.88v1.24M25.5 113.88v1.24M25.5 117.88v1.24M25.5 148.88v1.24M26.5 54.88v1.24M26.5 76.88v1.24M26.5 88.88v1.24M26.5 102.88v1.24M27.5 69.88v1.24M27.5 100.88v2.24M27.5 107.88v1.24M27.5 117.88v1.24M27.5 120.88v1.24M27.5 131.88v1.24M27.5 140.88v1.24M27.5 146.88v1.24M27.5 155.88v1.24M28.5 75.88v1.24M28.5 77.88v1.24M28.5 98.88v2.24M28.5 110.88v1.24M28.5 113.88v2.24M28.5 126.88v1.24M29.5 55.88v1.24M29.5 83.88v1.24M29.5 85.88v1.24M29.5 92.88v1.24M29.5 100.88v1.24M30.5 57.88v1.24M30.5 65.88v1.24M30.5 75.88v2.24M30.5 97.88v2.24M30.5 103.88v1.24M30.5 109.88v1.24M30.5 133.88v1.24M31.5 37.88v1.24M31.5 51.88v1.24M31.5 55.88v1.24M31.5 61.88v1.24M31.5 73.88v1.24M31.5 80.88v1.24M31.5 107.88v1.24M32.5 8.88v1.24M32.5 24.88v1.24M32.5 42.88v1.24M32.5 51.88v2.24M32.5 58.88v1.24M32.5 67.88v1.24M32.5 69.88v1.24M32.5 138.88v1.24M33.5 8.88v1.24M33.5 27.88v1.24M33.5 32.88v1.24M33.5 47.88v1.24M33.5 64.88v1.24M33.5 79.88v1.24M33.5 89.88v1.24M35.5 6.88v1.24M35.5 38.88v1.24"/>
<path stroke="#00ffef" d="M11.5 12.88v1.24M15.5 12.88v1.24M16.5 3.88v1.24M16.5 42.88v1.24M18.5 4.88v1.24M18.5 8.88v1.24M18.5 19.88v1.24M18.5 56.88v1.24M19.5 13.88v1.24M19.5 29.88v1.24M19.5 34.88v1.24M19.5 44.88v1.24M19.5 51.88v1.24M20.5 4.88v1.24M20.5 6.88v1.24M20.5 9.88v1.24M20.5 16.88v2.24M20.5 31.88v1.24M20.5 79.88v1.24M21.5 12.88v1.24M21.5 16.88v1.24M21.5 34.88v1.24M21.5 37.88v2.24M21.5 54.88v1.24M21.5 77.88v1.24M21.5 86.88v1.24M21.5 98.88v1.24M22.5 1.88v1.24M22.5 6.88v1.24M22.5 16.88v1.24M22.5 30.88v1.24M22.5 48.88v1.24M22.5 51.88v1.24M22.5 59.88v2.24M23.5 17.88v1.24M23.5 38.88v1.24M23.5 41.88v1.24M23.5 45.88v1.24M23.5 54.88v1.24M23.5 61.88v1.24M23.5 64.88v1.24M23.5 77.88v1.24M23.5 84.88v1.24M23.5 96.88v1.24M24.5 56.88v1.24M24.5 69.88v1.24M24.5 80.88v1.24M24.5 95.88v1.24M25.5 53.88v1.24M25.5 66.88v1.24M25.5 91.88v1.24M25.5 118.88v1.24M26.5 44.88v1.24M26.5 50.88v1.24M26.5 53.88v1.24M26.5 68.88v1.24M26.5 72.88v1.24M26.5 81.88v1.24M26.5 97.88v1.24M26.5 125.88v1.24M27.5 73.88v1.24M27.5 76.88v1.24M27.5 88.88v1.24M27.5 108.88v1.24M28.5 18.88v1.24M28.5 55.88v1.24M28.5 58.88v1.24M28.5 68.88v1.24M28.5 78.88v1.24M28.5 94.88v1.24M29.5 33.88v1.24M29.5 36.88v1.24M29.5 54.88v1.24M29.5 71.88v1.24M29.5 106.88v1.24M29.5 109.88v1.24M30.5 31.88v1.24M30.5 46.88v1.24M30.5 52.88v1.24M30.5 69.88v1.24M30.5 83.88v1.24M30.5 91.88v1.24M31.5 3.88v1.24M31.5 13.88v1.24M31.5 36.88v1.24M31.5 38.88v1.24M31.5 54.88v1.24M31.5 63.88v1.24M32.5 3.88v1.24M32.5 11.88v1.24M32.5 14.88v1.24M32.5 23.88v1.24M32.5 28.88v1.24M32.5 34.88v1.24M32.5 36.88v1.24M32.5 61.88v1.24M33.5 7.88v1.24"/>
<path stroke="#00d0ff" d="M13.5 97.88v1.24M14.5 1.88v1.24M14.5 3.88v1.24M14.5 52.88v1.24M15.5 53.88v1.24M16.5 0.88v1.24M16.5 13.88v1.24M16.5 29.88v1.24M16.5 43.88v1.24M16.5 64.88v1.24M16.5 82.88v1.24M17.5 4.88v1.24M17.5 28.88v1.24M17.5 31.88v1.24M17.5 38.88v1.24M17.5 44.88v2.24M17.5 48.88v1.24M18.5 5.88v1.24M18.5 11.88v1.24M18.5 18.88v1.24M18.5 27.88v2.24M18.5 30.88v1.24M18.5 39.88v1.24M18.5 64.88v1.24M18.5 77.88v1.24M19.5 -0.12v1.24M19.5 2.88v1.24M19.5 8.88v2.24M19.5 11.88v1.24M19.5 22.88v1.24M19.5 24.88v1.24M19.5 33.88v1.24M19.5 43.88v1.24M19.5 49.88v1.24M19.5 54.88v1.24M19.5 58.88v1.24M19.5 64.88v1.24M19.5 74.88v1.24M19.5 82.88v1.24M19.5 89.88v1.24M20.5 28.88v1.24M20.5 33.88v1.24M20.5 39.88v1.24M20.5 47.88v1.24M20.5 49.88v1.24M20.5 56.88v1.24M20.5 69.88v1.24M20.5 89.88v1.24M21.5 21.88v2.24M21.5 24.88v1.24M21.5 35.88v1.24M21.5 47.88v1.24M21.5 52.88v1.24M21.5 60.88v1.24M21.5 75.88v1.24M21.5 80.88v1.24M21.5 94.88v1.24M21.5 102.88v1.24M22.5 41.88v1.24M22.5 55.88v2.24M22.5 72.88v1.24M22.5 95.88v1.24M22.5 100.88v1.24M22.5 105.88v2.24M23.5 48.88v1.24M23.5 52.88v1.24M23.5 58.88v2.24M23.5 68.88v1.24M23.5 70.88v1.24M23.5 99.88v1.24M23.5 107.88v1.24M24.5 29.88v1.24M24.5 71.88v1.24M24.5 82.88v1.24M24.5 88.88v2.24M24.5 94.88v1.24M24.5 100.88v1.24M24.5 114.88v1.24M24.5 120.88v1.24M25.5 77.88v2.24M25.5 85.88v1.24M25.5 94.88v1.24M25.5 105.88v1.24M25.5 115.88v1.24M25.5 134.88v1.24M26.5 66.88v1.24M26.5 74.88v1.24M26.5 94.88v1.24M26.5 103.88v1.24M26.5 111.88v1.24M26.5 119.88v1.24M26.5 128.88v2.24M26.5 146.88v1.24M26.5 157.88v1.24M27.5 71.88v1.24M27.5 87.88v1.24M27.5 109.88v1.24M27.5 113.88v3.24M27.5 124.88v1.24M27.5 134.88v1.24M28.5 63.88v1.24M28.5 80.88v1.24M28.5 85.88v1.24M28.5 91.88v1.24M28.5 97.88v1.24M28.5 109.88v1.24M28.5 136.88v1.24M28.5 153.88v1.24M29.5 56.88v1.24M29.5 62.88v1.24M29.5 69.88v1.24M29.5 96.88v1.24M29.5 98.88v1.24M29.5 103.88v1.24M30.5 41.88v1.24M30.5 49.88v1.24M30.5 59.88v1.24M30.5 64.88v1.24M30.5 70.88v1.24M30.5 74.88v1.24M30.5 84.88v1.24M30.5 93.88v1.24M30.5 108.88v1.24M30.5 124.88v1.24M31.5 21.88v1.24M31.5 25.88v1.24M31.5 39.88v1.24M31.5 57.88v1.24M31.5 59.88v1.24M31.5 72.88v1.24M31.5 77.88v1.24M31.5 82.88v2.24M31.5 91.88v1.24M32.5 30.88v2.24M32.5 33.88v1.24M33.5 4.88v1.24M33.5 12.88v1.24M33.5 35.88v1.24M33.5 43.88v1.24M34.5 8.88v1.24M34.5 37.88v1.24"/>
<path stroke="#00e5ff" d="M14.5 50.88v1.24M16.5 8.88v1.24M16.5 20.88v1.24M16.5 36.88v1.24M17.5 29.88v2.24M17.5 72.88v1.24M18.5 10.88v1.24M18.5 16.88v1.24M18.5 31.88v1.24M18.5 140.88v1.24M19.5 6.88v1.24M19.5 12.88v1.24M19.5 16.88v1.24M19.5 20.88v1.24M19.5 23.88v1.24M19.5 32.88v1.24M19.5 47.88v1.24M20.5 11.88v1.24M20.5 32.88v1.24M20.5 37.88v2.24M20.5 44.88v1.24M20.5 48.88v1.24M20.5 54.88v1.24M20.5 62.88v1.24M20.5 66.88v2.24M20.5 75.88v1.24M20.5 84.88v1.24M20.5 103.88v1.24M21.5 36.88v1.24M21.5 53.88v1.24M21.5 64.88v1.24M21.5 67.88v1.24M21.5 71.88v1.24M21.5 74.88v1.24M22.5 13.88v1.24M22.5 65.88v1.24M22.5 69.88v1.24M22.5 74.88v1.24M22.5 76.88v1.24M22.5 79.88v1.24M22.5 83.88v1.24M22.5 126.88v1.24M23.5 50.88v1.24M23.5 76.88v1.24M23.5 78.88v2.24M23.5 101.88v1.24M24.5 49.88v1.24M24.5 60.88v2.24M24.5 72.88v1.24M24.5 75.88v2.24M24.5 86.88v1.24M24.5 92.88v1.24M24.5 99.88v1.24M25.5 104.88v1.24M25.5 132.88v2.24M26.5 42.88v2.24M26.5 58.88v1.24M26.5 63.88v2.24M26.5 67.88v1.24M26.5 75.88v1.24M26.5 80.88v1.24M26.5 90.88v1.24M26.5 99.88v1.24M26.5 114.88v1.24M26.5 123.88v2.24M26.5 130.88v1.24M26.5 138.88v1.24M27.5 49.88v1.24M27.5 54.88v1.24M27.5 66.88v1.24M27.5 79.88v1.24M27.5 85.88v1.24M27.5 98.88v1.24M28.5 19.88v1.24M28.5 22.88v1.24M28.5 61.88v1.24M28.5 64.88v1.24M28.5 67.88v1.24M28.5 71.88v1.24M28.5 86.88v2.24M28.5 92.88v1.24M28.5 96.88v1.24M29.5 52.88v1.24M29.5 68.88v1.24M29.5 93.88v2.24M29.5 135.88v1.24M30.5 26.88v1.24M30.5 30.88v1.24M30.5 53.88v1.24M30.5 61.88v1.24M30.5 73.88v1.24M30.5 77.88v3.24M30.5 88.88v2.24M30.5 94.88v1.24M30.5 96.88v1.24M30.5 104.88v1.24M30.5 107.88v1.24M30.5 110.88v1.24M31.5 15.88v1.24M31.5 22.88v1.24M31.5 24.88v1.24M31.5 52.88v1.24M31.5 67.88v1.24M31.5 99.88v1.24M32.5 9.88v1.24M32.5 43.88v1.24M32.5 49.88v1.24M32.5 59.88v1.24M32.5 65.88v1.24M33.5 40.88v1.24M33.5 58.88v1.24"/>
<path stroke="#00faff" d="M16.5 12.88v1.24M16.5 21.88v1.24M16.5 26.88v2.24M17.5 3.88v1.24M17.5 14.88v2.24M18.5 0.88v1.24M18.5 7.88v1.24M18.5 14.88v1.24M18.5 21.88v2.24M18.5 32.88v1.24M18.5 41.88v1.24M19.5 0.88v1.24M19.5 10.88v1.24M19.5 15.88v1.24M19.5 59.88v1.24M19.5 76.88v1.24M19.5 88.88v1.24M19.5 91.88v1.24M20.5 18.88v1.24M20.5 24.88v1.24M20.5 30.88v1.24M20.5 43.88v1.24M20.5 59.88v1.24M20.5 80.88v1.24M21.5 10.88v1.24M21.5 40.88v1.24M21.5 45.88v1.24M21.5 72.88v1.24M21.5 101.88v1.24M22.5 34.88v1.24M22.5 36.88v1.24M22.5 49.88v1.24M22.5 52.88v1.24M22.5 61.88v1.24M22.5 67.88v1.24M22.5 98.88v1.24M23.5 22.88v1.24M23.5 34.88v1.24M23.5 66.88v2.24M23.5 91.88v1.24M23.5 102.88v1.24M23.5 110.88v1.24M24.5 62.88v1.24M25.5 58.88v1.24M25.5 61.88v1.24M25.5 63.88v3.24M25.5 71.88v2.24M25.5 83.88v1.24M25.5 86.88v1.24M25.5 95.88v1.24M25.5 124.88v1.24M26.5 65.88v1.24M26.5 70.88v1.24M26.5 83.88v1.24M26.5 92.88v1.24M27.5 50.88v1.24M27.5 57.88v1.24M27.5 77.88v1.24M27.5 81.88v1.24M27.5 83.88v1.24M27.5 94.88v1.24M27.5 97.88v1.24M27.5 153.88v1.24M28.5 48.88v1.24M28.5 53.88v2.24M28.5 56.88v1.24M28.5 73.88v2.24M28.5 76.88v1.24M28.5 88.88v1.24M28.5 101.88v1.24M28.5 104.88v1.24M28.5 107.88v1.24M28.5 124.88v1.24M29.5 70.88v1.24M29.5 75.88v1.24M29.5 78.88v1.24M29.5 82.88v1.24M29.5 84.88v1.24M29.5 89.88v2.24M29.5 104.88v1.24M30.5 5.88v1.24M30.5 25.88v1.24M30.5 29.88v1.24M30.5 36.88v1.24M30.5 47.88v2.24M30.5 67.88v2.24M30.5 100.88v1.24M30.5 119.88v1.24M31.5 7.88v1.24M31.5 16.88v1.24M31.5 26.88v1.24M31.5 29.88v1.24M31.5 33.88v2.24M31.5 44.88v1.24M31.5 48.88v1.24M31.5 60.88v1.24M31.5 65.88v1.24M31.5 68.88v1.24M31.5 75.88v1.24M32.5 4.88v2.24M32.5 21.88v1.24M32.5 26.88v1.24M32.5 29.88v1.24M32.5 37.88v2.24M32.5 79.88v1.24M32.5 90.88v1.24M33.5 25.88v1.24M33.5 48.88v1.24M33.5 63.88v1.24"/>
<path stroke="#00ff9c" d="M17.5 17.88v1.24M18.5 13.88v1.24M19.5 5.88v1.24M19.5 39.88v1.24M20.5 5.88v1.24M20.5 7.88v1.24M20.5 13.88v1.24M20.5 15.88v1.24M20.5 35.88v1.24M20.5 42.88v1.24M20.5 65.88v1.24M21.5 0.88v1.24M21.5 3.88v1.24M21.5 46.88v1.24M21.5 55.88v1.24M22.5 15.88v1.24M22.5 27.88v1.24M22.5 29.88v1.24M22.5 35.88v1.24M22.5 54.88v1.24M23.5 6.88v1.24M23.5 39.88v1.24M23.5 46.88v2.24M23.5 55.88v1.24M24.5 16.88v1.24M24.5 19.88v1.24M24.5 31.88v1.24M24.5 33.88v1.24M24.5 42.88v1.24M24.5 45.88v1.24M24.5 58.88v1.24M24.5 67.88v1.24M25.5 21.88v1.24M25.5 34.88v1.24M25.5 38.88v1.24M25.5 40.88v1.24M25.5 45.88v1.24M25.5 48.88v1.24M25.5 51.88v1.24M25.5 60.88v1.24M25.5 76.88v1.24M25.5 84.88v1.24M25.5 87.88v1.24M26.5 48.88v2.24M26.5 60.88v2.24M26.5 71.88v1.24M26.5 73.88v1.24M26.5 87.88v1.24M27.5 58.88v1.24M27.5 63.88v1.24M28.5 33.88v1.24M28.5 66.88v1.24M28.5 82.88v1.24M29.5 2.88v1.24M29.5 32.88v1.24M29.5 41.88v1.24M29.5 63.88v1.24M29.5 72.88v1.24M30.5 9.88v1.24M30.5 21.88v1.24M30.5 32.88v1.24M31.5 9.88v1.24M31.5 18.88v1.24M31.5 27.88v1.24M31.5 45.88v1.24M31.5 47.88v1.24M32.5 10.88v1.24M32.5 12.88v1.24M33.5 5.88v1.24"/>
<path stroke="#00ff73" d="M17.5 25.88v1.24M18.5 -0.12v1.24M18.5 1.88v1.24M19.5 3.88v1.24M19.5 17.88v1.24M20.5 0.88v1.24M20.5 34.88v1.24M20.5 36.88v1.24M21.5 15.88v1.24M21.5 19.88v1.24M21.5 33.88v1.24M22.5 17.88v1.24M22.5 23.88v1.24M22.5 46.88v1.24M23.5 2.88v1.24M23.5 7.88v1.24M24.5 28.88v1.24M24.5 38.88v1.24M24.5 53.88v1.24M24.5 79.88v1.24M25.5 2.88v1.24M25.5 18.88v2.24M25.5 30.88v1.24M25.5 57.88v1.24M25.5 69.88v1.24M25.5 80.88v1.24M26.5 45.88v1.24M27.5 37.88v1.24M27.5 53.88v1.24M27.5 59.88v1.24M27.5 80.88v1.24M28.5 35.88v1.24M28.5 42.88v1.24M29.5 22.88v1.24M29.5 45.88v1.24M29.5 51.88v1.24M29.5 58.88v1.24M30.5 18.88v1.24M30.5 38.88v1.24"/>
<path stroke="#00ffb1" d="M17.5 47.88v1.24M17.5 55.88v1.24M18.5 24.88v1.24M19.5 14.88v1.24M19.5 38.88v1.24M20.5 2.88v2.24M21.5 6.88v1.24M21.5 13.88v2.24M21.5 32.88v1.24M22.5 3.88v1.24M22.5 40.88v1.24M22.5 42.88v1.24M22.5 50.88v1.24M22.5 57.88v1.24M23.5 10.88v1.24M23.5 35.88v1.24M24.5 14.88v1.24M24.5 41.88v1.24M24.5 50.88v1.24M24.5 68.88v1.24M24.5 73.88v1.24M24.5 106.88v1.24M25.5 26.88v1.24M25.5 68.88v1.24M26.5 25.88v1.24M26.5 34.88v1.24M26.5 39.88v1.24M26.5 46.88v1.24M26.5 101.88v1.24M27.5 25.88v1.24M27.5 27.88v1.24M27.5 43.88v1.24M27.5 67.88v1.24M27.5 84.88v1.24M27.5 95.88v1.24M27.5 102.88v1.24M28.5 111.88v1.24M29.5 39.88v1.24M29.5 97.88v1.24M30.5 16.88v1.24M30.5 28.88v1.24M30.5 35.88v1.24M30.5 42.88v1.24M30.5 62.88v1.24M31.5 23.88v1.24M31.5 30.88v1.24M31.5 41.88v1.24M31.5 93.88v1.24M32.5 6.88v1.24"/>
<path stroke="#00ffdb" d="M18.5 6.88v1.24M20.5 1.88v1.24M20.5 8.88v1.24M20.5 29.88v1.24M20.5 52.88v1.24M21.5 26.88v1.24M22.5 0.88v1.24M22.5 5.88v1.24M22.5 11.88v1.24M22.5 22.88v1.24M22.5 38.88v1.24M22.5 43.88v1.24M22.5 75.88v1.24M22.5 99.88v1.24M23.5 21.88v1.24M23.5 36.88v1.24M23.5 57.88v1.24M23.5 87.88v1.24M23.5 92.88v1.24M24.5 47.88v1.24M24.5 91.88v1.24M25.5 12.88v1.24M25.5 41.88v1.24M25.5 43.88v1.24M25.5 47.88v1.24M25.5 56.88v1.24M25.5 93.88v1.24M26.5 59.88v1.24M26.5 69.88v1.24M26.5 84.88v2.24M26.5 91.88v1.24M27.5 44.88v1.24M27.5 56.88v1.24M27.5 62.88v1.24M27.5 91.88v2.24M27.5 104.88v1.24M28.5 49.88v1.24M28.5 59.88v2.24M28.5 65.88v1.24M28.5 117.88v1.24M29.5 11.88v1.24M29.5 30.88v1.24M29.5 49.88v2.24M29.5 66.88v1.24M29.5 77.88v1.24M29.5 88.88v1.24M29.5 99.88v1.24M29.5 101.88v1.24M29.5 107.88v1.24M30.5 11.88v1.24M30.5 39.88v1.24M30.5 44.88v1.24M30.5 54.88v1.24M30.5 85.88v2.24M31.5 11.88v1.24M31.5 17.88v1.24M31.5 31.88v1.24M31.5 56.88v1.24M32.5 20.88v1.24M32.5 25.88v1.24M32.5 64.88v1.24M33.5 6.88v1.24M33.5 9.88v1.24M33.5 16.88v1.24M33.5 52.88v1.24"/>
<path stroke="#00ffc6" d="M18.5 67.88v1.24M19.5 18.88v1.24M19.5 21.88v1.24M19.5 31.88v1.24M19.5 36.88v1.24M20.5 -0.12v1.24M20.5 10.88v1.24M20.5 12.88v1.24M20.5 85.88v1.24M21.5 17.88v1.24M21.5 23.88v1.24M21.5 31.88v1.24M21.5 39.88v1.24M21.5 50.88v2.24M22.5 14.88v1.24M22.5 20.88v1.24M22.5 26.88v1.24M22.5 45.88v1.24M22.5 62.88v1.24M22.5 86.88v1.24M23.5 28.88v1.24M23.5 42.88v1.24M23.5 63.88v1.24M23.5 88.88v1.24M24.5 32.88v1.24M24.5 40.88v1.24M24.5 43.88v1.24M24.5 59.88v1.24M24.5 65.88v2.24M24.5 105.88v1.24M24.5 109.88v1.24M25.5 33.88v1.24M25.5 35.88v1.24M25.5 55.88v1.24M26.5 40.88v1.24M27.5 60.88v1.24M27.5 72.88v1.24M27.5 75.88v1.24M27.5 86.88v1.24M27.5 110.88v1.24M28.5 17.88v1.24M28.5 39.88v1.24M28.5 52.88v1.24M28.5 57.88v1.24M28.5 72.88v1.24M28.5 89.88v1.24M28.5 142.88v1.24M29.5 26.88v1.24M29.5 28.88v1.24M29.5 48.88v1.24M29.5 53.88v1.24M29.5 59.88v1.24M29.5 61.88v1.24M30.5 27.88v1.24M30.5 34.88v1.24M30.5 37.88v1.24M30.5 56.88v1.24M30.5 58.88v1.24M30.5 60.88v1.24M30.5 81.88v1.24M31.5 14.88v1.24M31.5 43.88v1.24M31.5 50.88v1.24M31.5 58.88v1.24M31.5 86.88v1.24M32.5 15.88v2.24M33.5 41.88v1.24"/>
<path stroke="#00ff87" d="M19.5 1.88v1.24M20.5 20.88v1.24M20.5 22.88v2.24M21.5 18.88v1.24M21.5 30.88v1.24M21.5 42.88v1.24M21.5 44.88v1.24M22.5 2.88v1.24M22.5 24.88v1.24M22.5 32.88v1.24M23.5 40.88v1.24M23.5 44.88v1.24M24.5 36.88v2.24M24.5 39.88v1.24M24.5 70.88v1.24M25.5 22.88v1.24M25.5 46.88v1.24M25.5 49.88v2.24M25.5 62.88v1.24M25.5 79.88v1.24M26.5 96.88v1.24M27.5 28.88v1.24M27.5 35.88v1.24M27.5 39.88v3.24M27.5 45.88v1.24M27.5 52.88v1.24M27.5 68.88v1.24M27.5 70.88v1.24M28.5 27.88v1.24M28.5 44.88v1.24M28.5 47.88v1.24M28.5 51.88v1.24M28.5 62.88v1.24M28.5 79.88v1.24M29.5 16.88v1.24M29.5 44.88v1.24M29.5 60.88v1.24M30.5 43.88v1.24M30.5 45.88v1.24M30.5 50.88v1.24M31.5 4.88v2.24"/>
<path stroke="#00ff49" d="M19.5 7.88v1.24M21.5 5.88v1.24M21.5 11.88v1.24M21.5 20.88v1.24M21.5 25.88v1.24M22.5 7.88v1.24M22.5 33.88v1.24M23.5 3.88v1.24M23.5 12.88v1.24M23.5 32.88v1.24M23.5 37.88v1.24M23.5 60.88v1.24M24.5 1.88v1.24M24.5 6.88v1.24M25.5 16.88v1.24M25.5 31.88v1.24M25.5 37.88v1.24M26.5 23.88v1.24M26.5 30.88v1.24M26.5 33.88v1.24M27.5 3.88v1.24M27.5 64.88v1.24M28.5 2.88v1.24M28.5 7.88v1.24M28.5 34.88v1.24M28.5 37.88v1.24M29.5 23.88v1.24M29.5 40.88v1.24M29.5 43.88v1.24M30.5 2.88v1.24M30.5 13.88v1.24M30.5 51.88v1.24"/>
<path stroke="#00ff5e" d="M20.5 45.88v1.24M21.5 4.88v1.24M21.5 28.88v1.24M21.5 41.88v1.24M22.5 8.88v2.24M22.5 18.88v1.24M22.5 21.88v1.24M22.5 31.88v1.24M22.5 37.88v1.24M22.5 53.88v1.24M23.5 30.88v1.24M23.5 56.88v1.24M24.5 27.88v1.24M24.5 35.88v1.24M24.5 52.88v1.24M24.5 54.88v1.24M24.5 74.88v1.24M25.5 32.88v1.24M25.5 54.88v1.24M25.5 75.88v1.24M25.5 82.88v1.24M25.5 96.88v1.24M26.5 1.88v1.24M26.5 21.88v1.24M26.5 47.88v1.24M26.5 52.88v1.24M26.5 77.88v1.24M27.5 23.88v1.24M27.5 29.88v1.24M27.5 31.88v1.24M27.5 33.88v1.24M27.5 48.88v1.24M27.5 74.88v1.24M28.5 4.88v1.24M28.5 41.88v1.24M28.5 50.88v1.24M28.5 69.88v1.24M28.5 93.88v1.24M29.5 20.88v1.24M29.5 25.88v1.24M29.5 31.88v1.24M29.5 35.88v1.24M29.5 46.88v1.24M29.5 73.88v1.24M30.5 19.88v1.24M30.5 22.88v1.24M30.5 24.88v1.24M30.5 55.88v1.24M31.5 6.88v1.24M31.5 10.88v1.24M31.5 53.88v1.24M32.5 13.88v1.24"/>
<path stroke="#1fff00" d="M21.5 1.88v1.24M21.5 9.88v1.24M22.5 12.88v1.24M23.5 29.88v1.24M24.5 0.88v1.24M24.5 18.88v1.24M24.5 22.88v1.24M24.5 48.88v1.24M25.5 9.88v1.24M25.5 15.88v1.24M26.5 9.88v1.24M26.5 32.88v1.24M27.5 26.88v1.24M27.5 42.88v1.24M28.5 10.88v1.24M29.5 12.88v1.24M29.5 64.88v1.24M30.5 6.88v1.24M30.5 15.88v1.24M30.5 40.88v1.24"/>
<path stroke="#00ff0b" d="M21.5 7.88v1.24M21.5 27.88v1.24M23.5 0.88v1.24M23.5 9.88v1.24M23.5 13.88v1.24M23.5 19.88v2.24M24.5 8.88v1.24M24.5 13.88v1.24M25.5 36.88v1.24M26.5 20.88v1.24M26.5 22.88v1.24M26.5 26.88v1.24M26.5 29.88v1.24M26.5 37.88v2.24M27.5 15.88v1.24M27.5 20.88v1.24M27.5 36.88v1.24M27.5 47.88v1.24M27.5 51.88v1.24M28.5 43.88v1.24M29.5 29.88v1.24M30.5 7.88v1.24M30.5 20.88v1.24M31.5 8.88v1.24M31.5 28.88v1.24M31.5 32.88v1.24"/>
<path stroke="#00ff34" d="M21.5 8.88v1.24M22.5 28.88v1.24M22.5 47.88v1.24M23.5 1.88v1.24M23.5 5.88v1.24M23.5 16.88v1.24M23.5 25.88v1.24M23.5 49.88v1.24M23.5 51.88v1.24M23.5 65.88v1.24M24.5 10.88v1.24M24.5 21.88v1.24M24.5 30.88v1.24M24.5 44.88v1.24M24.5 51.88v1.24M24.5 63.88v1.24M25.5 42.88v1.24M25.5 70.88v1.24M26.5 15.88v1.24M26.5 17.88v1.24M27.5 6.88v1.24M27.5 46.88v1.24M27.5 99.88v1.24M28.5 23.88v1.24M28.5 29.88v1.24M28.5 32.88v1.24M29.5 24.88v1.24M30.5 12.88v1.24M30.5 14.88v1.24M30.5 23.88v1.24M30.5 33.88v1.24M31.5 12.88v1.24"/>
<path stroke="#49ff00" d="M22.5 4.88v1.24M23.5 14.88v1.24M23.5 18.88v1.24M24.5 17.88v1.24M25.5 1.88v1.24M25.5 3.88v1.24M25.5 23.88v1.24M25.5 27.88v1.24M25.5 29.88v1.24M27.5 38.88v1.24M28.5 12.88v1.24M28.5 30.88v1.24M29.5 37.88v1.24"/>
<path stroke="#00ff1f" d="M22.5 10.88v1.24M22.5 25.88v1.24M23.5 27.88v1.24M23.5 33.88v1.24M24.5 2.88v1.24M24.5 12.88v1.24M24.5 23.88v1.24M24.5 64.88v1.24M25.5 8.88v1.24M26.5 4.88v1.24M26.5 18.88v1.24M26.5 31.88v1.24M26.5 36.88v1.24M26.5 51.88v1.24M27.5 5.88v1.24M27.5 22.88v1.24M27.5 32.88v1.24M27.5 61.88v1.24M27.5 89.88v1.24M28.5 16.88v1.24M28.5 21.88v1.24M28.5 31.88v1.24M28.5 36.88v1.24M28.5 81.88v1.24M29.5 13.88v1.24M29.5 17.88v1.24M30.5 3.88v1.24M30.5 8.88v1.24M31.5 19.88v1.24"/>
<path stroke="#0aff00" d="M22.5 19.88v1.24M23.5 23.88v2.24M24.5 7.88v1.24M24.5 24.88v2.24M24.5 46.88v1.24M25.5 24.88v1.24M25.5 39.88v1.24M25.5 44.88v1.24M26.5 13.88v1.24M26.5 16.88v1.24M26.5 28.88v1.24M26.5 56.88v1.24M27.5 34.88v1.24M28.5 25.88v1.24M28.5 28.88v1.24M29.5 3.88v1.24M29.5 7.88v1.24M29.5 10.88v1.24M29.5 15.88v1.24M29.5 27.88v1.24M29.5 42.88v1.24M30.5 17.88v1.24"/>
<path stroke="#34ff00" d="M22.5 39.88v1.24M23.5 31.88v1.24M23.5 43.88v1.24M25.5 10.88v1.24M26.5 27.88v1.24M26.5 55.88v1.24M26.5 79.88v1.24M27.5 4.88v1.24M27.5 18.88v1.24M27.5 30.88v1.24M27.5 78.88v1.24M28.5 8.88v1.24M28.5 24.88v1.24M28.5 26.88v1.24M30.5 4.88v1.24M31.5 20.88v1.24"/>
<path stroke="#72ff00" d="M23.5 4.88v1.24M24.5 3.88v1.24M24.5 9.88v1.24M24.5 20.88v1.24M26.5 5.88v2.24M27.5 55.88v1.24M28.5 40.88v1.24M29.5 9.88v1.24M29.5 21.88v1.24"/>
<path stroke="#efff00" d="M23.5 8.88v1.24M25.5 25.88v1.24M27.5 21.88v1.24M28.5 9.88v1.24M28.5 38.88v1.24"/>
<path stroke="#5dff00" d="M23.5 11.88v1.24M24.5 4.88v1.24M24.5 26.88v1.24M25.5 20.88v1.24M26.5 35.88v1.24M27.5 9.88v1.24M28.5 20.88v1.24M29.5 5.88v1.24M29.5 8.88v1.24M29.5 18.88v2.24"/>
<path stroke="#b1ff00" d="M23.5 26.88v1.24M25.5 6.88v1.24M25.5 17.88v1.24M25.5 28.88v1.24M26.5 2.88v2.24M27.5 7.88v1.24M27.5 13.88v1.24M29.5 34.88v1.24"/>
<path stroke="#87ff00" d="M24.5 5.88v1.24M24.5 11.88v1.24M24.5 34.88v1.24M24.5 57.88v1.24M26.5 12.88v1.24M27.5 11.88v1.24M27.5 19.88v1.24M29.5 38.88v1.24"/>
<path stroke="#ffbc00" d="M24.5 15.88v1.24M29.5 4.88v1.24"/>
<path stroke="#daff00" d="M25.5 4.88v2.24M27.5 2.88v1.24M28.5 11.88v1.24M29.5 14.88v1.24"/>
<path stroke="#9cff00" d="M25.5 7.88v1.24M25.5 13.88v2.24M27.5 10.88v1.24M27.5 17.88v1.24M28.5 15.88v1.24M30.5 10.88v1.24"/>
<path stroke="#ffa700" d="M25.5 11.88v1.24M27.5 8.88v1.24M28.5 6.88v1.24"/>
<path stroke="#fffa00" d="M25.5 52.88v1.24M26.5 14.88v1.24M28.5 14.88v1.24"/>
<path stroke="#ff7d00" d="M26.5 7.88v1.24"/>
<path stroke="#ff0000" d="M26.5 8.88v1.24M26.5 11.88v1.24"/>
<path stroke="#ff9200" d="M26.5 10.88v1.24M27.5 12.88v1.24M27.5 16.88v1.24"/>
<path stroke="#c5ff00" d="M26.5 19.88v1.24M26.5 41.88v1.24M27.5 1.88v1.24M27.5 14.88v1.24M27.5 24.88v1.24M28.5 3.88v1.24M28.5 13.88v1.24"/>
<path stroke="#ff5400" d="M26.5 24.88v1.24"/>
<path stroke="#ffe500" d="M28.5 5.88v1.24"/>
<path stroke="#ff6800" d="M29.5 6.88v1.24"/>
</g>
<path stroke="#0020ff" stroke-width="1.8" d="M651.36 291.64h11.93"/>
<line x1="139" x2="734.5" y1="658" y2="658" stroke="#333" stroke-width="1.3" stroke-dasharray="2.5,2"/>
<line x1="748" x2="1342.6" y1="658" y2="658" stroke="#333" stroke-width="1.3" stroke-dasharray="2.5,2"/>
<defs><clipPath id="clc"><rect x="138" y="251" width="597.5" height="424"/></clipPath><clipPath id="cld"><rect x="747" y="251" width="596.6" height="424"/></clipPath></defs>
<polyline points="149.11,302.23 155.07,302.23 161.04,302.23 167,302.23 172.97,302.23 178.93,302.23 184.9,302.22 190.86,302.22 196.83,302.21 202.79,302.2 208.76,302.19 214.72,302.17 220.69,302.15 226.65,302.13 232.62,302.11 238.58,302.08 244.55,302.04 250.51,302 256.48,301.96 262.44,301.91 268.41,301.86 274.37,301.79 280.34,301.73 286.3,301.66 292.27,301.58 298.23,301.49 304.2,301.4 310.16,301.29 316.13,301.19 322.09,301.07 328.06,300.94 334.02,300.81 339.99,300.67 345.95,300.51 351.92,300.35 357.88,300.18 363.85,300 369.81,299.8 375.78,299.6 381.74,299.38 387.71,299.16 393.67,298.92 399.64,298.67 405.6,298.41 411.57,298.13 417.53,297.85 423.5,297.55 429.46,297.23 435.43,296.91 441.39,296.56 447.36,296.21 453.32,295.84 459.29,295.45 465.25,295.05 471.22,294.64 477.18,294.21 483.15,293.76 489.11,293.29 495.08,292.81 501.04,292.32 507.01,291.8 512.97,291.27 518.94,290.72 524.9,290.15 530.87,289.56 536.83,288.96 542.8,288.34 548.76,287.69 554.73,287.03 560.69,286.35 566.66,285.64 572.62,284.92 578.59,284.18 584.55,283.41 590.52,282.62 596.48,281.82 602.45,280.99 608.41,280.13 614.38,279.26 620.34,278.36 626.31,277.44 632.27,276.5 638.24,275.53 644.2,274.54 650.17,273.52 656.13,272.48 662.1,271.42 668.06,270.33 674.03,269.21 679.99,268.07 685.96,266.91 691.92,265.71 697.89,264.49 703.85,263.25 709.82,261.97 715.78,260.67 721.75,259.34 727.71,257.98 733.68,256.6 739.64,255.18" fill="none" stroke="#ff0000" stroke-width="4" stroke-linecap="round" stroke-linejoin="round" clip-path="url(#clc)"/>
<polyline points="759,308.24 764.97,308.25 770.93,308.26 776.89,308.26 782.86,308.26 788.83,308.26 794.79,308.25 800.75,308.24 806.72,308.23 812.68,308.21 818.65,308.19 824.62,308.16 830.58,308.13 836.54,308.1 842.51,308.06 848.48,308.02 854.44,307.97 860.4,307.92 866.37,307.87 872.34,307.81 878.3,307.75 884.26,307.69 890.23,307.62 896.19,307.55 902.16,307.47 908.12,307.39 914.09,307.31 920.06,307.22 926.02,307.13 931.99,307.03 937.95,306.93 943.91,306.83 949.88,306.72 955.85,306.61 961.81,306.5 967.77,306.38 973.74,306.26 979.7,306.13 985.67,306 991.63,305.87 997.6,305.73 1003.57,305.59 1009.53,305.44 1015.5,305.3 1021.46,305.14 1027.42,304.99 1033.39,304.83 1039.36,304.66 1045.32,304.49 1051.28,304.32 1057.25,304.15 1063.21,303.97 1069.18,303.78 1075.14,303.6 1081.11,303.4 1087.08,303.21 1093.04,303.01 1099.01,302.81 1104.97,302.6 1110.93,302.39 1116.9,302.18 1122.87,301.96 1128.83,301.74 1134.8,301.51 1140.76,301.28 1146.72,301.05 1152.69,300.81 1158.65,300.57 1164.62,300.33 1170.59,300.08 1176.55,299.83 1182.51,299.57 1188.48,299.31 1194.44,299.05 1200.41,298.78 1206.38,298.51 1212.34,298.23 1218.31,297.95 1224.27,297.67 1230.24,297.38 1236.2,297.09 1242.16,296.8 1248.13,296.5 1254.1,296.2 1260.06,295.89 1266.03,295.58 1271.99,295.27 1277.95,294.95 1283.92,294.63 1289.88,294.3 1295.85,293.97 1301.82,293.64 1307.78,293.3 1313.74,292.96 1319.71,292.62 1325.67,292.27 1331.64,291.92" fill="none" stroke="#0000ff" stroke-width="3.7" stroke-linecap="round" stroke-linejoin="round" clip-path="url(#cld)"/>
<polyline points="150.3,657.2 156.27,657.2 162.23,657.2 168.2,657.2 174.16,657.2 180.12,657.2 186.09,657.2 192.06,657.2 198.02,657.19 203.99,657.19 209.95,657.19 215.92,657.18 221.88,657.18 227.85,657.17 233.81,657.16 239.78,657.15 245.74,657.13 251.71,657.12 257.67,657.1 263.63,657.08 269.6,657.05 275.56,657.03 281.53,656.99 287.5,656.96 293.46,656.92 299.43,656.88 305.39,656.83 311.36,656.78 317.32,656.72 323.28,656.66 329.25,656.59 335.22,656.52 341.18,656.44 347.14,656.35 353.11,656.26 359.08,656.16 365.04,656.05 371,655.93 376.97,655.81 382.94,655.68 388.9,655.54 394.87,655.38 400.83,655.23 406.8,655.06 412.76,654.88 418.73,654.69 424.69,654.48 430.66,654.27 436.62,654.05 442.58,653.81 448.55,653.56 454.51,653.3 460.48,653.03 466.44,652.74 472.41,652.44 478.38,652.13 484.34,651.79 490.31,651.45 496.27,651.09 502.24,650.71 508.2,650.32 514.16,649.91 520.13,649.48 526.1,649.04 532.06,648.57 538.02,648.09 543.99,647.59 549.95,647.07 555.92,646.54 561.88,645.98 567.85,645.4 573.82,644.8 579.78,644.17 585.75,643.53 591.71,642.86 597.67,642.17 603.64,641.46 609.61,640.72 615.57,639.96 621.54,639.18 627.5,638.36 633.46,637.53 639.43,636.66 645.39,635.77 651.36,634.86 657.33,633.91 663.29,632.94 669.26,631.94 675.22,630.91 681.18,629.85 687.15,628.75 693.12,627.63 699.08,626.48 705.05,625.3 711.01,624.08 716.97,622.83 722.94,621.55 728.9,620.23 734.87,618.88 740.84,617.49" fill="none" stroke="#000" stroke-width="3.6" stroke-linecap="round" stroke-linejoin="round" clip-path="url(#clc)"/>
<polyline points="759,657.2 764.97,657.2 770.93,657.2 776.89,657.2 782.86,657.2 788.83,657.2 794.79,657.2 800.75,657.2 806.72,657.19 812.68,657.19 818.65,657.19 824.62,657.18 830.58,657.18 836.54,657.17 842.51,657.16 848.48,657.15 854.44,657.13 860.4,657.12 866.37,657.1 872.34,657.08 878.3,657.05 884.26,657.03 890.23,656.99 896.19,656.96 902.16,656.92 908.12,656.88 914.09,656.83 920.06,656.78 926.02,656.72 931.99,656.66 937.95,656.59 943.91,656.52 949.88,656.44 955.85,656.35 961.81,656.26 967.77,656.16 973.74,656.05 979.7,655.93 985.67,655.81 991.63,655.68 997.6,655.54 1003.57,655.38 1009.53,655.23 1015.5,655.06 1021.46,654.88 1027.42,654.69 1033.39,654.48 1039.36,654.27 1045.32,654.05 1051.28,653.81 1057.25,653.56 1063.21,653.3 1069.18,653.03 1075.14,652.74 1081.11,652.44 1087.08,652.13 1093.04,651.79 1099.01,651.45 1104.97,651.09 1110.93,650.71 1116.9,650.32 1122.87,649.91 1128.83,649.48 1134.8,649.04 1140.76,648.57 1146.72,648.09 1152.69,647.59 1158.65,647.07 1164.62,646.54 1170.59,645.98 1176.55,645.4 1182.51,644.8 1188.48,644.17 1194.44,643.53 1200.41,642.86 1206.38,642.17 1212.34,641.46 1218.31,640.72 1224.27,639.96 1230.24,639.18 1236.2,638.36 1242.16,637.53 1248.13,636.66 1254.1,635.77 1260.06,634.86 1266.03,633.91 1271.99,632.94 1277.95,631.94 1283.92,630.91 1289.88,629.85 1295.85,628.75 1301.82,627.63 1307.78,626.48 1313.74,625.3 1319.71,624.08 1325.67,622.83 1331.64,621.55 1337.61,620.23 1343.57,618.88 1349.53,617.49" fill="none" stroke="#000" stroke-width="3.6" stroke-linecap="round" stroke-linejoin="round" clip-path="url(#cld)"/>
<rect x="138" y="0.6" width="597.5" height="238.9" fill="none" stroke="#000" stroke-width="1.5"/>
<path d="M150.3 0.6v10.5M150.3 239.5v-10.5M162.23 0.6v5.5M162.23 239.5v-5.5M174.16 0.6v5.5M174.16 239.5v-5.5M186.09 0.6v5.5M186.09 239.5v-5.5M198.02 0.6v5.5M198.02 239.5v-5.5M209.95 0.6v5.5M209.95 239.5v-5.5M221.88 0.6v5.5M221.88 239.5v-5.5M233.81 0.6v5.5M233.81 239.5v-5.5M245.74 0.6v5.5M245.74 239.5v-5.5M257.67 0.6v5.5M257.67 239.5v-5.5M269.6 0.6v10.5M269.6 239.5v-10.5M281.53 0.6v5.5M281.53 239.5v-5.5M293.46 0.6v5.5M293.46 239.5v-5.5M305.39 0.6v5.5M305.39 239.5v-5.5M317.32 0.6v5.5M317.32 239.5v-5.5M329.25 0.6v5.5M329.25 239.5v-5.5M341.18 0.6v5.5M341.18 239.5v-5.5M353.11 0.6v5.5M353.11 239.5v-5.5M365.04 0.6v5.5M365.04 239.5v-5.5M376.97 0.6v5.5M376.97 239.5v-5.5M388.9 0.6v10.5M388.9 239.5v-10.5M400.83 0.6v5.5M400.83 239.5v-5.5M412.76 0.6v5.5M412.76 239.5v-5.5M424.69 0.6v5.5M424.69 239.5v-5.5M436.62 0.6v5.5M436.62 239.5v-5.5M448.55 0.6v5.5M448.55 239.5v-5.5M460.48 0.6v5.5M460.48 239.5v-5.5M472.41 0.6v5.5M472.41 239.5v-5.5M484.34 0.6v5.5M484.34 239.5v-5.5M496.27 0.6v5.5M496.27 239.5v-5.5M508.2 0.6v10.5M508.2 239.5v-10.5M520.13 0.6v5.5M520.13 239.5v-5.5M532.06 0.6v5.5M532.06 239.5v-5.5M543.99 0.6v5.5M543.99 239.5v-5.5M555.92 0.6v5.5M555.92 239.5v-5.5M567.85 0.6v5.5M567.85 239.5v-5.5M579.78 0.6v5.5M579.78 239.5v-5.5M591.71 0.6v5.5M591.71 239.5v-5.5M603.64 0.6v5.5M603.64 239.5v-5.5M615.57 0.6v5.5M615.57 239.5v-5.5M627.5 0.6v10.5M627.5 239.5v-10.5M639.43 0.6v5.5M639.43 239.5v-5.5M651.36 0.6v5.5M651.36 239.5v-5.5M663.29 0.6v5.5M663.29 239.5v-5.5M675.22 0.6v5.5M675.22 239.5v-5.5M687.15 0.6v5.5M687.15 239.5v-5.5M699.08 0.6v5.5M699.08 239.5v-5.5M711.01 0.6v5.5M711.01 239.5v-5.5M722.94 0.6v5.5M722.94 239.5v-5.5M138 215.57h5.5M735.5 215.57h-5.5M138 191.63h5.5M735.5 191.63h-5.5M128 167.7h21M735.5 167.7h-11M138 143.77h5.5M735.5 143.77h-5.5M138 119.83h5.5M735.5 119.83h-5.5M128 95.9h21M735.5 95.9h-11M138 71.97h5.5M735.5 71.97h-5.5M138 48.04h5.5M735.5 48.04h-5.5M128 24.1h21M735.5 24.1h-11" stroke="#000" stroke-width="1.5" fill="none"/>
<rect x="747" y="0.6" width="596.6" height="238.9" fill="none" stroke="#000" stroke-width="1.5"/>
<path d="M759 0.6v10.5M759 239.5v-10.5M770.93 0.6v5.5M770.93 239.5v-5.5M782.86 0.6v5.5M782.86 239.5v-5.5M794.79 0.6v5.5M794.79 239.5v-5.5M806.72 0.6v5.5M806.72 239.5v-5.5M818.65 0.6v5.5M818.65 239.5v-5.5M830.58 0.6v5.5M830.58 239.5v-5.5M842.51 0.6v5.5M842.51 239.5v-5.5M854.44 0.6v5.5M854.44 239.5v-5.5M866.37 0.6v5.5M866.37 239.5v-5.5M878.3 0.6v10.5M878.3 239.5v-10.5M890.23 0.6v5.5M890.23 239.5v-5.5M902.16 0.6v5.5M902.16 239.5v-5.5M914.09 0.6v5.5M914.09 239.5v-5.5M926.02 0.6v5.5M926.02 239.5v-5.5M937.95 0.6v5.5M937.95 239.5v-5.5M949.88 0.6v5.5M949.88 239.5v-5.5M961.81 0.6v5.5M961.81 239.5v-5.5M973.74 0.6v5.5M973.74 239.5v-5.5M985.67 0.6v5.5M985.67 239.5v-5.5M997.6 0.6v10.5M997.6 239.5v-10.5M1009.53 0.6v5.5M1009.53 239.5v-5.5M1021.46 0.6v5.5M1021.46 239.5v-5.5M1033.39 0.6v5.5M1033.39 239.5v-5.5M1045.32 0.6v5.5M1045.32 239.5v-5.5M1057.25 0.6v5.5M1057.25 239.5v-5.5M1069.18 0.6v5.5M1069.18 239.5v-5.5M1081.11 0.6v5.5M1081.11 239.5v-5.5M1093.04 0.6v5.5M1093.04 239.5v-5.5M1104.97 0.6v5.5M1104.97 239.5v-5.5M1116.9 0.6v10.5M1116.9 239.5v-10.5M1128.83 0.6v5.5M1128.83 239.5v-5.5M1140.76 0.6v5.5M1140.76 239.5v-5.5M1152.69 0.6v5.5M1152.69 239.5v-5.5M1164.62 0.6v5.5M1164.62 239.5v-5.5M1176.55 0.6v5.5M1176.55 239.5v-5.5M1188.48 0.6v5.5M1188.48 239.5v-5.5M1200.41 0.6v5.5M1200.41 239.5v-5.5M1212.34 0.6v5.5M1212.34 239.5v-5.5M1224.27 0.6v5.5M1224.27 239.5v-5.5M1236.2 0.6v10.5M1236.2 239.5v-10.5M1248.13 0.6v5.5M1248.13 239.5v-5.5M1260.06 0.6v5.5M1260.06 239.5v-5.5M1271.99 0.6v5.5M1271.99 239.5v-5.5M1283.92 0.6v5.5M1283.92 239.5v-5.5M1295.85 0.6v5.5M1295.85 239.5v-5.5M1307.78 0.6v5.5M1307.78 239.5v-5.5M1319.71 0.6v5.5M1319.71 239.5v-5.5M1331.64 0.6v5.5M1331.64 239.5v-5.5M747 215.57h5.5M1343.6 215.57h-5.5M747 191.63h5.5M1343.6 191.63h-5.5M747 167.7h11M1343.6 167.7h-11M747 143.77h5.5M1343.6 143.77h-5.5M747 119.83h5.5M1343.6 119.83h-5.5M747 95.9h11M1343.6 95.9h-11M747 71.97h5.5M1343.6 71.97h-5.5M747 48.04h5.5M1343.6 48.04h-5.5M747 24.1h11M1343.6 24.1h-11" stroke="#000" stroke-width="1.5" fill="none"/>
<rect x="138" y="251.2" width="597.5" height="423.6" fill="none" stroke="#000" stroke-width="1.5"/>
<path d="M150.3 251.2v10.5M150.3 684.8v-20.2M162.23 251.2v5.5M162.23 674.8v-5.5M174.16 251.2v5.5M174.16 674.8v-5.5M186.09 251.2v5.5M186.09 674.8v-5.5M198.02 251.2v5.5M198.02 674.8v-5.5M209.95 251.2v5.5M209.95 674.8v-5.5M221.88 251.2v5.5M221.88 674.8v-5.5M233.81 251.2v5.5M233.81 674.8v-5.5M245.74 251.2v5.5M245.74 674.8v-5.5M257.67 251.2v5.5M257.67 674.8v-5.5M269.6 251.2v10.5M269.6 684.8v-20.2M281.53 251.2v5.5M281.53 674.8v-5.5M293.46 251.2v5.5M293.46 674.8v-5.5M305.39 251.2v5.5M305.39 674.8v-5.5M317.32 251.2v5.5M317.32 674.8v-5.5M329.25 251.2v5.5M329.25 674.8v-5.5M341.18 251.2v5.5M341.18 674.8v-5.5M353.11 251.2v5.5M353.11 674.8v-5.5M365.04 251.2v5.5M365.04 674.8v-5.5M376.97 251.2v5.5M376.97 674.8v-5.5M388.9 251.2v10.5M388.9 684.8v-20.2M400.83 251.2v5.5M400.83 674.8v-5.5M412.76 251.2v5.5M412.76 674.8v-5.5M424.69 251.2v5.5M424.69 674.8v-5.5M436.62 251.2v5.5M436.62 674.8v-5.5M448.55 251.2v5.5M448.55 674.8v-5.5M460.48 251.2v5.5M460.48 674.8v-5.5M472.41 251.2v5.5M472.41 674.8v-5.5M484.34 251.2v5.5M484.34 674.8v-5.5M496.27 251.2v5.5M496.27 674.8v-5.5M508.2 251.2v10.5M508.2 684.8v-20.2M520.13 251.2v5.5M520.13 674.8v-5.5M532.06 251.2v5.5M532.06 674.8v-5.5M543.99 251.2v5.5M543.99 674.8v-5.5M555.92 251.2v5.5M555.92 674.8v-5.5M567.85 251.2v5.5M567.85 674.8v-5.5M579.78 251.2v5.5M579.78 674.8v-5.5M591.71 251.2v5.5M591.71 674.8v-5.5M603.64 251.2v5.5M603.64 674.8v-5.5M615.57 251.2v5.5M615.57 674.8v-5.5M627.5 251.2v10.5M627.5 684.8v-20.2M639.43 251.2v5.5M639.43 674.8v-5.5M651.36 251.2v5.5M651.36 674.8v-5.5M663.29 251.2v5.5M663.29 674.8v-5.5M675.22 251.2v5.5M675.22 674.8v-5.5M687.15 251.2v5.5M687.15 674.8v-5.5M699.08 251.2v5.5M699.08 674.8v-5.5M711.01 251.2v5.5M711.01 674.8v-5.5M722.94 251.2v5.5M722.94 674.8v-5.5M128 657.2h21M735.5 657.2h-11M138 639.54h5.5M735.5 639.54h-5.5M138 621.88h5.5M735.5 621.88h-5.5M138 604.22h5.5M735.5 604.22h-5.5M138 586.56h5.5M735.5 586.56h-5.5M128 568.9h21M735.5 568.9h-11M138 551.24h5.5M735.5 551.24h-5.5M138 533.58h5.5M735.5 533.58h-5.5M138 515.92h5.5M735.5 515.92h-5.5M138 498.26h5.5M735.5 498.26h-5.5M128 480.6h21M735.5 480.6h-11M138 462.94h5.5M735.5 462.94h-5.5M138 445.28h5.5M735.5 445.28h-5.5M138 427.62h5.5M735.5 427.62h-5.5M138 409.96h5.5M735.5 409.96h-5.5M128 392.3h21M735.5 392.3h-11M138 374.64h5.5M735.5 374.64h-5.5M138 356.98h5.5M735.5 356.98h-5.5M138 339.32h5.5M735.5 339.32h-5.5M138 321.66h5.5M735.5 321.66h-5.5M128 304h21M735.5 304h-11M138 286.34h5.5M735.5 286.34h-5.5M138 268.68h5.5M735.5 268.68h-5.5" stroke="#000" stroke-width="1.5" fill="none"/>
<rect x="747" y="251.2" width="596.6" height="423.6" fill="none" stroke="#000" stroke-width="1.5"/>
<path d="M759 251.2v10.5M759 684.8v-20.2M770.93 251.2v5.5M770.93 674.8v-5.5M782.86 251.2v5.5M782.86 674.8v-5.5M794.79 251.2v5.5M794.79 674.8v-5.5M806.72 251.2v5.5M806.72 674.8v-5.5M818.65 251.2v5.5M818.65 674.8v-5.5M830.58 251.2v5.5M830.58 674.8v-5.5M842.51 251.2v5.5M842.51 674.8v-5.5M854.44 251.2v5.5M854.44 674.8v-5.5M866.37 251.2v5.5M866.37 674.8v-5.5M878.3 251.2v10.5M878.3 684.8v-20.2M890.23 251.2v5.5M890.23 674.8v-5.5M902.16 251.2v5.5M902.16 674.8v-5.5M914.09 251.2v5.5M914.09 674.8v-5.5M926.02 251.2v5.5M926.02 674.8v-5.5M937.95 251.2v5.5M937.95 674.8v-5.5M949.88 251.2v5.5M949.88 674.8v-5.5M961.81 251.2v5.5M961.81 674.8v-5.5M973.74 251.2v5.5M973.74 674.8v-5.5M985.67 251.2v5.5M985.67 674.8v-5.5M997.6 251.2v10.5M997.6 684.8v-20.2M1009.53 251.2v5.5M1009.53 674.8v-5.5M1021.46 251.2v5.5M1021.46 674.8v-5.5M1033.39 251.2v5.5M1033.39 674.8v-5.5M1045.32 251.2v5.5M1045.32 674.8v-5.5M1057.25 251.2v5.5M1057.25 674.8v-5.5M1069.18 251.2v5.5M1069.18 674.8v-5.5M1081.11 251.2v5.5M1081.11 674.8v-5.5M1093.04 251.2v5.5M1093.04 674.8v-5.5M1104.97 251.2v5.5M1104.97 674.8v-5.5M1116.9 251.2v10.5M1116.9 684.8v-20.2M1128.83 251.2v5.5M1128.83 674.8v-5.5M1140.76 251.2v5.5M1140.76 674.8v-5.5M1152.69 251.2v5.5M1152.69 674.8v-5.5M1164.62 251.2v5.5M1164.62 674.8v-5.5M1176.55 251.2v5.5M1176.55 674.8v-5.5M1188.48 251.2v5.5M1188.48 674.8v-5.5M1200.41 251.2v5.5M1200.41 674.8v-5.5M1212.34 251.2v5.5M1212.34 674.8v-5.5M1224.27 251.2v5.5M1224.27 674.8v-5.5M1236.2 251.2v10.5M1236.2 684.8v-20.2M1248.13 251.2v5.5M1248.13 674.8v-5.5M1260.06 251.2v5.5M1260.06 674.8v-5.5M1271.99 251.2v5.5M1271.99 674.8v-5.5M1283.92 251.2v5.5M1283.92 674.8v-5.5M1295.85 251.2v5.5M1295.85 674.8v-5.5M1307.78 251.2v5.5M1307.78 674.8v-5.5M1319.71 251.2v5.5M1319.71 674.8v-5.5M1331.64 251.2v5.5M1331.64 674.8v-5.5M737 657.2h21M1343.6 657.2h-11M747 639.54h5.5M1343.6 639.54h-5.5M747 621.88h5.5M1343.6 621.88h-5.5M747 604.22h5.5M1343.6 604.22h-5.5M747 586.56h5.5M1343.6 586.56h-5.5M737 568.9h21M1343.6 568.9h-11M747 551.24h5.5M1343.6 551.24h-5.5M747 533.58h5.5M1343.6 533.58h-5.5M747 515.92h5.5M1343.6 515.92h-5.5M747 498.26h5.5M1343.6 498.26h-5.5M737 480.6h21M1343.6 480.6h-11M747 462.94h5.5M1343.6 462.94h-5.5M747 445.28h5.5M1343.6 445.28h-5.5M747 427.62h5.5M1343.6 427.62h-5.5M747 409.96h5.5M1343.6 409.96h-5.5M737 392.3h21M1343.6 392.3h-11M747 374.64h5.5M1343.6 374.64h-5.5M747 356.98h5.5M1343.6 356.98h-5.5M747 339.32h5.5M1343.6 339.32h-5.5M747 321.66h5.5M1343.6 321.66h-5.5M737 304h21M1343.6 304h-11M747 286.34h5.5M1343.6 286.34h-5.5M747 268.68h5.5M1343.6 268.68h-5.5" stroke="#000" stroke-width="1.5" fill="none"/>
<defs><linearGradient id="g697" x1="0" y1="1" x2="0" y2="0"><stop offset="0" stop-color="#0000ff"/><stop offset="0.25" stop-color="#00ffff"/><stop offset="0.5" stop-color="#00ff00"/><stop offset="0.75" stop-color="#ffff00"/><stop offset="1" stop-color="#ff0000"/></linearGradient></defs>
<rect x="697" y="370" width="23" height="198.7" fill="url(#g697)" stroke="#000" stroke-width="2.2"/>
<path d="M690 405.4h7M690 466.5h7M690 527.5h7M690 565.5h7" stroke="#444" stroke-width="1.3"/>
<defs><linearGradient id="g1305" x1="0" y1="1" x2="0" y2="0"><stop offset="0" stop-color="#0000ff"/><stop offset="0.25" stop-color="#00ffff"/><stop offset="0.5" stop-color="#00ff00"/><stop offset="0.75" stop-color="#ffff00"/><stop offset="1" stop-color="#ff0000"/></linearGradient></defs>
<rect x="1305.5" y="369" width="21.5" height="198.8" fill="url(#g1305)" stroke="#000" stroke-width="2.2"/>
<path d="M1298.5 435.7h7M1298.5 485.4h7M1298.5 535.4h7M1298.5 565.9h7" stroke="#444" stroke-width="1.3"/>
<g><text x="119" y="176.1" font-size="27.5" text-anchor="end">0.03</text><text x="119" y="104.3" font-size="27.5" text-anchor="end">0.06</text><text x="119" y="32.5" font-size="27.5" text-anchor="end">0.09</text><text x="122" y="665.6" font-size="27.5" text-anchor="end">0.0</text><text x="122" y="577.3" font-size="27.5" text-anchor="end">0.5</text><text x="122" y="489" font-size="27.5" text-anchor="end">1.0</text><text x="122" y="400.7" font-size="27.5" text-anchor="end">1.5</text><text x="122" y="312.4" font-size="27.5" text-anchor="end">2.0</text><text x="150.3" y="713" font-size="27.5" text-anchor="middle">0</text><text x="269.6" y="713" font-size="27.5" text-anchor="middle">10</text><text x="388.9" y="713" font-size="27.5" text-anchor="middle">20</text><text x="508.2" y="713" font-size="27.5" text-anchor="middle">30</text><text x="627.5" y="713" font-size="27.5" text-anchor="middle">40</text><text x="437.7" y="765.5" font-size="46.8" text-anchor="middle">Angular momentum</text><text x="759" y="713" font-size="27.5" text-anchor="middle">0</text><text x="878.3" y="713" font-size="27.5" text-anchor="middle">10</text><text x="997.6" y="713" font-size="27.5" text-anchor="middle">20</text><text x="1116.9" y="713" font-size="27.5" text-anchor="middle">30</text><text x="1236.2" y="713" font-size="27.5" text-anchor="middle">40</text><text x="1046.4" y="765.5" font-size="46.8" text-anchor="middle">Angular momentum</text><text x="160" y="50.5" font-size="55" text-anchor="start">a</text><text transform="translate(769.3,49.2) scale(1.05,1)" font-size="52.5">b</text><text x="160" y="296.6" font-size="55" text-anchor="start">c</text><text transform="translate(769.3,296.8) scale(1.05,1)" font-size="52.5">d</text><text transform="translate(294.5,89.8) scale(1.08,1)" font-size="51.5" fill="#f00">b</text><text x="331" y="68.2" font-size="35" fill="#f00">1</text><text transform="translate(348.8,90.2) scale(1.25,1)" style="font-family:Liberation Serif,serif" font-size="54" fill="#f00">&#931;</text><text x="380.5" y="71.5" font-size="41" fill="#f00">+</text><text x="900" y="89.8" font-size="55" fill="#00f">a</text><text x="941" y="68.2" font-size="35" fill="#00f">1</text><text transform="translate(960.5,89.8) scale(1.08,1)" style="font-family:Liberation Serif,serif" font-size="54" fill="#00f">&#916;</text><text transform="translate(34.3,160.5) rotate(-90)" font-size="46.5" font-style="italic">P<tspan dx="-0.5">(</tspan><tspan dx="8.5">j</tspan><tspan dx="9">)</tspan></text><text transform="translate(44.3,599) rotate(-90)" font-size="48.5">KER<tspan font-size="31.5" dy="12.5" dx="-1.5">OD</tspan><tspan font-size="24" dx="-2.5">II</tspan></text><text transform="translate(44.3,418.7) rotate(-90)" font-size="47.5">(eV)</text><text x="686" y="414.4" font-size="25" text-anchor="end">80</text><text x="686" y="475.5" font-size="25" text-anchor="end">50</text><text x="686" y="536.5" font-size="25" text-anchor="end">20</text><text x="686" y="574.5" font-size="25" text-anchor="end">2</text><text x="663" y="358.6" style="font-family:Liberation Serif,serif" font-size="28">&#215;10<tspan font-size="18" dy="-11">&#8722;5</tspan></text><text x="1295" y="444.7" font-size="25" text-anchor="end">80</text><text x="1295" y="494.4" font-size="25" text-anchor="end">50</text><text x="1295" y="544.4" font-size="25" text-anchor="end">20</text><text x="1295" y="574.9" font-size="25" text-anchor="end">2</text><text x="1270" y="358.6" style="font-family:Liberation Serif,serif" font-size="28">&#215;10<tspan font-size="18" dy="-11">&#8722;5</tspan></text></g>
</svg></body></html>
